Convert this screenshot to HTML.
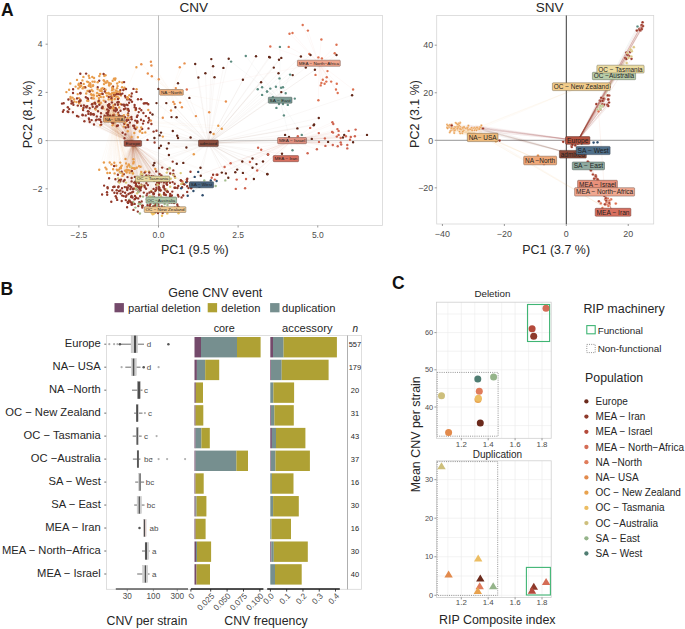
<!DOCTYPE html>
<html><head><meta charset="utf-8"><style>
html,body{margin:0;padding:0;background:#fff;}
svg{display:block;font-family:"Liberation Sans", sans-serif;}
</style></head><body>
<svg width="685" height="629" viewBox="0 0 685 629">
<defs><clipPath id="clipc"><rect x="47.6" y="15.5" width="334.8" height="210"/></clipPath><clipPath id="clips"><rect x="436.7" y="15.5" width="217" height="208.5"/></clipPath></defs>
<rect width="685" height="629" fill="#fff"/>
<text x="1" y="16" font-size="17.5" font-weight="bold" fill="#111">A</text>
<text x="0.5" y="295" font-size="17.5" font-weight="bold" fill="#111">B</text>
<text x="392" y="288.6" font-size="17.5" font-weight="bold" fill="#111">C</text>
<text x="193.8" y="11.8" font-size="13.55" text-anchor="middle" fill="#262626" >CNV</text>
<rect x="47.6" y="15.5" width="334.8" height="210.0" fill="none" stroke="#d6d6d6" stroke-width="0.8"/>
<line x1="158.50" y1="15.50" x2="158.50" y2="225.50" stroke="#a0a0a0" stroke-width="0.7" />
<line x1="47.60" y1="140.60" x2="382.40" y2="140.60" stroke="#b5b5b5" stroke-width="0.7" />
<g clip-path="url(#clipc)"><path d="M245.8 56.0L280.0 100.2M231.1 61.6L280.0 100.2M257.7 89.3L280.0 100.2M262.1 87.2L280.0 100.2M267.0 91.4L280.0 100.2M262.1 94.9L280.0 100.2M279.9 46.9L280.0 100.2M279.5 78.4L280.0 100.2M290.1 74.6L280.0 100.2M267.1 91.6L280.0 100.2M270.3 88.6L280.0 100.2M275.9 86.8L280.0 100.2M281.1 87.7L280.0 100.2M283.0 87.2L280.0 100.2M285.7 93.3L280.0 100.2M272.9 97.3L280.0 100.2M279.0 104.0L280.0 100.2M283.0 104.0L280.0 100.2M287.8 104.9L280.0 100.2M276.4 107.9L280.0 100.2M294.8 98.6L280.0 100.2M283.9 115.4L280.0 100.2M301.8 134.9L280.0 100.2M292.5 150.3L280.0 100.2" stroke="#5d8c80" stroke-width="0.25" stroke-opacity="0.170" fill="none"/>
<path d="M256.0 56.3L208.4 143.4M269.1 57.0L208.4 143.4M228.7 58.8L208.4 143.4M211.3 59.1L208.4 143.4M195.2 64.0L208.4 143.4M213.1 66.2L208.4 143.4M223.4 67.9L208.4 143.4M205.4 73.2L208.4 143.4M198.4 77.5L208.4 143.4M214.5 77.2L208.4 143.4M178.0 83.3L208.4 143.4M242.9 79.8L208.4 143.4M261.1 82.3L208.4 143.4M158.4 88.9L208.4 143.4M189.4 97.9L208.4 143.4M166.3 103.1L208.4 143.4M156.5 103.1L208.4 143.4M175.4 107.3L208.4 143.4M171.5 117.1L208.4 143.4M176.6 117.3L208.4 143.4M152.5 114.5L208.4 143.4M269.9 57.4L208.4 143.4M279.0 59.7L208.4 143.4M281.3 57.9L208.4 143.4M300.9 56.5L208.4 143.4M310.5 55.0L208.4 143.4M336.5 55.0L208.4 143.4M273.8 67.6L208.4 143.4M305.8 67.6L208.4 143.4M314.9 69.8L208.4 143.4M278.5 73.3L208.4 143.4M292.7 75.1L208.4 143.4M352.1 95.2L208.4 143.4M281.3 92.1L208.4 143.4M318.8 118.0L208.4 143.4M314.1 124.5L208.4 143.4M313.7 125.3L208.4 143.4M297.4 128.4L208.4 143.4M367.0 134.9L208.4 143.4M285.1 134.9L208.4 143.4M289.0 137.0L208.4 143.4M344.2 134.9L208.4 143.4M343.0 137.5L208.4 143.4M311.8 138.9L208.4 143.4M353.1 142.2L208.4 143.4M328.1 141.9L208.4 143.4M282.0 153.8L208.4 143.4M267.3 174.0L208.4 143.4M210.4 132.3L208.4 143.4M172.8 131.0L208.4 143.4M190.6 137.5L208.4 143.4M177.2 135.8L208.4 143.4M178.0 138.0L208.4 143.4M161.0 132.6L208.4 143.4M159.6 135.4L208.4 143.4M154.4 138.0L208.4 143.4M168.7 143.3L208.4 143.4M160.9 145.8L208.4 143.4M159.1 148.0L208.4 143.4M167.0 148.6L208.4 143.4M186.4 147.5L208.4 143.4M168.9 155.0L208.4 143.4M267.9 154.5L208.4 143.4M154.4 162.9L208.4 143.4M153.5 165.2L208.4 143.4M176.8 163.8L208.4 143.4M183.3 162.9L208.4 143.4M200.5 167.7L208.4 143.4M200.8 175.7L208.4 143.4M242.3 161.5L208.4 143.4M252.5 158.5L208.4 143.4M256.5 164.1L208.4 143.4M263.0 161.5L208.4 143.4M252.5 167.7L208.4 143.4M237.2 169.6L208.4 143.4M235.3 172.2L208.4 143.4M242.9 172.9L208.4 143.4M221.8 172.6L208.4 143.4M225.9 173.4L208.4 143.4M228.3 177.8L208.4 143.4M253.9 179.0L208.4 143.4M267.4 174.3L208.4 143.4" stroke="#7a4030" stroke-width="0.25" stroke-opacity="0.170" fill="none"/>
<path d="M184.5 63.4L171.5 92.4M179.8 67.2L171.5 92.4M158.8 79.3L171.5 92.4M175.8 88.1L171.5 92.4M225.9 101.5L171.5 92.4M173.3 101.9L171.5 92.4M174.5 104.0L171.5 92.4M180.1 102.6L171.5 92.4M181.9 107.3L171.5 92.4M171.0 110.5L171.5 92.4M141.3 64.3L171.5 92.4M147.8 73.5L171.5 92.4M162.8 117.8L171.5 92.4M195.9 116.1L171.5 92.4M209.2 112.2L171.5 92.4M150.9 61.8L171.5 92.4M151.4 65.5L171.5 92.4M151.8 76.3L171.5 92.4M150.9 120.6L171.5 92.4" stroke="#e8904e" stroke-width="0.25" stroke-opacity="0.170" fill="none"/>
<path d="M186.8 89.5L318.9 63.3M302.7 25.0L318.9 63.3M307.9 30.6L318.9 63.3M289.5 33.7L318.9 63.3M292.5 33.0L318.9 63.3M321.4 39.5L318.9 63.3M336.5 44.8L318.9 63.3M270.3 46.5L318.9 63.3M288.7 46.9L318.9 63.3M309.3 53.9L318.9 63.3M318.4 57.4L318.9 63.3M321.9 58.4L318.9 63.3M334.7 53.2L318.9 63.3M315.5 74.9L318.9 63.3M327.5 71.1L318.9 63.3M326.7 77.2L318.9 63.3M322.8 79.8L318.9 63.3M326.3 81.6L318.9 63.3M321.4 83.0L318.9 63.3M324.6 83.7L318.9 63.3M331.2 81.6L318.9 63.3M320.7 85.4L318.9 63.3M336.8 83.7L318.9 63.3M336.0 89.5L318.9 63.3M337.7 93.0L318.9 63.3M353.1 89.5L318.9 63.3M318.4 100.3L318.9 63.3" stroke="#dd7252" stroke-width="0.25" stroke-opacity="0.170" fill="none"/>
<path d="M136.4 67.3L114.0 119.2M218.3 125.8L114.0 119.2M221.8 128.8L114.0 119.2M213.6 134.0L114.0 119.2M162.8 136.6L114.0 119.2M193.8 154.2L114.0 119.2M169.8 168.2L114.0 119.2M155.3 169.0L114.0 119.2M112.0 90.2L114.0 119.2M104.2 75.7L114.0 119.2M105.6 89.7L114.0 119.2M99.3 76.1L114.0 119.2M93.8 98.4L114.0 119.2M94.6 81.7L114.0 119.2M102.8 88.2L114.0 119.2M115.6 92.8L114.0 119.2M112.7 80.8L114.0 119.2M116.0 96.6L114.0 119.2M88.3 82.1L114.0 119.2M109.5 94.2L114.0 119.2M103.5 97.0L114.0 119.2M114.0 78.8L114.0 119.2M82.6 88.4L114.0 119.2M105.5 75.2L114.0 119.2M100.2 74.0L114.0 119.2M70.6 98.7L114.0 119.2M100.8 96.9L114.0 119.2M89.3 90.6L114.0 119.2M78.7 85.1L114.0 119.2M113.4 105.4L114.0 119.2M117.6 96.6L114.0 119.2M115.0 79.7L114.0 119.2M92.6 81.6L114.0 119.2M117.6 86.1L114.0 119.2M86.2 93.5L114.0 119.2M113.5 108.8L114.0 119.2M92.8 86.1L114.0 119.2M101.7 90.9L114.0 119.2M109.5 83.3L114.0 119.2M78.9 98.1L114.0 119.2M70.3 83.5L114.0 119.2M112.1 99.5L114.0 119.2M83.4 76.9L114.0 119.2M88.3 100.8L114.0 119.2M88.8 75.8L114.0 119.2M111.1 94.3L114.0 119.2M124.4 89.0L114.0 119.2M117.2 83.5L114.0 119.2M85.6 87.4L114.0 119.2M81.1 85.8L114.0 119.2M88.8 85.9L114.0 119.2M90.7 86.9L114.0 119.2M77.7 94.1L114.0 119.2M116.8 93.2L114.0 119.2M119.4 94.1L114.0 119.2M76.5 102.1L114.0 119.2M122.3 82.5L114.0 119.2M66.4 92.1L114.0 119.2M100.4 94.3L114.0 119.2M127.8 97.7L114.0 119.2M100.5 103.3L114.0 119.2M112.9 107.9L114.0 119.2M70.5 97.0L114.0 119.2M74.4 101.6L114.0 119.2M107.2 81.1L114.0 119.2M79.3 102.4L114.0 119.2M98.9 102.4L114.0 119.2M90.6 84.9L114.0 119.2M127.9 98.6L114.0 119.2M97.1 93.0L114.0 119.2M111.9 100.0L114.0 119.2M124.5 87.8L114.0 119.2M118.7 98.3L114.0 119.2M120.5 104.0L114.0 119.2M119.2 107.4L114.0 119.2M127.3 97.3L114.0 119.2M99.1 100.1L114.0 119.2M117.1 88.3L114.0 119.2M92.3 77.0L114.0 119.2M89.4 77.9L114.0 119.2M78.3 88.4L114.0 119.2M72.5 97.6L114.0 119.2M115.4 78.4L114.0 119.2M69.1 89.8L114.0 119.2M103.0 108.3L114.0 119.2M77.0 79.9L114.0 119.2M80.3 100.4L114.0 119.2M103.7 80.2L114.0 119.2M83.7 83.9L114.0 119.2M89.7 91.4L114.0 119.2M113.4 89.4L114.0 119.2M87.2 100.8L114.0 119.2M100.7 102.8L114.0 119.2M97.7 82.2L114.0 119.2M112.7 86.8L114.0 119.2M99.8 90.4L114.0 119.2M105.9 82.7L114.0 119.2M92.5 98.3L114.0 119.2M108.5 93.0L114.0 119.2M82.4 80.4L114.0 119.2M90.1 83.3L114.0 119.2M115.9 90.5L114.0 119.2M87.5 91.0L114.0 119.2M114.8 99.0L114.0 119.2M78.9 83.6L114.0 119.2M97.6 89.1L114.0 119.2M119.9 92.4L114.0 119.2M112.1 87.7L114.0 119.2M100.5 90.7L114.0 119.2M89.6 84.7L114.0 119.2M78.6 84.6L114.0 119.2M97.0 96.0L114.0 119.2M91.9 95.2L114.0 119.2M80.0 87.0L114.0 119.2M114.0 94.3L114.0 119.2M75.6 86.6L114.0 119.2M108.4 82.6L114.0 119.2M101.5 88.8L114.0 119.2M104.0 84.1L114.0 119.2M92.7 91.1L114.0 119.2M89.0 85.4L114.0 119.2M93.4 94.7L114.0 119.2M87.1 81.6L114.0 119.2M109.4 85.2L114.0 119.2M119.4 91.8L114.0 119.2M109.0 85.3L114.0 119.2M106.9 95.8L114.0 119.2M83.5 87.3L114.0 119.2M114.3 92.6L114.0 119.2M94.1 78.0L114.0 119.2M99.0 94.1L114.0 119.2M111.0 99.0L114.0 119.2M93.1 85.3L114.0 119.2M93.8 95.6L114.0 119.2M106.0 93.0L114.0 119.2M91.1 94.2L114.0 119.2M80.0 86.6L114.0 119.2M98.9 98.1L114.0 119.2M113.8 93.1L114.0 119.2M117.4 91.4L114.0 119.2M91.6 90.0L114.0 119.2M108.6 99.4L114.0 119.2M104.5 81.5L114.0 119.2M113.5 114.9L114.0 119.2M93.9 103.2L114.0 119.2M110.5 108.0L114.0 119.2M112.0 93.2L114.0 119.2M135.4 110.1L114.0 119.2M82.9 108.7L114.0 119.2M136.6 89.3L114.0 119.2M110.9 83.8L114.0 119.2M120.9 95.4L114.0 119.2M122.1 116.9L114.0 119.2M95.7 109.6L114.0 119.2M79.2 103.4L114.0 119.2M74.0 99.3L114.0 119.2M112.8 88.7L114.0 119.2M108.3 93.2L114.0 119.2M112.7 96.6L114.0 119.2M119.4 81.9L114.0 119.2M122.1 87.2L114.0 119.2M148.3 110.0L114.0 119.2M103.8 100.6L114.0 119.2M117.8 114.5L114.0 119.2M130.0 117.6L114.0 119.2M137.3 122.8L114.0 119.2M98.2 101.7L114.0 119.2M112.5 125.3L114.0 119.2M108.9 106.3L114.0 119.2M100.3 125.2L114.0 119.2M127.0 125.0L114.0 119.2M127.6 109.9L114.0 119.2M129.4 95.2L114.0 119.2M141.2 127.5L114.0 119.2M120.4 120.1L114.0 119.2M136.9 127.5L114.0 119.2M139.8 131.5L114.0 119.2M123.9 115.3L114.0 119.2M125.4 122.6L114.0 119.2M127.8 114.6L114.0 119.2M123.8 126.6L114.0 119.2M127.4 117.9L114.0 119.2M140.1 130.6L114.0 119.2M137.9 137.3L114.0 119.2M142.3 132.9L114.0 119.2M134.3 133.0L114.0 119.2M127.8 131.3L114.0 119.2M131.6 137.0L114.0 119.2M145.3 132.4L114.0 119.2M121.0 167.0L114.0 119.2M109.7 162.5L114.0 119.2M103.9 162.5L114.0 119.2M126.7 169.6L114.0 119.2M136.8 167.7L114.0 119.2M113.1 169.2L114.0 119.2M122.4 175.9L114.0 119.2M145.5 171.8L114.0 119.2M111.5 164.4L114.0 119.2M126.1 163.4L114.0 119.2M129.8 170.4L114.0 119.2M133.2 168.1L114.0 119.2M114.3 162.8L114.0 119.2M122.6 173.6L114.0 119.2M141.3 171.9L114.0 119.2M128.0 170.4L114.0 119.2M133.0 173.5L114.0 119.2M133.4 159.3L114.0 119.2M134.5 168.9L114.0 119.2M118.9 169.6L114.0 119.2M127.2 166.7L114.0 119.2M105.4 167.6L114.0 119.2M130.1 166.8L114.0 119.2M106.5 169.3L114.0 119.2M131.9 167.9L114.0 119.2M128.7 165.2L114.0 119.2M116.8 169.6L114.0 119.2M120.1 167.9L114.0 119.2M125.5 158.9L114.0 119.2M125.1 170.8L114.0 119.2M116.2 165.8L114.0 119.2M99.2 169.8L114.0 119.2M117.5 170.4L114.0 119.2M139.0 166.2L114.0 119.2M134.8 168.3L114.0 119.2M121.8 165.6L114.0 119.2M114.6 173.4L114.0 119.2M133.7 162.0L114.0 119.2M133.3 163.4L114.0 119.2M107.4 173.0L114.0 119.2M109.9 172.9L114.0 119.2M126.2 171.5L114.0 119.2M129.6 172.8L114.0 119.2M127.8 169.9L114.0 119.2M126.7 172.5L114.0 119.2M119.7 172.1L114.0 119.2M140.6 166.7L114.0 119.2M128.8 164.4L114.0 119.2M120.8 168.3L114.0 119.2M120.2 162.6L114.0 119.2" stroke="#e89c4c" stroke-width="0.25" stroke-opacity="0.170" fill="none"/>
<path d="M332.4 122.2L292.0 140.6M333.3 124.0L292.0 140.6M310.2 127.9L292.0 140.6M337.4 129.1L292.0 140.6M338.6 130.9L292.0 140.6M355.6 129.6L292.0 140.6M348.7 130.9L292.0 140.6M318.8 133.1L292.0 140.6M332.1 131.9L292.0 140.6M333.0 132.6L292.0 140.6M297.8 136.3L292.0 140.6M336.8 136.6L292.0 140.6M338.6 134.9L292.0 140.6M340.7 138.0L292.0 140.6M345.9 136.3L292.0 140.6M350.8 137.0L292.0 140.6M354.9 136.3L292.0 140.6M324.9 138.4L292.0 140.6M350.0 139.8L292.0 140.6M319.0 141.9L292.0 140.6M340.7 142.4L292.0 140.6M341.2 144.5L292.0 140.6M332.8 145.0L292.0 140.6M337.7 146.3L292.0 140.6M325.4 145.9L292.0 140.6M347.3 145.0L292.0 140.6M347.3 148.4L292.0 140.6M316.9 149.3L292.0 140.6M307.6 153.3L292.0 140.6M268.2 154.5L292.0 140.6M258.1 147.7L292.0 140.6M261.2 149.8L292.0 140.6M230.6 163.3L292.0 140.6M224.6 167.0L292.0 140.6M249.9 162.0L292.0 140.6M257.2 170.5L292.0 140.6M236.7 179.6L292.0 140.6M246.0 179.0L292.0 140.6M235.8 188.9L292.0 140.6M245.1 188.3L292.0 140.6M211.7 177.8L292.0 140.6M214.8 179.6L292.0 140.6M216.6 174.7L292.0 140.6M182.1 181.3L292.0 140.6M186.8 179.6L292.0 140.6" stroke="#cf6450" stroke-width="0.25" stroke-opacity="0.170" fill="none"/>
<path d="M198.2 171.9L201.5 184.8M210.8 180.4L201.5 184.8M216.6 181.0L201.5 184.8M194.7 176.9L201.5 184.8M186.3 182.2L201.5 184.8M181.2 188.3L201.5 184.8M187.7 195.7L201.5 184.8M193.4 191.0L201.5 184.8M202.6 195.3L201.5 184.8M199.4 186.9L201.5 184.8" stroke="#2d4c6c" stroke-width="0.25" stroke-opacity="0.170" fill="none"/>
<path d="M213.1 174.7L132.9 143.4M217.4 174.7L132.9 143.4M187.3 178.7L132.9 143.4M191.2 188.3L132.9 143.4M102.2 108.0L132.9 143.4M145.1 103.3L132.9 143.4M107.2 109.4L132.9 143.4M77.8 105.6L132.9 143.4M118.3 119.6L132.9 143.4M124.1 82.1L132.9 143.4M120.5 110.8L132.9 143.4M63.7 103.2L132.9 143.4M101.1 122.1L132.9 143.4M108.2 112.0L132.9 143.4M106.5 113.1L132.9 143.4M102.6 93.9L132.9 143.4M137.5 115.4L132.9 143.4M89.7 91.5L132.9 143.4M130.7 100.0L132.9 143.4M138.0 99.3L132.9 143.4M148.2 122.4L132.9 143.4M143.8 103.5L132.9 143.4M67.6 111.5L132.9 143.4M131.8 93.5L132.9 143.4M148.7 117.9L132.9 143.4M133.5 88.9L132.9 143.4M111.9 102.4L132.9 143.4M78.4 116.6L132.9 143.4M72.9 112.2L132.9 143.4M71.6 101.0L132.9 143.4M80.4 93.5L132.9 143.4M149.4 120.2L132.9 143.4M80.2 99.7L132.9 143.4M138.7 112.1L132.9 143.4M80.4 92.9L132.9 143.4M131.3 96.4L132.9 143.4M69.2 109.1L132.9 143.4M83.1 110.1L132.9 143.4M94.8 102.7L132.9 143.4M148.3 104.2L132.9 143.4M113.3 123.3L132.9 143.4M143.7 120.9L132.9 143.4M128.3 127.0L132.9 143.4M141.3 110.2L132.9 143.4M82.7 115.2L132.9 143.4M84.4 121.2L132.9 143.4M115.3 94.7L132.9 143.4M77.0 116.0L132.9 143.4M111.9 122.6L132.9 143.4M116.9 94.0L132.9 143.4M77.0 98.4L132.9 143.4M113.1 86.6L132.9 143.4M94.0 124.5L132.9 143.4M150.2 112.8L132.9 143.4M123.9 109.2L132.9 143.4M62.9 111.8L132.9 143.4M104.9 116.5L132.9 143.4M67.8 107.3L132.9 143.4M128.1 125.0L132.9 143.4M128.1 115.2L132.9 143.4M133.2 125.8L132.9 143.4M93.0 114.3L132.9 143.4M143.0 123.6L132.9 143.4M99.0 119.5L132.9 143.4M139.6 108.6L132.9 143.4M117.9 99.1L132.9 143.4M114.0 110.4L132.9 143.4M68.3 112.0L132.9 143.4M151.4 124.0L132.9 143.4M127.3 99.4L132.9 143.4M127.9 109.0L132.9 143.4M101.1 121.9L132.9 143.4M63.7 110.1L132.9 143.4M104.8 91.5L132.9 143.4M124.5 104.9L132.9 143.4M116.9 126.0L132.9 143.4M88.4 113.9L132.9 143.4M143.4 113.0L132.9 143.4M101.2 124.6L132.9 143.4M90.8 113.3L132.9 143.4M79.1 101.5L132.9 143.4M134.3 125.7L132.9 143.4M141.1 99.2L132.9 143.4M114.1 95.8L132.9 143.4M73.4 104.8L132.9 143.4M137.2 122.4L132.9 143.4M125.7 127.5L132.9 143.4M102.0 93.8L132.9 143.4M80.5 100.7L132.9 143.4M117.9 104.7L132.9 143.4M89.7 122.0L132.9 143.4M125.5 108.5L132.9 143.4M89.1 119.6L132.9 143.4M136.5 91.9L132.9 143.4M118.3 102.3L132.9 143.4M118.3 112.8L132.9 143.4M134.5 127.9L132.9 143.4M123.3 90.0L132.9 143.4M104.2 88.9L132.9 143.4M62.0 103.6L132.9 143.4M126.0 89.0L132.9 143.4M85.8 97.3L132.9 143.4M124.5 106.0L132.9 143.4M116.9 117.8L132.9 143.4M96.8 119.6L132.9 143.4M145.9 116.1L132.9 143.4M72.8 102.7L132.9 143.4M117.9 125.5L132.9 143.4M95.3 108.4L132.9 143.4M141.0 119.8L132.9 143.4M146.9 103.2L132.9 143.4M120.3 90.2L132.9 143.4M126.7 120.9L132.9 143.4M119.4 115.9L132.9 143.4M109.3 116.5L132.9 143.4M95.9 120.2L132.9 143.4M129.1 102.8L132.9 143.4M81.1 105.7L132.9 143.4M110.1 115.8L132.9 143.4M125.6 97.4L132.9 143.4M96.8 116.4L132.9 143.4M108.0 114.4L132.9 143.4M128.1 113.4L132.9 143.4M134.6 107.3L132.9 143.4M89.7 108.3L132.9 143.4M94.0 114.6L132.9 143.4M115.6 108.2L132.9 143.4M128.3 109.4L132.9 143.4M95.3 103.8L132.9 143.4M128.4 119.9L132.9 143.4M88.9 118.4L132.9 143.4M136.0 108.3L132.9 143.4M111.5 98.2L132.9 143.4M109.2 107.6L132.9 143.4M113.5 92.9L132.9 143.4M100.8 116.8L132.9 143.4M110.9 107.2L132.9 143.4M118.8 94.0L132.9 143.4M109.4 104.8L132.9 143.4M135.3 120.6L132.9 143.4M92.7 106.7L132.9 143.4M83.9 105.4L132.9 143.4M126.6 119.9L132.9 143.4M105.5 101.8L132.9 143.4M87.9 111.2L132.9 143.4M88.0 99.0L132.9 143.4M118.6 102.0L132.9 143.4M98.0 111.2L132.9 143.4M82.5 114.7L132.9 143.4M83.6 107.8L132.9 143.4M91.5 98.1L132.9 143.4M108.9 105.5L132.9 143.4M99.3 104.8L132.9 143.4M108.8 97.0L132.9 143.4M88.7 111.6L132.9 143.4M115.6 108.4L132.9 143.4M128.8 111.0L132.9 143.4M129.1 99.2L132.9 143.4M121.9 117.1L132.9 143.4M132.0 101.8L132.9 143.4M90.8 114.5L132.9 143.4M127.6 105.1L132.9 143.4M125.0 95.9L132.9 143.4M101.0 113.2L132.9 143.4M118.3 120.3L132.9 143.4M107.4 115.5L132.9 143.4M107.2 113.3L132.9 143.4M110.2 108.0L132.9 143.4M111.3 96.5L132.9 143.4M87.4 98.3L132.9 143.4M104.6 115.7L132.9 143.4M96.3 106.5L132.9 143.4M107.9 105.3L132.9 143.4M119.5 118.2L132.9 143.4M87.2 106.1L132.9 143.4M121.8 104.6L132.9 143.4M131.4 116.9L132.9 143.4M119.7 118.7L132.9 143.4M115.0 104.5L132.9 143.4M113.2 107.6L132.9 143.4M136.9 116.9L132.9 143.4M122.2 116.1L132.9 143.4M126.5 104.6L132.9 143.4M131.6 119.3L132.9 143.4M119.1 115.8L132.9 143.4M123.4 104.6L132.9 143.4M120.8 94.2L132.9 143.4M97.2 106.5L132.9 143.4M115.6 111.3L132.9 143.4M117.3 102.5L132.9 143.4M116.9 109.7L132.9 143.4M109.1 104.1L132.9 143.4M119.5 115.6L132.9 143.4M114.2 114.9L132.9 143.4M91.9 104.4L132.9 143.4M99.3 95.1L132.9 143.4M91.6 120.1L132.9 143.4M110.1 107.7L132.9 143.4M136.0 109.6L132.9 143.4M113.0 115.5L132.9 143.4M85.9 106.6L132.9 143.4M86.5 107.4L132.9 143.4M113.9 93.8L132.9 143.4M134.6 105.0L132.9 143.4M108.7 110.5L132.9 143.4M98.7 100.9L132.9 143.4M116.6 109.4L132.9 143.4M93.6 114.2L132.9 143.4M85.7 115.4L132.9 143.4M100.2 119.8L132.9 143.4M122.4 93.6L132.9 143.4M137.3 121.3L132.9 143.4M102.6 106.8L132.9 143.4M108.4 121.1L132.9 143.4M103.6 73.9L132.9 143.4M73.1 89.3L132.9 143.4M97.7 87.3L132.9 143.4M68.4 99.5L132.9 143.4M99.2 80.8L132.9 143.4M84.9 87.2L132.9 143.4M80.3 73.8L132.9 143.4M108.3 106.5L132.9 143.4M92.4 104.0L132.9 143.4M79.4 101.6L132.9 143.4M101.8 108.0L132.9 143.4M71.4 103.5L132.9 143.4M73.0 93.0L132.9 143.4M80.9 83.3L132.9 143.4M86.1 73.6L132.9 143.4M153.6 131.6L132.9 143.4M154.6 142.5L132.9 143.4M125.0 117.3L132.9 143.4M156.5 130.8L132.9 143.4M148.5 128.4L132.9 143.4M124.3 123.7L132.9 143.4M129.9 122.6L132.9 143.4M119.8 120.8L132.9 143.4M147.5 139.9L132.9 143.4M125.4 134.4L132.9 143.4M124.5 138.3L132.9 143.4M142.2 128.9L132.9 143.4M122.6 132.8L132.9 143.4M135.6 129.1L132.9 143.4M118.6 181.8L132.9 143.4M137.8 211.6L132.9 143.4M167.1 182.1L132.9 143.4M134.9 176.9L132.9 143.4M187.2 186.2L132.9 143.4M171.7 202.6L132.9 143.4M131.3 187.3L132.9 143.4M131.6 204.7L132.9 143.4M149.3 172.5L132.9 143.4M137.9 180.7L132.9 143.4M156.2 171.4L132.9 143.4M130.4 189.1L132.9 143.4M151.5 176.1L132.9 143.4M166.3 181.7L132.9 143.4M168.0 200.0L132.9 143.4M115.4 179.2L132.9 143.4M127.5 202.1L132.9 143.4M138.9 187.4L132.9 143.4M180.8 180.2L132.9 143.4M128.6 185.5L132.9 143.4M121.6 171.8L132.9 143.4M153.5 206.4L132.9 143.4M190.8 183.4L132.9 143.4M163.0 211.4L132.9 143.4M121.7 201.0L132.9 143.4M162.7 213.0L132.9 143.4M181.0 180.6L132.9 143.4M159.6 174.0L132.9 143.4M140.9 187.7L132.9 143.4M107.5 187.3L132.9 143.4M131.9 192.4L132.9 143.4M127.5 177.1L132.9 143.4M138.6 191.4L132.9 143.4M117.2 199.9L132.9 143.4M123.8 174.2L132.9 143.4M133.1 189.0L132.9 143.4M115.7 196.2L132.9 143.4M165.8 194.9L132.9 143.4M137.6 186.4L132.9 143.4M107.7 188.2L132.9 143.4M107.0 192.3L132.9 143.4M155.3 191.1L132.9 143.4M131.6 181.4L132.9 143.4M104.1 185.6L132.9 143.4M183.2 195.5L132.9 143.4M125.8 200.1L132.9 143.4M118.9 191.1L132.9 143.4M158.0 213.0L132.9 143.4M135.0 195.9L132.9 143.4M159.1 197.9L132.9 143.4M139.4 188.7L132.9 143.4M127.1 207.3L132.9 143.4M182.1 187.2L132.9 143.4M114.4 192.8L132.9 143.4M130.1 186.2L132.9 143.4M119.5 180.3L132.9 143.4M163.9 180.6L132.9 143.4M102.1 194.5L132.9 143.4M137.8 180.8L132.9 143.4M146.9 199.3L132.9 143.4M151.9 198.1L132.9 143.4M153.0 207.4L132.9 143.4M190.2 185.0L132.9 143.4M133.5 209.9L132.9 143.4M130.5 202.2L132.9 143.4M165.3 200.9L132.9 143.4M116.5 198.0L132.9 143.4M146.6 195.4L132.9 143.4M135.6 182.9L132.9 143.4M170.2 194.0L132.9 143.4M123.6 181.2L132.9 143.4M131.6 178.0L132.9 143.4M148.8 175.7L132.9 143.4M111.3 201.7L132.9 143.4M112.3 190.3L132.9 143.4M172.3 191.6L132.9 143.4M125.1 192.8L132.9 143.4M174.5 187.7L132.9 143.4M167.2 181.3L132.9 143.4M167.1 184.7L132.9 143.4M132.4 204.2L132.9 143.4M178.7 207.3L132.9 143.4M153.6 188.9L132.9 143.4M166.3 198.0L132.9 143.4M177.6 206.1L132.9 143.4M113.4 187.0L132.9 143.4M162.9 180.4L132.9 143.4M155.3 212.3L132.9 143.4M164.6 188.9L132.9 143.4M159.5 187.9L132.9 143.4M128.0 202.9L132.9 143.4M132.0 171.2L132.9 143.4M151.4 191.7L132.9 143.4M136.0 183.9L132.9 143.4M174.8 207.7L132.9 143.4M127.8 187.6L132.9 143.4M158.2 204.4L132.9 143.4M191.3 187.5L132.9 143.4M165.2 194.6L132.9 143.4M174.8 176.6L132.9 143.4M117.9 174.8L132.9 143.4M187.0 181.3L132.9 143.4M146.4 175.4L132.9 143.4M131.5 170.9L132.9 143.4M153.5 176.5L132.9 143.4M158.9 182.3L132.9 143.4M122.7 191.7L132.9 143.4M135.3 181.7L132.9 143.4M183.2 183.9L132.9 143.4M109.1 178.2L132.9 143.4M146.1 188.7L132.9 143.4M175.4 187.8L132.9 143.4M107.2 194.8L132.9 143.4M161.8 198.0L132.9 143.4M142.3 207.5L132.9 143.4M168.0 177.9L132.9 143.4M134.7 203.9L132.9 143.4M130.2 193.1L132.9 143.4M150.0 206.5L132.9 143.4M174.1 203.1L132.9 143.4M138.3 206.1L132.9 143.4M177.3 204.5L132.9 143.4M188.5 188.1L132.9 143.4M166.2 181.3L132.9 143.4M154.5 180.2L132.9 143.4M137.3 186.6L132.9 143.4M161.8 206.5L132.9 143.4M135.2 198.7L132.9 143.4M134.2 182.6L132.9 143.4M184.4 184.5L132.9 143.4M118.6 186.4L132.9 143.4M163.9 182.6L132.9 143.4M164.0 192.9L132.9 143.4M159.6 181.5L132.9 143.4M119.4 180.4L132.9 143.4M136.5 189.4L132.9 143.4M140.2 186.0L132.9 143.4M149.6 205.5L132.9 143.4M134.5 199.4L132.9 143.4M142.1 205.8L132.9 143.4M127.4 188.7L132.9 143.4M161.4 181.5L132.9 143.4M131.1 197.0L132.9 143.4M178.3 186.0L132.9 143.4M124.8 187.1L132.9 143.4M156.4 187.7L132.9 143.4M157.1 182.6L132.9 143.4M155.1 203.5L132.9 143.4M171.9 195.5L132.9 143.4M147.3 193.6L132.9 143.4M160.3 190.0L132.9 143.4M158.6 189.0L132.9 143.4M138.9 183.1L132.9 143.4M154.0 193.8L132.9 143.4M148.1 177.0L132.9 143.4M155.9 189.9L132.9 143.4M153.5 194.4L132.9 143.4M163.7 185.7L132.9 143.4M140.1 202.9L132.9 143.4M146.4 183.3L132.9 143.4M170.8 196.1L132.9 143.4M167.8 191.9L132.9 143.4M172.9 198.1L132.9 143.4M129.5 201.0L132.9 143.4M143.8 192.6L132.9 143.4M172.6 182.1L132.9 143.4M131.6 196.0L132.9 143.4M117.1 193.2L132.9 143.4M167.1 191.2L132.9 143.4M128.9 200.8L132.9 143.4M171.9 199.9L132.9 143.4M150.4 204.1L132.9 143.4M167.8 180.7L132.9 143.4M137.6 179.1L132.9 143.4M114.6 186.7L132.9 143.4M172.5 201.9L132.9 143.4M120.2 181.6L132.9 143.4M139.2 202.3L132.9 143.4M155.2 204.0L132.9 143.4M126.5 195.5L132.9 143.4M173.4 198.6L132.9 143.4M125.8 196.7L132.9 143.4M142.2 176.5L132.9 143.4M135.8 185.8L132.9 143.4M156.1 184.6L132.9 143.4M154.2 197.5L132.9 143.4M124.6 180.0L132.9 143.4M160.6 190.5L132.9 143.4M121.0 179.6L132.9 143.4M177.9 194.9L132.9 143.4M137.0 182.1L132.9 143.4M181.6 197.4L132.9 143.4M163.5 187.2L132.9 143.4M133.7 188.7L132.9 143.4M122.2 195.6L132.9 143.4M141.7 201.4L132.9 143.4M140.6 190.2L132.9 143.4M147.5 205.2L132.9 143.4M136.2 197.8L132.9 143.4M128.5 194.0L132.9 143.4M131.9 203.1L132.9 143.4M132.1 202.5L132.9 143.4M159.4 190.1L132.9 143.4M177.4 188.0L132.9 143.4M164.0 194.6L132.9 143.4M143.4 178.0L132.9 143.4M141.3 184.7L132.9 143.4M142.9 205.6L132.9 143.4M132.5 197.5L132.9 143.4M159.0 183.6L132.9 143.4M140.8 180.1L132.9 143.4M174.7 183.8L132.9 143.4M141.4 186.6L132.9 143.4M169.4 202.4L132.9 143.4M153.3 192.9L132.9 143.4M118.2 187.3L132.9 143.4M138.2 198.4L132.9 143.4M158.8 186.7L132.9 143.4M144.8 187.2L132.9 143.4M144.5 185.8L132.9 143.4M159.0 194.8L132.9 143.4M170.0 196.1L132.9 143.4M116.7 190.3L132.9 143.4M140.1 196.3L132.9 143.4M126.7 187.5L132.9 143.4M122.0 188.2L132.9 143.4M163.9 178.6L132.9 143.4M123.7 196.1L132.9 143.4M155.6 199.0L132.9 143.4M129.7 201.1L132.9 143.4M163.2 200.1L132.9 143.4M120.4 190.5L132.9 143.4M113.7 186.9L132.9 143.4M149.5 192.5L132.9 143.4M133.1 191.7L132.9 143.4M120.7 193.6L132.9 143.4M147.9 185.1L132.9 143.4M166.4 183.7L132.9 143.4M141.0 177.7L132.9 143.4M127.2 190.0L132.9 143.4M114.1 166.0L132.9 143.4M190.5 171.7L132.9 143.4M154.1 180.8L132.9 143.4M170.2 173.5L132.9 143.4M155.2 205.5L132.9 143.4M144.6 172.6L132.9 143.4M163.7 187.0L132.9 143.4M173.4 174.0L132.9 143.4M173.3 170.4L132.9 143.4M178.5 196.5L132.9 143.4M161.4 175.5L132.9 143.4M172.7 161.6L132.9 143.4M162.2 167.6L132.9 143.4M159.0 206.7L132.9 143.4M167.5 169.1L132.9 143.4M170.0 182.8L132.9 143.4M153.6 177.5L132.9 143.4M165.5 190.3L132.9 143.4M187.2 191.9L132.9 143.4M167.4 191.4L132.9 143.4" stroke="#a0522d" stroke-width="0.25" stroke-opacity="0.102" fill="none"/>
<path d="M225.3 180.4L161.3 200.2M215.7 186.0L161.3 200.2M204.3 180.4L161.3 200.2M169.6 168.0L161.3 200.2M167.5 205.0L161.3 200.2M164.7 204.1L161.3 200.2M148.5 201.2L161.3 200.2M166.8 198.6L161.3 200.2M149.0 201.7L161.3 200.2M149.1 196.8L161.3 200.2M136.5 189.0L161.3 200.2M153.8 201.0L161.3 200.2M152.3 196.7L161.3 200.2M150.1 197.1L161.3 200.2M138.8 203.7L161.3 200.2M157.1 205.0L161.3 200.2M149.6 200.1L161.3 200.2M165.6 208.3L161.3 200.2M143.0 196.6L161.3 200.2M154.2 203.6L161.3 200.2M139.9 213.5L161.3 200.2M152.8 207.0L161.3 200.2M129.5 199.8L161.3 200.2M166.0 209.1L161.3 200.2M147.3 202.2L161.3 200.2M140.3 204.0L161.3 200.2M138.4 191.8L161.3 200.2M133.2 202.3L161.3 200.2M135.4 207.6L161.3 200.2M164.3 207.1L161.3 200.2M157.3 207.7L161.3 200.2M153.0 206.4L161.3 200.2" stroke="#a3bd8e" stroke-width="0.25" stroke-opacity="0.170" fill="none"/>
<path d="M180.7 173.1L152.6 178.9M154.1 180.0L152.6 178.9M182.9 182.4L152.6 178.9M143.5 185.7L152.6 178.9M175.5 198.7L152.6 178.9M166.4 189.4L152.6 178.9M126.0 182.6L152.6 178.9M160.0 194.4L152.6 178.9M118.2 178.4L152.6 178.9M120.5 172.7L152.6 178.9M138.0 181.1L152.6 178.9M160.8 195.8L152.6 178.9M181.3 184.0L152.6 178.9M150.1 196.4L152.6 178.9M142.6 174.1L152.6 178.9M166.8 172.6L152.6 178.9M140.8 178.9L152.6 178.9M148.4 176.3L152.6 178.9M145.1 179.7L152.6 178.9M119.3 182.5L152.6 178.9M153.3 177.8L152.6 178.9M130.6 166.7L152.6 178.9M141.0 174.6L152.6 178.9M148.9 171.5L152.6 178.9M167.5 181.0L152.6 178.9M140.6 185.1L152.6 178.9M140.8 174.1L152.6 178.9M157.6 184.8L152.6 178.9M137.1 181.4L152.6 178.9M151.1 190.9L152.6 178.9M132.6 173.0L152.6 178.9M170.7 178.7L152.6 178.9M175.2 177.9L152.6 178.9M135.0 188.2L152.6 178.9M173.2 175.1L152.6 178.9M137.2 193.3L152.6 178.9M170.2 186.8L152.6 178.9" stroke="#d9c778" stroke-width="0.25" stroke-opacity="0.170" fill="none"/>
<path d="M167.3 213.4L165.0 209.6M153.8 209.0L165.0 209.6M154.0 213.5L165.0 209.6M167.6 208.6L165.0 209.6M154.1 209.3L165.0 209.6M171.0 210.7L165.0 209.6M160.9 208.9L165.0 209.6M162.0 215.8L165.0 209.6M156.8 210.0L165.0 209.6M178.5 213.2L165.0 209.6M152.7 214.3L165.0 209.6M151.6 212.7L165.0 209.6" stroke="#eebe5c" stroke-width="0.25" stroke-opacity="0.170" fill="none"/>
<path d="M136.0 108.3h0M144.8 187.2h0M143.0 123.6h0M159.0 183.6h0M134.5 127.9h0" stroke="#93392a" stroke-width="2.4" stroke-linecap="round" fill="none"/>
<path d="M105.5 75.2h0" stroke="#e89c4c" stroke-width="2.4" stroke-linecap="round" fill="none"/>
<path d="M114.2 114.9h0" stroke="#93392a" stroke-width="2.4" stroke-linecap="round" fill="none"/>
<path d="M316.9 149.3h0" stroke="#cf6450" stroke-width="2.4" stroke-linecap="round" fill="none"/>
<path d="M87.9 111.2h0" stroke="#93392a" stroke-width="2.4" stroke-linecap="round" fill="none"/>
<path d="M77.0 79.9h0" stroke="#e89c4c" stroke-width="2.4" stroke-linecap="round" fill="none"/>
<path d="M111.3 201.7h0" stroke="#93392a" stroke-width="2.4" stroke-linecap="round" fill="none"/>
<path d="M167.5 181.0h0" stroke="#d9c778" stroke-width="2.4" stroke-linecap="round" fill="none"/>
<path d="M133.1 189.0h0" stroke="#93392a" stroke-width="2.4" stroke-linecap="round" fill="none"/>
<path d="M154.1 180.0h0" stroke="#d9c778" stroke-width="2.4" stroke-linecap="round" fill="none"/>
<path d="M135.2 198.7h0M178.7 207.3h0M173.4 174.0h0" stroke="#93392a" stroke-width="2.4" stroke-linecap="round" fill="none"/>
<path d="M90.1 83.3h0" stroke="#e89c4c" stroke-width="2.4" stroke-linecap="round" fill="none"/>
<path d="M123.8 174.2h0M108.9 105.5h0M73.0 93.0h0" stroke="#93392a" stroke-width="2.4" stroke-linecap="round" fill="none"/>
<path d="M210.8 180.4h0" stroke="#2d4c6c" stroke-width="2.4" stroke-linecap="round" fill="none"/>
<path d="M152.8 207.0h0" stroke="#a3bd8e" stroke-width="2.4" stroke-linecap="round" fill="none"/>
<path d="M126.1 163.4h0M137.3 122.8h0" stroke="#e89c4c" stroke-width="2.4" stroke-linecap="round" fill="none"/>
<path d="M204.3 180.4h0" stroke="#a3bd8e" stroke-width="2.4" stroke-linecap="round" fill="none"/>
<path d="M155.3 212.3h0" stroke="#93392a" stroke-width="2.4" stroke-linecap="round" fill="none"/>
<path d="M187.7 195.7h0" stroke="#2d4c6c" stroke-width="2.4" stroke-linecap="round" fill="none"/>
<path d="M160.3 190.0h0" stroke="#93392a" stroke-width="2.4" stroke-linecap="round" fill="none"/>
<path d="M258.1 147.7h0" stroke="#cf6450" stroke-width="2.4" stroke-linecap="round" fill="none"/>
<path d="M282.0 153.8h0" stroke="#622819" stroke-width="2.4" stroke-linecap="round" fill="none"/>
<path d="M101.5 88.8h0" stroke="#e89c4c" stroke-width="2.4" stroke-linecap="round" fill="none"/>
<path d="M128.1 113.4h0M187.2 191.9h0" stroke="#93392a" stroke-width="2.4" stroke-linecap="round" fill="none"/>
<path d="M116.2 165.8h0" stroke="#e89c4c" stroke-width="2.4" stroke-linecap="round" fill="none"/>
<path d="M91.6 120.1h0" stroke="#93392a" stroke-width="2.4" stroke-linecap="round" fill="none"/>
<path d="M160.9 145.8h0" stroke="#622819" stroke-width="2.4" stroke-linecap="round" fill="none"/>
<path d="M112.7 86.8h0" stroke="#e89c4c" stroke-width="2.4" stroke-linecap="round" fill="none"/>
<path d="M94.0 124.5h0M130.1 186.2h0" stroke="#93392a" stroke-width="2.4" stroke-linecap="round" fill="none"/>
<path d="M263.0 161.5h0" stroke="#622819" stroke-width="2.4" stroke-linecap="round" fill="none"/>
<path d="M186.8 179.6h0" stroke="#cf6450" stroke-width="2.4" stroke-linecap="round" fill="none"/>
<path d="M165.2 194.6h0M122.0 188.2h0" stroke="#93392a" stroke-width="2.4" stroke-linecap="round" fill="none"/>
<path d="M318.8 133.1h0" stroke="#cf6450" stroke-width="2.4" stroke-linecap="round" fill="none"/>
<path d="M135.8 185.8h0M141.0 177.7h0M128.6 185.5h0M88.9 118.4h0M167.8 180.7h0M137.6 179.1h0M173.3 170.4h0M124.3 123.7h0M142.3 207.5h0" stroke="#93392a" stroke-width="2.4" stroke-linecap="round" fill="none"/>
<path d="M178.0 138.0h0" stroke="#622819" stroke-width="2.4" stroke-linecap="round" fill="none"/>
<path d="M157.1 182.6h0M128.3 127.0h0M110.2 108.0h0M170.2 173.5h0M169.4 202.4h0M136.5 91.9h0M158.0 213.0h0" stroke="#93392a" stroke-width="2.4" stroke-linecap="round" fill="none"/>
<path d="M186.4 147.5h0M273.8 67.6h0" stroke="#622819" stroke-width="2.4" stroke-linecap="round" fill="none"/>
<path d="M138.3 206.1h0" stroke="#93392a" stroke-width="2.4" stroke-linecap="round" fill="none"/>
<path d="M225.3 180.4h0M149.0 201.7h0" stroke="#a3bd8e" stroke-width="2.4" stroke-linecap="round" fill="none"/>
<path d="M127.2 190.0h0M141.7 201.4h0" stroke="#93392a" stroke-width="2.4" stroke-linecap="round" fill="none"/>
<path d="M117.2 83.5h0" stroke="#e89c4c" stroke-width="2.4" stroke-linecap="round" fill="none"/>
<path d="M67.6 111.5h0" stroke="#93392a" stroke-width="2.4" stroke-linecap="round" fill="none"/>
<path d="M88.3 100.8h0M86.2 93.5h0" stroke="#e89c4c" stroke-width="2.4" stroke-linecap="round" fill="none"/>
<path d="M131.6 178.0h0M129.5 201.0h0" stroke="#93392a" stroke-width="2.4" stroke-linecap="round" fill="none"/>
<path d="M154.1 209.3h0" stroke="#eebe5c" stroke-width="2.4" stroke-linecap="round" fill="none"/>
<path d="M130.1 166.8h0" stroke="#e89c4c" stroke-width="2.4" stroke-linecap="round" fill="none"/>
<path d="M267.1 91.6h0" stroke="#5d8c80" stroke-width="2.4" stroke-linecap="round" fill="none"/>
<path d="M153.8 201.0h0" stroke="#a3bd8e" stroke-width="2.4" stroke-linecap="round" fill="none"/>
<path d="M135.4 110.1h0" stroke="#e89c4c" stroke-width="2.4" stroke-linecap="round" fill="none"/>
<path d="M118.3 102.3h0M182.1 187.2h0" stroke="#93392a" stroke-width="2.4" stroke-linecap="round" fill="none"/>
<path d="M262.1 94.9h0" stroke="#5d8c80" stroke-width="2.4" stroke-linecap="round" fill="none"/>
<path d="M171.7 202.6h0M143.7 120.9h0" stroke="#93392a" stroke-width="2.4" stroke-linecap="round" fill="none"/>
<path d="M336.8 83.7h0" stroke="#dd7252" stroke-width="2.4" stroke-linecap="round" fill="none"/>
<path d="M132.0 171.2h0M130.5 202.2h0" stroke="#93392a" stroke-width="2.4" stroke-linecap="round" fill="none"/>
<path d="M181.2 188.3h0" stroke="#2d4c6c" stroke-width="2.4" stroke-linecap="round" fill="none"/>
<path d="M138.9 183.1h0" stroke="#93392a" stroke-width="2.4" stroke-linecap="round" fill="none"/>
<path d="M149.1 196.8h0" stroke="#a3bd8e" stroke-width="2.4" stroke-linecap="round" fill="none"/>
<path d="M162.7 213.0h0" stroke="#93392a" stroke-width="2.4" stroke-linecap="round" fill="none"/>
<path d="M269.1 57.0h0M225.9 173.4h0" stroke="#622819" stroke-width="2.4" stroke-linecap="round" fill="none"/>
<path d="M140.1 202.9h0M124.6 180.0h0" stroke="#93392a" stroke-width="2.4" stroke-linecap="round" fill="none"/>
<path d="M292.5 150.3h0" stroke="#5d8c80" stroke-width="2.4" stroke-linecap="round" fill="none"/>
<path d="M183.3 162.9h0" stroke="#622819" stroke-width="2.4" stroke-linecap="round" fill="none"/>
<path d="M160.9 208.9h0" stroke="#eebe5c" stroke-width="2.4" stroke-linecap="round" fill="none"/>
<path d="M292.7 75.1h0" stroke="#622819" stroke-width="2.4" stroke-linecap="round" fill="none"/>
<path d="M109.0 85.3h0M107.4 173.0h0" stroke="#e89c4c" stroke-width="2.4" stroke-linecap="round" fill="none"/>
<path d="M119.8 120.8h0M71.6 101.0h0M159.6 174.0h0M93.0 114.3h0" stroke="#93392a" stroke-width="2.4" stroke-linecap="round" fill="none"/>
<path d="M167.3 213.4h0" stroke="#eebe5c" stroke-width="2.4" stroke-linecap="round" fill="none"/>
<path d="M183.2 195.5h0M174.7 183.8h0M148.3 104.2h0M136.0 109.6h0M122.7 191.7h0" stroke="#93392a" stroke-width="2.4" stroke-linecap="round" fill="none"/>
<path d="M327.5 71.1h0" stroke="#dd7252" stroke-width="2.4" stroke-linecap="round" fill="none"/>
<path d="M166.0 209.1h0" stroke="#a3bd8e" stroke-width="2.4" stroke-linecap="round" fill="none"/>
<path d="M129.6 172.8h0" stroke="#e89c4c" stroke-width="2.4" stroke-linecap="round" fill="none"/>
<path d="M141.3 64.3h0" stroke="#e8904e" stroke-width="2.4" stroke-linecap="round" fill="none"/>
<path d="M100.7 102.8h0" stroke="#e89c4c" stroke-width="2.4" stroke-linecap="round" fill="none"/>
<path d="M119.5 115.6h0" stroke="#93392a" stroke-width="2.4" stroke-linecap="round" fill="none"/>
<path d="M83.4 76.9h0M99.1 100.1h0M88.8 75.8h0" stroke="#e89c4c" stroke-width="2.4" stroke-linecap="round" fill="none"/>
<path d="M108.7 110.5h0M150.4 204.1h0" stroke="#93392a" stroke-width="2.4" stroke-linecap="round" fill="none"/>
<path d="M267.4 174.3h0" stroke="#622819" stroke-width="2.4" stroke-linecap="round" fill="none"/>
<path d="M66.4 92.1h0M85.6 87.4h0" stroke="#e89c4c" stroke-width="2.4" stroke-linecap="round" fill="none"/>
<path d="M252.5 167.7h0" stroke="#622819" stroke-width="2.4" stroke-linecap="round" fill="none"/>
<path d="M103.7 80.2h0" stroke="#e89c4c" stroke-width="2.4" stroke-linecap="round" fill="none"/>
<path d="M126.0 182.6h0" stroke="#d9c778" stroke-width="2.4" stroke-linecap="round" fill="none"/>
<path d="M171.0 210.7h0" stroke="#eebe5c" stroke-width="2.4" stroke-linecap="round" fill="none"/>
<path d="M209.2 112.2h0" stroke="#e8904e" stroke-width="2.4" stroke-linecap="round" fill="none"/>
<path d="M302.7 25.0h0" stroke="#dd7252" stroke-width="2.4" stroke-linecap="round" fill="none"/>
<path d="M125.1 170.8h0" stroke="#e89c4c" stroke-width="2.4" stroke-linecap="round" fill="none"/>
<path d="M162.2 167.6h0" stroke="#93392a" stroke-width="2.4" stroke-linecap="round" fill="none"/>
<path d="M162.0 215.8h0" stroke="#eebe5c" stroke-width="2.4" stroke-linecap="round" fill="none"/>
<path d="M347.3 148.4h0" stroke="#cf6450" stroke-width="2.4" stroke-linecap="round" fill="none"/>
<path d="M119.5 180.3h0" stroke="#93392a" stroke-width="2.4" stroke-linecap="round" fill="none"/>
<path d="M173.2 175.1h0" stroke="#d9c778" stroke-width="2.4" stroke-linecap="round" fill="none"/>
<path d="M62.0 103.6h0M115.3 94.7h0" stroke="#93392a" stroke-width="2.4" stroke-linecap="round" fill="none"/>
<path d="M186.3 182.2h0" stroke="#2d4c6c" stroke-width="2.4" stroke-linecap="round" fill="none"/>
<path d="M267.3 174.0h0" stroke="#622819" stroke-width="2.4" stroke-linecap="round" fill="none"/>
<path d="M122.2 116.1h0M167.1 182.1h0M118.3 119.6h0" stroke="#93392a" stroke-width="2.4" stroke-linecap="round" fill="none"/>
<path d="M194.7 176.9h0" stroke="#2d4c6c" stroke-width="2.4" stroke-linecap="round" fill="none"/>
<path d="M136.9 127.5h0" stroke="#e89c4c" stroke-width="2.4" stroke-linecap="round" fill="none"/>
<path d="M91.9 104.4h0" stroke="#93392a" stroke-width="2.4" stroke-linecap="round" fill="none"/>
<path d="M106.5 169.3h0M79.3 102.4h0" stroke="#e89c4c" stroke-width="2.4" stroke-linecap="round" fill="none"/>
<path d="M86.5 107.4h0M163.2 200.1h0" stroke="#93392a" stroke-width="2.4" stroke-linecap="round" fill="none"/>
<path d="M124.5 87.8h0" stroke="#e89c4c" stroke-width="2.4" stroke-linecap="round" fill="none"/>
<path d="M348.7 130.9h0" stroke="#cf6450" stroke-width="2.4" stroke-linecap="round" fill="none"/>
<path d="M63.7 110.1h0" stroke="#93392a" stroke-width="2.4" stroke-linecap="round" fill="none"/>
<path d="M156.8 210.0h0" stroke="#eebe5c" stroke-width="2.4" stroke-linecap="round" fill="none"/>
<path d="M118.2 178.4h0" stroke="#d9c778" stroke-width="2.4" stroke-linecap="round" fill="none"/>
<path d="M89.1 119.6h0M116.5 198.0h0M126.5 104.6h0M68.3 112.0h0M114.1 95.8h0" stroke="#93392a" stroke-width="2.4" stroke-linecap="round" fill="none"/>
<path d="M77.7 94.1h0" stroke="#e89c4c" stroke-width="2.4" stroke-linecap="round" fill="none"/>
<path d="M125.8 200.1h0" stroke="#93392a" stroke-width="2.4" stroke-linecap="round" fill="none"/>
<path d="M108.9 106.3h0" stroke="#e89c4c" stroke-width="2.4" stroke-linecap="round" fill="none"/>
<path d="M146.4 175.4h0" stroke="#93392a" stroke-width="2.4" stroke-linecap="round" fill="none"/>
<path d="M162.8 117.8h0" stroke="#e8904e" stroke-width="2.4" stroke-linecap="round" fill="none"/>
<path d="M107.9 105.3h0M95.3 108.4h0M71.4 103.5h0M117.2 199.9h0M128.0 202.9h0" stroke="#93392a" stroke-width="2.4" stroke-linecap="round" fill="none"/>
<path d="M336.5 55.0h0M253.9 179.0h0" stroke="#622819" stroke-width="2.4" stroke-linecap="round" fill="none"/>
<path d="M245.8 56.0h0" stroke="#5d8c80" stroke-width="2.4" stroke-linecap="round" fill="none"/>
<path d="M91.5 98.1h0M145.1 103.3h0" stroke="#93392a" stroke-width="2.4" stroke-linecap="round" fill="none"/>
<path d="M82.4 80.4h0M91.9 95.2h0" stroke="#e89c4c" stroke-width="2.4" stroke-linecap="round" fill="none"/>
<path d="M97.2 106.5h0" stroke="#93392a" stroke-width="2.4" stroke-linecap="round" fill="none"/>
<path d="M367.0 134.9h0" stroke="#622819" stroke-width="2.4" stroke-linecap="round" fill="none"/>
<path d="M134.3 125.7h0M105.5 101.8h0M88.4 113.9h0" stroke="#93392a" stroke-width="2.4" stroke-linecap="round" fill="none"/>
<path d="M93.8 95.6h0" stroke="#e89c4c" stroke-width="2.4" stroke-linecap="round" fill="none"/>
<path d="M213.1 66.2h0" stroke="#622819" stroke-width="2.4" stroke-linecap="round" fill="none"/>
<path d="M133.3 163.4h0M112.0 90.2h0" stroke="#e89c4c" stroke-width="2.4" stroke-linecap="round" fill="none"/>
<path d="M355.6 129.6h0" stroke="#cf6450" stroke-width="2.4" stroke-linecap="round" fill="none"/>
<path d="M111.9 100.0h0" stroke="#e89c4c" stroke-width="2.4" stroke-linecap="round" fill="none"/>
<path d="M200.5 167.7h0" stroke="#622819" stroke-width="2.4" stroke-linecap="round" fill="none"/>
<path d="M92.8 86.1h0" stroke="#e89c4c" stroke-width="2.4" stroke-linecap="round" fill="none"/>
<path d="M285.1 134.9h0" stroke="#622819" stroke-width="2.4" stroke-linecap="round" fill="none"/>
<path d="M136.6 89.3h0" stroke="#e89c4c" stroke-width="2.4" stroke-linecap="round" fill="none"/>
<path d="M158.6 189.0h0" stroke="#93392a" stroke-width="2.4" stroke-linecap="round" fill="none"/>
<path d="M125.5 158.9h0" stroke="#e89c4c" stroke-width="2.4" stroke-linecap="round" fill="none"/>
<path d="M131.6 204.7h0" stroke="#93392a" stroke-width="2.4" stroke-linecap="round" fill="none"/>
<path d="M336.5 44.8h0" stroke="#dd7252" stroke-width="2.4" stroke-linecap="round" fill="none"/>
<path d="M129.5 199.8h0" stroke="#a3bd8e" stroke-width="2.4" stroke-linecap="round" fill="none"/>
<path d="M106.9 95.8h0" stroke="#e89c4c" stroke-width="2.4" stroke-linecap="round" fill="none"/>
<path d="M158.8 79.3h0" stroke="#e8904e" stroke-width="2.4" stroke-linecap="round" fill="none"/>
<path d="M230.6 163.3h0" stroke="#cf6450" stroke-width="2.4" stroke-linecap="round" fill="none"/>
<path d="M164.0 194.6h0" stroke="#93392a" stroke-width="2.4" stroke-linecap="round" fill="none"/>
<path d="M127.8 131.3h0" stroke="#e89c4c" stroke-width="2.4" stroke-linecap="round" fill="none"/>
<path d="M276.4 107.9h0" stroke="#5d8c80" stroke-width="2.4" stroke-linecap="round" fill="none"/>
<path d="M195.9 116.1h0" stroke="#e8904e" stroke-width="2.4" stroke-linecap="round" fill="none"/>
<path d="M127.4 117.9h0" stroke="#e89c4c" stroke-width="2.4" stroke-linecap="round" fill="none"/>
<path d="M100.8 116.8h0" stroke="#93392a" stroke-width="2.4" stroke-linecap="round" fill="none"/>
<path d="M110.5 108.0h0" stroke="#e89c4c" stroke-width="2.4" stroke-linecap="round" fill="none"/>
<path d="M174.5 187.7h0" stroke="#93392a" stroke-width="2.4" stroke-linecap="round" fill="none"/>
<path d="M223.4 67.9h0" stroke="#622819" stroke-width="2.4" stroke-linecap="round" fill="none"/>
<path d="M245.1 188.3h0" stroke="#cf6450" stroke-width="2.4" stroke-linecap="round" fill="none"/>
<path d="M145.9 116.1h0" stroke="#93392a" stroke-width="2.4" stroke-linecap="round" fill="none"/>
<path d="M324.6 83.7h0" stroke="#dd7252" stroke-width="2.4" stroke-linecap="round" fill="none"/>
<path d="M155.2 205.5h0M164.0 192.9h0" stroke="#93392a" stroke-width="2.4" stroke-linecap="round" fill="none"/>
<path d="M228.3 177.8h0M200.8 175.7h0" stroke="#622819" stroke-width="2.4" stroke-linecap="round" fill="none"/>
<path d="M78.7 85.1h0" stroke="#e89c4c" stroke-width="2.4" stroke-linecap="round" fill="none"/>
<path d="M88.0 99.0h0M191.2 188.3h0" stroke="#93392a" stroke-width="2.4" stroke-linecap="round" fill="none"/>
<path d="M261.1 82.3h0" stroke="#622819" stroke-width="2.4" stroke-linecap="round" fill="none"/>
<path d="M111.5 164.4h0" stroke="#e89c4c" stroke-width="2.4" stroke-linecap="round" fill="none"/>
<path d="M118.3 112.8h0M115.6 111.3h0M118.2 187.3h0M108.2 112.0h0" stroke="#93392a" stroke-width="2.4" stroke-linecap="round" fill="none"/>
<path d="M98.9 98.1h0" stroke="#e89c4c" stroke-width="2.4" stroke-linecap="round" fill="none"/>
<path d="M179.8 67.2h0" stroke="#e8904e" stroke-width="2.4" stroke-linecap="round" fill="none"/>
<path d="M246.0 179.0h0" stroke="#cf6450" stroke-width="2.4" stroke-linecap="round" fill="none"/>
<path d="M127.0 125.0h0M100.5 103.3h0" stroke="#e89c4c" stroke-width="2.4" stroke-linecap="round" fill="none"/>
<path d="M187.3 178.7h0M159.0 206.7h0M146.9 199.3h0M138.7 112.1h0" stroke="#93392a" stroke-width="2.4" stroke-linecap="round" fill="none"/>
<path d="M198.2 171.9h0" stroke="#2d4c6c" stroke-width="2.4" stroke-linecap="round" fill="none"/>
<path d="M122.1 87.2h0" stroke="#e89c4c" stroke-width="2.4" stroke-linecap="round" fill="none"/>
<path d="M151.1 190.9h0" stroke="#d9c778" stroke-width="2.4" stroke-linecap="round" fill="none"/>
<path d="M336.0 89.5h0M320.7 85.4h0" stroke="#dd7252" stroke-width="2.4" stroke-linecap="round" fill="none"/>
<path d="M139.0 166.2h0" stroke="#e89c4c" stroke-width="2.4" stroke-linecap="round" fill="none"/>
<path d="M130.7 100.0h0M154.5 180.2h0" stroke="#93392a" stroke-width="2.4" stroke-linecap="round" fill="none"/>
<path d="M119.2 107.4h0M109.7 162.5h0" stroke="#e89c4c" stroke-width="2.4" stroke-linecap="round" fill="none"/>
<path d="M186.8 89.5h0" stroke="#dd7252" stroke-width="2.4" stroke-linecap="round" fill="none"/>
<path d="M136.5 189.4h0" stroke="#93392a" stroke-width="2.4" stroke-linecap="round" fill="none"/>
<path d="M281.3 57.9h0" stroke="#622819" stroke-width="2.4" stroke-linecap="round" fill="none"/>
<path d="M128.1 115.2h0M110.9 107.2h0" stroke="#93392a" stroke-width="2.4" stroke-linecap="round" fill="none"/>
<path d="M195.2 64.0h0M198.4 77.5h0" stroke="#622819" stroke-width="2.4" stroke-linecap="round" fill="none"/>
<path d="M137.5 115.4h0" stroke="#93392a" stroke-width="2.4" stroke-linecap="round" fill="none"/>
<path d="M100.5 90.7h0M93.9 103.2h0M101.7 90.9h0" stroke="#e89c4c" stroke-width="2.4" stroke-linecap="round" fill="none"/>
<path d="M96.8 119.6h0M166.4 183.7h0" stroke="#93392a" stroke-width="2.4" stroke-linecap="round" fill="none"/>
<path d="M307.6 153.3h0" stroke="#cf6450" stroke-width="2.4" stroke-linecap="round" fill="none"/>
<path d="M122.3 82.5h0" stroke="#e89c4c" stroke-width="2.4" stroke-linecap="round" fill="none"/>
<path d="M146.1 188.7h0M69.2 109.1h0" stroke="#93392a" stroke-width="2.4" stroke-linecap="round" fill="none"/>
<path d="M114.8 99.0h0" stroke="#e89c4c" stroke-width="2.4" stroke-linecap="round" fill="none"/>
<path d="M297.4 128.4h0" stroke="#622819" stroke-width="2.4" stroke-linecap="round" fill="none"/>
<path d="M120.2 181.6h0" stroke="#93392a" stroke-width="2.4" stroke-linecap="round" fill="none"/>
<path d="M108.6 99.4h0" stroke="#e89c4c" stroke-width="2.4" stroke-linecap="round" fill="none"/>
<path d="M102.6 93.9h0" stroke="#93392a" stroke-width="2.4" stroke-linecap="round" fill="none"/>
<path d="M99.8 90.4h0" stroke="#e89c4c" stroke-width="2.4" stroke-linecap="round" fill="none"/>
<path d="M149.4 120.2h0" stroke="#93392a" stroke-width="2.4" stroke-linecap="round" fill="none"/>
<path d="M289.0 137.0h0" stroke="#622819" stroke-width="2.4" stroke-linecap="round" fill="none"/>
<path d="M135.0 195.9h0M107.7 188.2h0" stroke="#93392a" stroke-width="2.4" stroke-linecap="round" fill="none"/>
<path d="M100.2 74.0h0M88.8 85.9h0M107.2 81.1h0" stroke="#e89c4c" stroke-width="2.4" stroke-linecap="round" fill="none"/>
<path d="M129.1 99.2h0M163.9 182.6h0M155.1 203.5h0" stroke="#93392a" stroke-width="2.4" stroke-linecap="round" fill="none"/>
<path d="M159.6 135.4h0M168.7 143.3h0" stroke="#622819" stroke-width="2.4" stroke-linecap="round" fill="none"/>
<path d="M95.7 109.6h0" stroke="#e89c4c" stroke-width="2.4" stroke-linecap="round" fill="none"/>
<path d="M215.7 186.0h0" stroke="#a3bd8e" stroke-width="2.4" stroke-linecap="round" fill="none"/>
<path d="M163.0 211.4h0" stroke="#93392a" stroke-width="2.4" stroke-linecap="round" fill="none"/>
<path d="M148.9 171.5h0" stroke="#d9c778" stroke-width="2.4" stroke-linecap="round" fill="none"/>
<path d="M118.6 102.0h0" stroke="#93392a" stroke-width="2.4" stroke-linecap="round" fill="none"/>
<path d="M127.8 97.7h0" stroke="#e89c4c" stroke-width="2.4" stroke-linecap="round" fill="none"/>
<path d="M119.5 118.2h0" stroke="#93392a" stroke-width="2.4" stroke-linecap="round" fill="none"/>
<path d="M318.8 118.0h0" stroke="#622819" stroke-width="2.4" stroke-linecap="round" fill="none"/>
<path d="M104.6 115.7h0M139.4 188.7h0M96.3 106.5h0" stroke="#93392a" stroke-width="2.4" stroke-linecap="round" fill="none"/>
<path d="M117.8 114.5h0" stroke="#e89c4c" stroke-width="2.4" stroke-linecap="round" fill="none"/>
<path d="M167.2 181.3h0" stroke="#93392a" stroke-width="2.4" stroke-linecap="round" fill="none"/>
<path d="M113.4 89.4h0" stroke="#e89c4c" stroke-width="2.4" stroke-linecap="round" fill="none"/>
<path d="M290.1 74.6h0" stroke="#5d8c80" stroke-width="2.4" stroke-linecap="round" fill="none"/>
<path d="M153.0 206.4h0" stroke="#a3bd8e" stroke-width="2.4" stroke-linecap="round" fill="none"/>
<path d="M86.1 73.6h0" stroke="#93392a" stroke-width="2.4" stroke-linecap="round" fill="none"/>
<path d="M193.4 191.0h0" stroke="#2d4c6c" stroke-width="2.4" stroke-linecap="round" fill="none"/>
<path d="M127.9 109.0h0" stroke="#93392a" stroke-width="2.4" stroke-linecap="round" fill="none"/>
<path d="M272.9 97.3h0" stroke="#5d8c80" stroke-width="2.4" stroke-linecap="round" fill="none"/>
<path d="M143.5 185.7h0" stroke="#d9c778" stroke-width="2.4" stroke-linecap="round" fill="none"/>
<path d="M103.0 108.3h0" stroke="#e89c4c" stroke-width="2.4" stroke-linecap="round" fill="none"/>
<path d="M151.4 124.0h0M117.9 104.7h0M102.6 106.8h0M171.9 195.5h0" stroke="#93392a" stroke-width="2.4" stroke-linecap="round" fill="none"/>
<path d="M147.3 202.2h0" stroke="#a3bd8e" stroke-width="2.4" stroke-linecap="round" fill="none"/>
<path d="M322.8 79.8h0" stroke="#dd7252" stroke-width="2.4" stroke-linecap="round" fill="none"/>
<path d="M74.4 101.6h0M141.3 171.9h0" stroke="#e89c4c" stroke-width="2.4" stroke-linecap="round" fill="none"/>
<path d="M97.7 87.3h0M81.1 105.7h0M172.6 182.1h0M161.4 181.5h0" stroke="#93392a" stroke-width="2.4" stroke-linecap="round" fill="none"/>
<path d="M216.6 181.0h0" stroke="#2d4c6c" stroke-width="2.4" stroke-linecap="round" fill="none"/>
<path d="M267.9 154.5h0" stroke="#622819" stroke-width="2.4" stroke-linecap="round" fill="none"/>
<path d="M135.3 181.7h0M141.3 110.2h0" stroke="#93392a" stroke-width="2.4" stroke-linecap="round" fill="none"/>
<path d="M108.3 93.2h0" stroke="#e89c4c" stroke-width="2.4" stroke-linecap="round" fill="none"/>
<path d="M183.2 183.9h0" stroke="#93392a" stroke-width="2.4" stroke-linecap="round" fill="none"/>
<path d="M114.0 94.3h0M82.9 108.7h0" stroke="#e89c4c" stroke-width="2.4" stroke-linecap="round" fill="none"/>
<path d="M134.7 203.9h0M168.0 200.0h0M127.8 187.6h0M178.5 196.5h0" stroke="#93392a" stroke-width="2.4" stroke-linecap="round" fill="none"/>
<path d="M332.8 145.0h0" stroke="#cf6450" stroke-width="2.4" stroke-linecap="round" fill="none"/>
<path d="M89.4 77.9h0M121.0 167.0h0M117.4 91.4h0" stroke="#e89c4c" stroke-width="2.4" stroke-linecap="round" fill="none"/>
<path d="M123.4 104.6h0M124.5 104.9h0" stroke="#93392a" stroke-width="2.4" stroke-linecap="round" fill="none"/>
<path d="M119.7 172.1h0" stroke="#e89c4c" stroke-width="2.4" stroke-linecap="round" fill="none"/>
<path d="M99.0 119.5h0" stroke="#93392a" stroke-width="2.4" stroke-linecap="round" fill="none"/>
<path d="M281.1 87.7h0" stroke="#5d8c80" stroke-width="2.4" stroke-linecap="round" fill="none"/>
<path d="M132.0 101.8h0" stroke="#93392a" stroke-width="2.4" stroke-linecap="round" fill="none"/>
<path d="M92.3 77.0h0" stroke="#e89c4c" stroke-width="2.4" stroke-linecap="round" fill="none"/>
<path d="M138.9 187.4h0" stroke="#93392a" stroke-width="2.4" stroke-linecap="round" fill="none"/>
<path d="M131.6 137.0h0M124.4 89.0h0" stroke="#e89c4c" stroke-width="2.4" stroke-linecap="round" fill="none"/>
<path d="M106.5 113.1h0" stroke="#93392a" stroke-width="2.4" stroke-linecap="round" fill="none"/>
<path d="M140.8 174.1h0" stroke="#d9c778" stroke-width="2.4" stroke-linecap="round" fill="none"/>
<path d="M117.6 86.1h0" stroke="#e89c4c" stroke-width="2.4" stroke-linecap="round" fill="none"/>
<path d="M172.8 131.0h0" stroke="#622819" stroke-width="2.4" stroke-linecap="round" fill="none"/>
<path d="M139.6 108.6h0" stroke="#93392a" stroke-width="2.4" stroke-linecap="round" fill="none"/>
<path d="M199.4 186.9h0" stroke="#2d4c6c" stroke-width="2.4" stroke-linecap="round" fill="none"/>
<path d="M175.4 187.8h0" stroke="#93392a" stroke-width="2.4" stroke-linecap="round" fill="none"/>
<path d="M127.6 109.9h0" stroke="#e89c4c" stroke-width="2.4" stroke-linecap="round" fill="none"/>
<path d="M166.8 198.6h0" stroke="#a3bd8e" stroke-width="2.4" stroke-linecap="round" fill="none"/>
<path d="M99.3 95.1h0" stroke="#93392a" stroke-width="2.4" stroke-linecap="round" fill="none"/>
<path d="M278.5 73.3h0" stroke="#622819" stroke-width="2.4" stroke-linecap="round" fill="none"/>
<path d="M160.0 194.4h0" stroke="#d9c778" stroke-width="2.4" stroke-linecap="round" fill="none"/>
<path d="M279.9 46.9h0" stroke="#5d8c80" stroke-width="2.4" stroke-linecap="round" fill="none"/>
<path d="M318.4 57.4h0" stroke="#dd7252" stroke-width="2.4" stroke-linecap="round" fill="none"/>
<path d="M115.4 179.2h0M177.6 206.1h0M158.9 182.3h0" stroke="#93392a" stroke-width="2.4" stroke-linecap="round" fill="none"/>
<path d="M275.9 86.8h0" stroke="#5d8c80" stroke-width="2.4" stroke-linecap="round" fill="none"/>
<path d="M326.7 77.2h0" stroke="#dd7252" stroke-width="2.4" stroke-linecap="round" fill="none"/>
<path d="M124.5 138.3h0M126.6 119.9h0" stroke="#93392a" stroke-width="2.4" stroke-linecap="round" fill="none"/>
<path d="M178.5 213.2h0" stroke="#eebe5c" stroke-width="2.4" stroke-linecap="round" fill="none"/>
<path d="M98.2 101.7h0M113.5 114.9h0" stroke="#e89c4c" stroke-width="2.4" stroke-linecap="round" fill="none"/>
<path d="M111.3 96.5h0M130.2 193.1h0" stroke="#93392a" stroke-width="2.4" stroke-linecap="round" fill="none"/>
<path d="M92.6 81.6h0" stroke="#e89c4c" stroke-width="2.4" stroke-linecap="round" fill="none"/>
<path d="M174.5 104.0h0" stroke="#e8904e" stroke-width="2.4" stroke-linecap="round" fill="none"/>
<path d="M224.6 167.0h0" stroke="#cf6450" stroke-width="2.4" stroke-linecap="round" fill="none"/>
<path d="M113.3 123.3h0M80.2 99.7h0M112.3 190.3h0" stroke="#93392a" stroke-width="2.4" stroke-linecap="round" fill="none"/>
<path d="M279.0 59.7h0" stroke="#622819" stroke-width="2.4" stroke-linecap="round" fill="none"/>
<path d="M155.2 204.0h0M123.9 109.2h0M127.3 99.4h0M135.6 182.9h0M123.6 181.2h0M92.4 104.0h0" stroke="#93392a" stroke-width="2.4" stroke-linecap="round" fill="none"/>
<path d="M78.6 84.6h0M134.5 168.9h0" stroke="#e89c4c" stroke-width="2.4" stroke-linecap="round" fill="none"/>
<path d="M134.6 107.3h0M115.6 108.2h0M125.6 97.4h0" stroke="#93392a" stroke-width="2.4" stroke-linecap="round" fill="none"/>
<path d="M210.4 132.3h0" stroke="#622819" stroke-width="2.4" stroke-linecap="round" fill="none"/>
<path d="M188.5 188.1h0" stroke="#93392a" stroke-width="2.4" stroke-linecap="round" fill="none"/>
<path d="M237.2 169.6h0" stroke="#622819" stroke-width="2.4" stroke-linecap="round" fill="none"/>
<path d="M156.4 187.7h0M166.3 198.0h0" stroke="#93392a" stroke-width="2.4" stroke-linecap="round" fill="none"/>
<path d="M182.9 182.4h0" stroke="#d9c778" stroke-width="2.4" stroke-linecap="round" fill="none"/>
<path d="M87.2 106.1h0" stroke="#93392a" stroke-width="2.4" stroke-linecap="round" fill="none"/>
<path d="M307.9 30.6h0" stroke="#dd7252" stroke-width="2.4" stroke-linecap="round" fill="none"/>
<path d="M114.6 173.4h0" stroke="#e89c4c" stroke-width="2.4" stroke-linecap="round" fill="none"/>
<path d="M117.9 174.8h0M102.2 108.0h0" stroke="#93392a" stroke-width="2.4" stroke-linecap="round" fill="none"/>
<path d="M269.9 57.4h0" stroke="#622819" stroke-width="2.4" stroke-linecap="round" fill="none"/>
<path d="M180.7 173.1h0" stroke="#d9c778" stroke-width="2.4" stroke-linecap="round" fill="none"/>
<path d="M118.6 186.4h0" stroke="#93392a" stroke-width="2.4" stroke-linecap="round" fill="none"/>
<path d="M118.7 98.3h0" stroke="#e89c4c" stroke-width="2.4" stroke-linecap="round" fill="none"/>
<path d="M325.4 145.9h0" stroke="#cf6450" stroke-width="2.4" stroke-linecap="round" fill="none"/>
<path d="M159.6 181.5h0" stroke="#93392a" stroke-width="2.4" stroke-linecap="round" fill="none"/>
<path d="M157.3 207.7h0" stroke="#a3bd8e" stroke-width="2.4" stroke-linecap="round" fill="none"/>
<path d="M128.1 125.0h0M170.0 196.1h0" stroke="#93392a" stroke-width="2.4" stroke-linecap="round" fill="none"/>
<path d="M235.8 188.9h0" stroke="#cf6450" stroke-width="2.4" stroke-linecap="round" fill="none"/>
<path d="M142.6 174.1h0" stroke="#d9c778" stroke-width="2.4" stroke-linecap="round" fill="none"/>
<path d="M90.8 114.5h0" stroke="#93392a" stroke-width="2.4" stroke-linecap="round" fill="none"/>
<path d="M72.5 97.6h0" stroke="#e89c4c" stroke-width="2.4" stroke-linecap="round" fill="none"/>
<path d="M172.3 191.6h0M191.3 187.5h0" stroke="#93392a" stroke-width="2.4" stroke-linecap="round" fill="none"/>
<path d="M147.8 73.5h0" stroke="#e8904e" stroke-width="2.4" stroke-linecap="round" fill="none"/>
<path d="M72.9 112.2h0M213.1 174.7h0" stroke="#93392a" stroke-width="2.4" stroke-linecap="round" fill="none"/>
<path d="M181.3 184.0h0" stroke="#d9c778" stroke-width="2.4" stroke-linecap="round" fill="none"/>
<path d="M261.2 149.8h0" stroke="#cf6450" stroke-width="2.4" stroke-linecap="round" fill="none"/>
<path d="M154.4 162.9h0" stroke="#622819" stroke-width="2.4" stroke-linecap="round" fill="none"/>
<path d="M154.0 213.5h0" stroke="#eebe5c" stroke-width="2.4" stroke-linecap="round" fill="none"/>
<path d="M159.4 190.1h0" stroke="#93392a" stroke-width="2.4" stroke-linecap="round" fill="none"/>
<path d="M153.5 165.2h0" stroke="#622819" stroke-width="2.4" stroke-linecap="round" fill="none"/>
<path d="M116.0 96.6h0M70.3 83.5h0M116.8 93.2h0" stroke="#e89c4c" stroke-width="2.4" stroke-linecap="round" fill="none"/>
<path d="M63.7 103.2h0M125.1 192.8h0M79.4 101.6h0" stroke="#93392a" stroke-width="2.4" stroke-linecap="round" fill="none"/>
<path d="M218.3 125.8h0" stroke="#e89c4c" stroke-width="2.4" stroke-linecap="round" fill="none"/>
<path d="M154.0 193.8h0" stroke="#93392a" stroke-width="2.4" stroke-linecap="round" fill="none"/>
<path d="M319.0 141.9h0" stroke="#cf6450" stroke-width="2.4" stroke-linecap="round" fill="none"/>
<path d="M103.9 162.5h0" stroke="#e89c4c" stroke-width="2.4" stroke-linecap="round" fill="none"/>
<path d="M309.3 53.9h0" stroke="#dd7252" stroke-width="2.4" stroke-linecap="round" fill="none"/>
<path d="M154.2 197.5h0" stroke="#93392a" stroke-width="2.4" stroke-linecap="round" fill="none"/>
<path d="M133.4 159.3h0" stroke="#e89c4c" stroke-width="2.4" stroke-linecap="round" fill="none"/>
<path d="M108.8 97.0h0M137.9 180.7h0M155.6 199.0h0" stroke="#93392a" stroke-width="2.4" stroke-linecap="round" fill="none"/>
<path d="M283.0 87.2h0" stroke="#5d8c80" stroke-width="2.4" stroke-linecap="round" fill="none"/>
<path d="M170.8 196.1h0" stroke="#93392a" stroke-width="2.4" stroke-linecap="round" fill="none"/>
<path d="M109.5 83.3h0" stroke="#e89c4c" stroke-width="2.4" stroke-linecap="round" fill="none"/>
<path d="M353.1 89.5h0" stroke="#dd7252" stroke-width="2.4" stroke-linecap="round" fill="none"/>
<path d="M100.8 96.9h0" stroke="#e89c4c" stroke-width="2.4" stroke-linecap="round" fill="none"/>
<path d="M132.1 202.5h0" stroke="#93392a" stroke-width="2.4" stroke-linecap="round" fill="none"/>
<path d="M94.6 81.7h0" stroke="#e89c4c" stroke-width="2.4" stroke-linecap="round" fill="none"/>
<path d="M184.4 184.5h0" stroke="#93392a" stroke-width="2.4" stroke-linecap="round" fill="none"/>
<path d="M99.2 169.8h0" stroke="#e89c4c" stroke-width="2.4" stroke-linecap="round" fill="none"/>
<path d="M104.2 88.9h0" stroke="#93392a" stroke-width="2.4" stroke-linecap="round" fill="none"/>
<path d="M281.3 92.1h0" stroke="#622819" stroke-width="2.4" stroke-linecap="round" fill="none"/>
<path d="M118.9 169.6h0" stroke="#e89c4c" stroke-width="2.4" stroke-linecap="round" fill="none"/>
<path d="M118.9 191.1h0" stroke="#93392a" stroke-width="2.4" stroke-linecap="round" fill="none"/>
<path d="M115.0 79.7h0" stroke="#e89c4c" stroke-width="2.4" stroke-linecap="round" fill="none"/>
<path d="M279.0 104.0h0" stroke="#5d8c80" stroke-width="2.4" stroke-linecap="round" fill="none"/>
<path d="M153.6 177.5h0M125.0 117.3h0M181.0 180.6h0" stroke="#93392a" stroke-width="2.4" stroke-linecap="round" fill="none"/>
<path d="M132.6 173.0h0" stroke="#d9c778" stroke-width="2.4" stroke-linecap="round" fill="none"/>
<path d="M149.3 172.5h0M94.0 114.6h0M119.7 118.7h0M98.0 111.2h0M120.3 90.2h0" stroke="#93392a" stroke-width="2.4" stroke-linecap="round" fill="none"/>
<path d="M301.8 134.9h0" stroke="#5d8c80" stroke-width="2.4" stroke-linecap="round" fill="none"/>
<path d="M117.6 96.6h0M106.0 93.0h0M119.4 94.1h0" stroke="#e89c4c" stroke-width="2.4" stroke-linecap="round" fill="none"/>
<path d="M262.1 87.2h0" stroke="#5d8c80" stroke-width="2.4" stroke-linecap="round" fill="none"/>
<path d="M70.6 98.7h0" stroke="#e89c4c" stroke-width="2.4" stroke-linecap="round" fill="none"/>
<path d="M115.6 108.4h0M136.9 116.9h0M131.9 192.4h0M153.3 192.9h0" stroke="#93392a" stroke-width="2.4" stroke-linecap="round" fill="none"/>
<path d="M94.1 78.0h0M123.8 126.6h0" stroke="#e89c4c" stroke-width="2.4" stroke-linecap="round" fill="none"/>
<path d="M111.9 102.4h0" stroke="#93392a" stroke-width="2.4" stroke-linecap="round" fill="none"/>
<path d="M178.0 83.3h0" stroke="#622819" stroke-width="2.4" stroke-linecap="round" fill="none"/>
<path d="M114.4 192.8h0M147.9 185.1h0M141.4 186.6h0M165.5 190.3h0M93.6 114.2h0" stroke="#93392a" stroke-width="2.4" stroke-linecap="round" fill="none"/>
<path d="M150.1 197.1h0" stroke="#a3bd8e" stroke-width="2.4" stroke-linecap="round" fill="none"/>
<path d="M161.4 175.5h0" stroke="#93392a" stroke-width="2.4" stroke-linecap="round" fill="none"/>
<path d="M110.9 83.8h0M111.0 99.0h0M114.3 162.8h0M127.2 166.7h0" stroke="#e89c4c" stroke-width="2.4" stroke-linecap="round" fill="none"/>
<path d="M118.8 94.0h0" stroke="#93392a" stroke-width="2.4" stroke-linecap="round" fill="none"/>
<path d="M202.6 195.3h0" stroke="#2d4c6c" stroke-width="2.4" stroke-linecap="round" fill="none"/>
<path d="M100.3 125.2h0M112.7 80.8h0" stroke="#e89c4c" stroke-width="2.4" stroke-linecap="round" fill="none"/>
<path d="M135.4 207.6h0" stroke="#a3bd8e" stroke-width="2.4" stroke-linecap="round" fill="none"/>
<path d="M92.7 91.1h0" stroke="#e89c4c" stroke-width="2.4" stroke-linecap="round" fill="none"/>
<path d="M148.1 177.0h0" stroke="#93392a" stroke-width="2.4" stroke-linecap="round" fill="none"/>
<path d="M116.8 169.6h0M122.1 116.9h0M93.1 85.3h0" stroke="#e89c4c" stroke-width="2.4" stroke-linecap="round" fill="none"/>
<path d="M142.2 128.9h0" stroke="#93392a" stroke-width="2.4" stroke-linecap="round" fill="none"/>
<path d="M119.4 91.8h0" stroke="#e89c4c" stroke-width="2.4" stroke-linecap="round" fill="none"/>
<path d="M126.5 195.5h0M109.1 104.1h0" stroke="#93392a" stroke-width="2.4" stroke-linecap="round" fill="none"/>
<path d="M131.9 167.9h0" stroke="#e89c4c" stroke-width="2.4" stroke-linecap="round" fill="none"/>
<path d="M170.2 186.8h0" stroke="#d9c778" stroke-width="2.4" stroke-linecap="round" fill="none"/>
<path d="M124.8 187.1h0" stroke="#93392a" stroke-width="2.4" stroke-linecap="round" fill="none"/>
<path d="M161.0 132.6h0" stroke="#622819" stroke-width="2.4" stroke-linecap="round" fill="none"/>
<path d="M120.4 120.1h0" stroke="#e89c4c" stroke-width="2.4" stroke-linecap="round" fill="none"/>
<path d="M164.7 204.1h0" stroke="#a3bd8e" stroke-width="2.4" stroke-linecap="round" fill="none"/>
<path d="M119.4 180.4h0" stroke="#93392a" stroke-width="2.4" stroke-linecap="round" fill="none"/>
<path d="M117.1 88.3h0" stroke="#e89c4c" stroke-width="2.4" stroke-linecap="round" fill="none"/>
<path d="M133.2 202.3h0" stroke="#a3bd8e" stroke-width="2.4" stroke-linecap="round" fill="none"/>
<path d="M90.8 113.3h0M132.5 197.5h0M73.4 104.8h0" stroke="#93392a" stroke-width="2.4" stroke-linecap="round" fill="none"/>
<path d="M126.2 171.5h0" stroke="#e89c4c" stroke-width="2.4" stroke-linecap="round" fill="none"/>
<path d="M141.1 99.2h0" stroke="#93392a" stroke-width="2.4" stroke-linecap="round" fill="none"/>
<path d="M160.8 195.8h0" stroke="#d9c778" stroke-width="2.4" stroke-linecap="round" fill="none"/>
<path d="M84.9 87.2h0" stroke="#93392a" stroke-width="2.4" stroke-linecap="round" fill="none"/>
<path d="M221.8 128.8h0" stroke="#e89c4c" stroke-width="2.4" stroke-linecap="round" fill="none"/>
<path d="M142.9 205.6h0M126.7 187.5h0" stroke="#93392a" stroke-width="2.4" stroke-linecap="round" fill="none"/>
<path d="M170.7 178.7h0" stroke="#d9c778" stroke-width="2.4" stroke-linecap="round" fill="none"/>
<path d="M242.9 172.9h0" stroke="#622819" stroke-width="2.4" stroke-linecap="round" fill="none"/>
<path d="M89.3 90.6h0M87.5 91.0h0M69.1 89.8h0" stroke="#e89c4c" stroke-width="2.4" stroke-linecap="round" fill="none"/>
<path d="M283.0 104.0h0" stroke="#5d8c80" stroke-width="2.4" stroke-linecap="round" fill="none"/>
<path d="M168.9 155.0h0" stroke="#622819" stroke-width="2.4" stroke-linecap="round" fill="none"/>
<path d="M213.6 134.0h0" stroke="#e89c4c" stroke-width="2.4" stroke-linecap="round" fill="none"/>
<path d="M116.9 109.7h0M127.5 177.1h0M158.8 186.7h0M131.1 197.0h0" stroke="#93392a" stroke-width="2.4" stroke-linecap="round" fill="none"/>
<path d="M167.0 148.6h0" stroke="#622819" stroke-width="2.4" stroke-linecap="round" fill="none"/>
<path d="M113.9 93.8h0M148.2 122.4h0M159.5 187.9h0" stroke="#93392a" stroke-width="2.4" stroke-linecap="round" fill="none"/>
<path d="M91.6 90.0h0" stroke="#e89c4c" stroke-width="2.4" stroke-linecap="round" fill="none"/>
<path d="M337.7 93.0h0" stroke="#dd7252" stroke-width="2.4" stroke-linecap="round" fill="none"/>
<path d="M166.3 181.7h0M109.4 104.8h0M154.1 180.8h0M128.8 111.0h0" stroke="#93392a" stroke-width="2.4" stroke-linecap="round" fill="none"/>
<path d="M121.8 165.6h0" stroke="#e89c4c" stroke-width="2.4" stroke-linecap="round" fill="none"/>
<path d="M131.6 119.3h0" stroke="#93392a" stroke-width="2.4" stroke-linecap="round" fill="none"/>
<path d="M78.9 98.1h0" stroke="#e89c4c" stroke-width="2.4" stroke-linecap="round" fill="none"/>
<path d="M131.3 96.4h0M129.7 201.1h0M78.4 116.6h0" stroke="#93392a" stroke-width="2.4" stroke-linecap="round" fill="none"/>
<path d="M321.4 83.0h0" stroke="#dd7252" stroke-width="2.4" stroke-linecap="round" fill="none"/>
<path d="M256.5 164.1h0" stroke="#622819" stroke-width="2.4" stroke-linecap="round" fill="none"/>
<path d="M126.7 120.9h0" stroke="#93392a" stroke-width="2.4" stroke-linecap="round" fill="none"/>
<path d="M117.5 170.4h0" stroke="#e89c4c" stroke-width="2.4" stroke-linecap="round" fill="none"/>
<path d="M283.9 115.4h0" stroke="#5d8c80" stroke-width="2.4" stroke-linecap="round" fill="none"/>
<path d="M310.2 127.9h0" stroke="#cf6450" stroke-width="2.4" stroke-linecap="round" fill="none"/>
<path d="M140.6 166.7h0M75.6 86.6h0M92.5 98.3h0M136.4 67.3h0" stroke="#e89c4c" stroke-width="2.4" stroke-linecap="round" fill="none"/>
<path d="M138.2 198.4h0M125.7 127.5h0M140.1 196.3h0M159.0 194.8h0" stroke="#93392a" stroke-width="2.4" stroke-linecap="round" fill="none"/>
<path d="M333.0 132.6h0" stroke="#cf6450" stroke-width="2.4" stroke-linecap="round" fill="none"/>
<path d="M167.5 169.1h0M149.5 192.5h0" stroke="#93392a" stroke-width="2.4" stroke-linecap="round" fill="none"/>
<path d="M133.7 162.0h0" stroke="#e89c4c" stroke-width="2.4" stroke-linecap="round" fill="none"/>
<path d="M267.0 91.4h0" stroke="#5d8c80" stroke-width="2.4" stroke-linecap="round" fill="none"/>
<path d="M252.5 158.5h0" stroke="#622819" stroke-width="2.4" stroke-linecap="round" fill="none"/>
<path d="M118.3 120.3h0" stroke="#93392a" stroke-width="2.4" stroke-linecap="round" fill="none"/>
<path d="M294.8 98.6h0M285.7 93.3h0" stroke="#5d8c80" stroke-width="2.4" stroke-linecap="round" fill="none"/>
<path d="M133.2 168.1h0" stroke="#e89c4c" stroke-width="2.4" stroke-linecap="round" fill="none"/>
<path d="M177.4 188.0h0M149.6 205.5h0M181.6 197.4h0" stroke="#93392a" stroke-width="2.4" stroke-linecap="round" fill="none"/>
<path d="M268.2 154.5h0" stroke="#cf6450" stroke-width="2.4" stroke-linecap="round" fill="none"/>
<path d="M145.5 171.8h0" stroke="#e89c4c" stroke-width="2.4" stroke-linecap="round" fill="none"/>
<path d="M211.3 59.1h0" stroke="#622819" stroke-width="2.4" stroke-linecap="round" fill="none"/>
<path d="M167.8 191.9h0" stroke="#93392a" stroke-width="2.4" stroke-linecap="round" fill="none"/>
<path d="M104.0 84.1h0M120.9 95.4h0" stroke="#e89c4c" stroke-width="2.4" stroke-linecap="round" fill="none"/>
<path d="M72.8 102.7h0" stroke="#93392a" stroke-width="2.4" stroke-linecap="round" fill="none"/>
<path d="M338.6 130.9h0" stroke="#cf6450" stroke-width="2.4" stroke-linecap="round" fill="none"/>
<path d="M134.5 199.4h0M151.4 191.7h0M156.5 130.8h0M147.5 205.2h0" stroke="#93392a" stroke-width="2.4" stroke-linecap="round" fill="none"/>
<path d="M336.8 136.6h0" stroke="#cf6450" stroke-width="2.4" stroke-linecap="round" fill="none"/>
<path d="M111.9 122.6h0M121.7 201.0h0M101.0 113.2h0M119.4 115.9h0" stroke="#93392a" stroke-width="2.4" stroke-linecap="round" fill="none"/>
<path d="M156.5 103.1h0M353.1 142.2h0" stroke="#622819" stroke-width="2.4" stroke-linecap="round" fill="none"/>
<path d="M105.6 89.7h0" stroke="#e89c4c" stroke-width="2.4" stroke-linecap="round" fill="none"/>
<path d="M148.8 175.7h0" stroke="#93392a" stroke-width="2.4" stroke-linecap="round" fill="none"/>
<path d="M104.2 75.7h0" stroke="#e89c4c" stroke-width="2.4" stroke-linecap="round" fill="none"/>
<path d="M147.5 139.9h0M104.9 116.5h0M156.1 184.6h0M146.6 195.4h0M156.2 171.4h0" stroke="#93392a" stroke-width="2.4" stroke-linecap="round" fill="none"/>
<path d="M158.4 88.9h0" stroke="#622819" stroke-width="2.4" stroke-linecap="round" fill="none"/>
<path d="M80.9 83.3h0M85.7 115.4h0M122.4 93.6h0M159.1 197.9h0" stroke="#93392a" stroke-width="2.4" stroke-linecap="round" fill="none"/>
<path d="M115.4 78.4h0" stroke="#e89c4c" stroke-width="2.4" stroke-linecap="round" fill="none"/>
<path d="M127.6 105.1h0" stroke="#93392a" stroke-width="2.4" stroke-linecap="round" fill="none"/>
<path d="M109.9 172.9h0" stroke="#e89c4c" stroke-width="2.4" stroke-linecap="round" fill="none"/>
<path d="M153.5 194.4h0" stroke="#93392a" stroke-width="2.4" stroke-linecap="round" fill="none"/>
<path d="M151.4 65.5h0" stroke="#e8904e" stroke-width="2.4" stroke-linecap="round" fill="none"/>
<path d="M154.6 142.5h0M120.7 193.6h0M167.1 191.2h0M125.0 95.9h0M172.5 201.9h0" stroke="#93392a" stroke-width="2.4" stroke-linecap="round" fill="none"/>
<path d="M249.9 162.0h0" stroke="#cf6450" stroke-width="2.4" stroke-linecap="round" fill="none"/>
<path d="M79.2 103.4h0" stroke="#e89c4c" stroke-width="2.4" stroke-linecap="round" fill="none"/>
<path d="M170.2 194.0h0M87.4 98.3h0" stroke="#93392a" stroke-width="2.4" stroke-linecap="round" fill="none"/>
<path d="M231.1 61.6h0" stroke="#5d8c80" stroke-width="2.4" stroke-linecap="round" fill="none"/>
<path d="M104.5 81.5h0" stroke="#e89c4c" stroke-width="2.4" stroke-linecap="round" fill="none"/>
<path d="M311.8 138.9h0" stroke="#622819" stroke-width="2.4" stroke-linecap="round" fill="none"/>
<path d="M340.7 138.0h0" stroke="#cf6450" stroke-width="2.4" stroke-linecap="round" fill="none"/>
<path d="M93.8 98.4h0" stroke="#e89c4c" stroke-width="2.4" stroke-linecap="round" fill="none"/>
<path d="M129.1 102.8h0M102.1 194.5h0M113.1 86.6h0M83.6 107.8h0M125.5 108.5h0M140.6 190.2h0M115.0 104.5h0M131.6 196.0h0" stroke="#93392a" stroke-width="2.4" stroke-linecap="round" fill="none"/>
<path d="M140.8 178.9h0" stroke="#d9c778" stroke-width="2.4" stroke-linecap="round" fill="none"/>
<path d="M279.5 78.4h0" stroke="#5d8c80" stroke-width="2.4" stroke-linecap="round" fill="none"/>
<path d="M163.9 180.6h0" stroke="#93392a" stroke-width="2.4" stroke-linecap="round" fill="none"/>
<path d="M154.4 138.0h0" stroke="#622819" stroke-width="2.4" stroke-linecap="round" fill="none"/>
<path d="M116.9 117.8h0M177.3 204.5h0" stroke="#93392a" stroke-width="2.4" stroke-linecap="round" fill="none"/>
<path d="M83.7 83.9h0M115.9 90.5h0" stroke="#e89c4c" stroke-width="2.4" stroke-linecap="round" fill="none"/>
<path d="M318.4 100.3h0" stroke="#dd7252" stroke-width="2.4" stroke-linecap="round" fill="none"/>
<path d="M190.8 183.4h0" stroke="#93392a" stroke-width="2.4" stroke-linecap="round" fill="none"/>
<path d="M127.9 98.6h0" stroke="#e89c4c" stroke-width="2.4" stroke-linecap="round" fill="none"/>
<path d="M315.5 74.9h0" stroke="#dd7252" stroke-width="2.4" stroke-linecap="round" fill="none"/>
<path d="M133.0 173.5h0" stroke="#e89c4c" stroke-width="2.4" stroke-linecap="round" fill="none"/>
<path d="M116.7 190.3h0" stroke="#93392a" stroke-width="2.4" stroke-linecap="round" fill="none"/>
<path d="M150.9 120.6h0" stroke="#e8904e" stroke-width="2.4" stroke-linecap="round" fill="none"/>
<path d="M354.9 136.3h0" stroke="#cf6450" stroke-width="2.4" stroke-linecap="round" fill="none"/>
<path d="M288.7 46.9h0" stroke="#dd7252" stroke-width="2.4" stroke-linecap="round" fill="none"/>
<path d="M256.0 56.3h0" stroke="#622819" stroke-width="2.4" stroke-linecap="round" fill="none"/>
<path d="M146.9 103.2h0" stroke="#93392a" stroke-width="2.4" stroke-linecap="round" fill="none"/>
<path d="M154.2 203.6h0" stroke="#a3bd8e" stroke-width="2.4" stroke-linecap="round" fill="none"/>
<path d="M321.4 39.5h0" stroke="#dd7252" stroke-width="2.4" stroke-linecap="round" fill="none"/>
<path d="M108.4 121.1h0M117.1 193.2h0" stroke="#93392a" stroke-width="2.4" stroke-linecap="round" fill="none"/>
<path d="M80.0 87.0h0M137.9 137.3h0" stroke="#e89c4c" stroke-width="2.4" stroke-linecap="round" fill="none"/>
<path d="M162.9 180.4h0M80.4 92.9h0" stroke="#93392a" stroke-width="2.4" stroke-linecap="round" fill="none"/>
<path d="M165.6 208.3h0" stroke="#a3bd8e" stroke-width="2.4" stroke-linecap="round" fill="none"/>
<path d="M292.5 33.0h0" stroke="#dd7252" stroke-width="2.4" stroke-linecap="round" fill="none"/>
<path d="M117.3 102.5h0" stroke="#93392a" stroke-width="2.4" stroke-linecap="round" fill="none"/>
<path d="M112.7 96.6h0" stroke="#e89c4c" stroke-width="2.4" stroke-linecap="round" fill="none"/>
<path d="M178.3 186.0h0" stroke="#93392a" stroke-width="2.4" stroke-linecap="round" fill="none"/>
<path d="M120.5 104.0h0" stroke="#e89c4c" stroke-width="2.4" stroke-linecap="round" fill="none"/>
<path d="M121.0 179.6h0" stroke="#93392a" stroke-width="2.4" stroke-linecap="round" fill="none"/>
<path d="M324.9 138.4h0" stroke="#cf6450" stroke-width="2.4" stroke-linecap="round" fill="none"/>
<path d="M133.2 125.8h0M133.5 88.9h0" stroke="#93392a" stroke-width="2.4" stroke-linecap="round" fill="none"/>
<path d="M120.2 162.6h0" stroke="#e89c4c" stroke-width="2.4" stroke-linecap="round" fill="none"/>
<path d="M130.4 189.1h0" stroke="#93392a" stroke-width="2.4" stroke-linecap="round" fill="none"/>
<path d="M93.4 94.7h0" stroke="#e89c4c" stroke-width="2.4" stroke-linecap="round" fill="none"/>
<path d="M338.6 134.9h0" stroke="#cf6450" stroke-width="2.4" stroke-linecap="round" fill="none"/>
<path d="M166.4 189.4h0" stroke="#d9c778" stroke-width="2.4" stroke-linecap="round" fill="none"/>
<path d="M107.2 109.4h0M92.7 106.7h0M150.0 206.5h0M140.9 187.7h0M163.7 187.0h0M94.8 102.7h0" stroke="#93392a" stroke-width="2.4" stroke-linecap="round" fill="none"/>
<path d="M350.8 137.0h0" stroke="#cf6450" stroke-width="2.4" stroke-linecap="round" fill="none"/>
<path d="M127.5 202.1h0" stroke="#93392a" stroke-width="2.4" stroke-linecap="round" fill="none"/>
<path d="M332.1 131.9h0" stroke="#cf6450" stroke-width="2.4" stroke-linecap="round" fill="none"/>
<path d="M127.8 114.6h0" stroke="#e89c4c" stroke-width="2.4" stroke-linecap="round" fill="none"/>
<path d="M270.3 46.5h0" stroke="#dd7252" stroke-width="2.4" stroke-linecap="round" fill="none"/>
<path d="M138.6 191.4h0" stroke="#93392a" stroke-width="2.4" stroke-linecap="round" fill="none"/>
<path d="M109.4 85.2h0M97.0 96.0h0" stroke="#e89c4c" stroke-width="2.4" stroke-linecap="round" fill="none"/>
<path d="M142.1 205.8h0M167.1 184.7h0M131.9 203.1h0M174.8 176.6h0" stroke="#93392a" stroke-width="2.4" stroke-linecap="round" fill="none"/>
<path d="M89.7 91.4h0M169.8 168.2h0" stroke="#e89c4c" stroke-width="2.4" stroke-linecap="round" fill="none"/>
<path d="M151.9 198.1h0" stroke="#93392a" stroke-width="2.4" stroke-linecap="round" fill="none"/>
<path d="M98.9 102.4h0" stroke="#e89c4c" stroke-width="2.4" stroke-linecap="round" fill="none"/>
<path d="M214.5 77.2h0" stroke="#622819" stroke-width="2.4" stroke-linecap="round" fill="none"/>
<path d="M289.5 33.7h0" stroke="#dd7252" stroke-width="2.4" stroke-linecap="round" fill="none"/>
<path d="M148.5 201.2h0" stroke="#a3bd8e" stroke-width="2.4" stroke-linecap="round" fill="none"/>
<path d="M102.8 88.2h0" stroke="#e89c4c" stroke-width="2.4" stroke-linecap="round" fill="none"/>
<path d="M214.8 179.6h0" stroke="#cf6450" stroke-width="2.4" stroke-linecap="round" fill="none"/>
<path d="M108.5 93.0h0" stroke="#e89c4c" stroke-width="2.4" stroke-linecap="round" fill="none"/>
<path d="M171.5 117.1h0" stroke="#622819" stroke-width="2.4" stroke-linecap="round" fill="none"/>
<path d="M137.2 193.3h0" stroke="#d9c778" stroke-width="2.4" stroke-linecap="round" fill="none"/>
<path d="M80.4 93.5h0" stroke="#93392a" stroke-width="2.4" stroke-linecap="round" fill="none"/>
<path d="M344.2 134.9h0" stroke="#622819" stroke-width="2.4" stroke-linecap="round" fill="none"/>
<path d="M104.8 91.5h0M68.4 99.5h0" stroke="#93392a" stroke-width="2.4" stroke-linecap="round" fill="none"/>
<path d="M314.9 69.8h0" stroke="#622819" stroke-width="2.4" stroke-linecap="round" fill="none"/>
<path d="M101.1 122.1h0M128.4 119.9h0" stroke="#93392a" stroke-width="2.4" stroke-linecap="round" fill="none"/>
<path d="M99.0 94.1h0" stroke="#e89c4c" stroke-width="2.4" stroke-linecap="round" fill="none"/>
<path d="M116.9 126.0h0" stroke="#93392a" stroke-width="2.4" stroke-linecap="round" fill="none"/>
<path d="M97.6 89.1h0M134.8 168.3h0" stroke="#e89c4c" stroke-width="2.4" stroke-linecap="round" fill="none"/>
<path d="M107.2 194.8h0" stroke="#93392a" stroke-width="2.4" stroke-linecap="round" fill="none"/>
<path d="M171.0 110.5h0" stroke="#e8904e" stroke-width="2.4" stroke-linecap="round" fill="none"/>
<path d="M164.6 188.9h0M144.6 172.6h0" stroke="#93392a" stroke-width="2.4" stroke-linecap="round" fill="none"/>
<path d="M88.3 82.1h0M105.9 82.7h0M134.3 133.0h0M70.5 97.0h0" stroke="#e89c4c" stroke-width="2.4" stroke-linecap="round" fill="none"/>
<path d="M228.7 58.8h0" stroke="#622819" stroke-width="2.4" stroke-linecap="round" fill="none"/>
<path d="M216.6 174.7h0" stroke="#cf6450" stroke-width="2.4" stroke-linecap="round" fill="none"/>
<path d="M139.2 202.3h0M134.6 105.0h0M137.0 182.1h0M113.0 115.5h0" stroke="#93392a" stroke-width="2.4" stroke-linecap="round" fill="none"/>
<path d="M74.0 99.3h0" stroke="#e89c4c" stroke-width="2.4" stroke-linecap="round" fill="none"/>
<path d="M100.2 119.8h0M143.4 113.0h0M116.6 109.4h0M155.9 189.9h0M113.5 92.9h0" stroke="#93392a" stroke-width="2.4" stroke-linecap="round" fill="none"/>
<path d="M81.1 85.8h0" stroke="#e89c4c" stroke-width="2.4" stroke-linecap="round" fill="none"/>
<path d="M190.2 185.0h0" stroke="#93392a" stroke-width="2.4" stroke-linecap="round" fill="none"/>
<path d="M78.9 83.6h0" stroke="#e89c4c" stroke-width="2.4" stroke-linecap="round" fill="none"/>
<path d="M144.5 185.8h0" stroke="#93392a" stroke-width="2.4" stroke-linecap="round" fill="none"/>
<path d="M130.6 166.7h0" stroke="#d9c778" stroke-width="2.4" stroke-linecap="round" fill="none"/>
<path d="M350.0 139.8h0" stroke="#cf6450" stroke-width="2.4" stroke-linecap="round" fill="none"/>
<path d="M174.1 203.1h0M109.2 107.6h0" stroke="#93392a" stroke-width="2.4" stroke-linecap="round" fill="none"/>
<path d="M142.3 132.9h0" stroke="#e89c4c" stroke-width="2.4" stroke-linecap="round" fill="none"/>
<path d="M352.1 95.2h0" stroke="#622819" stroke-width="2.4" stroke-linecap="round" fill="none"/>
<path d="M122.6 173.6h0" stroke="#e89c4c" stroke-width="2.4" stroke-linecap="round" fill="none"/>
<path d="M95.3 103.8h0M166.2 181.3h0" stroke="#93392a" stroke-width="2.4" stroke-linecap="round" fill="none"/>
<path d="M257.2 170.5h0" stroke="#cf6450" stroke-width="2.4" stroke-linecap="round" fill="none"/>
<path d="M103.8 100.6h0" stroke="#e89c4c" stroke-width="2.4" stroke-linecap="round" fill="none"/>
<path d="M127.4 188.7h0M217.4 174.7h0" stroke="#93392a" stroke-width="2.4" stroke-linecap="round" fill="none"/>
<path d="M108.4 82.6h0" stroke="#e89c4c" stroke-width="2.4" stroke-linecap="round" fill="none"/>
<path d="M175.4 107.3h0M343.0 137.5h0" stroke="#622819" stroke-width="2.4" stroke-linecap="round" fill="none"/>
<path d="M120.5 110.8h0M163.9 178.6h0" stroke="#93392a" stroke-width="2.4" stroke-linecap="round" fill="none"/>
<path d="M113.5 108.8h0" stroke="#e89c4c" stroke-width="2.4" stroke-linecap="round" fill="none"/>
<path d="M174.8 207.7h0" stroke="#93392a" stroke-width="2.4" stroke-linecap="round" fill="none"/>
<path d="M155.3 169.0h0" stroke="#e89c4c" stroke-width="2.4" stroke-linecap="round" fill="none"/>
<path d="M132.4 204.2h0" stroke="#93392a" stroke-width="2.4" stroke-linecap="round" fill="none"/>
<path d="M167.6 208.6h0" stroke="#eebe5c" stroke-width="2.4" stroke-linecap="round" fill="none"/>
<path d="M149.6 200.1h0" stroke="#a3bd8e" stroke-width="2.4" stroke-linecap="round" fill="none"/>
<path d="M331.2 81.6h0" stroke="#dd7252" stroke-width="2.4" stroke-linecap="round" fill="none"/>
<path d="M176.8 163.8h0" stroke="#622819" stroke-width="2.4" stroke-linecap="round" fill="none"/>
<path d="M82.6 88.4h0" stroke="#e89c4c" stroke-width="2.4" stroke-linecap="round" fill="none"/>
<path d="M124.1 82.1h0" stroke="#93392a" stroke-width="2.4" stroke-linecap="round" fill="none"/>
<path d="M128.8 164.4h0" stroke="#e89c4c" stroke-width="2.4" stroke-linecap="round" fill="none"/>
<path d="M108.0 114.4h0M141.0 119.8h0M109.1 178.2h0" stroke="#93392a" stroke-width="2.4" stroke-linecap="round" fill="none"/>
<path d="M332.4 122.2h0" stroke="#cf6450" stroke-width="2.4" stroke-linecap="round" fill="none"/>
<path d="M135.0 188.2h0" stroke="#d9c778" stroke-width="2.4" stroke-linecap="round" fill="none"/>
<path d="M121.6 171.8h0" stroke="#93392a" stroke-width="2.4" stroke-linecap="round" fill="none"/>
<path d="M105.4 167.6h0M109.5 94.2h0" stroke="#e89c4c" stroke-width="2.4" stroke-linecap="round" fill="none"/>
<path d="M118.6 181.8h0" stroke="#93392a" stroke-width="2.4" stroke-linecap="round" fill="none"/>
<path d="M221.8 172.6h0" stroke="#622819" stroke-width="2.4" stroke-linecap="round" fill="none"/>
<path d="M95.9 120.2h0M148.7 117.9h0" stroke="#93392a" stroke-width="2.4" stroke-linecap="round" fill="none"/>
<path d="M139.9 213.5h0" stroke="#a3bd8e" stroke-width="2.4" stroke-linecap="round" fill="none"/>
<path d="M128.7 165.2h0" stroke="#e89c4c" stroke-width="2.4" stroke-linecap="round" fill="none"/>
<path d="M77.8 105.6h0" stroke="#93392a" stroke-width="2.4" stroke-linecap="round" fill="none"/>
<path d="M80.3 100.4h0" stroke="#e89c4c" stroke-width="2.4" stroke-linecap="round" fill="none"/>
<path d="M177.9 194.9h0M170.0 182.8h0M137.8 180.8h0M131.3 187.3h0M133.1 191.7h0" stroke="#93392a" stroke-width="2.4" stroke-linecap="round" fill="none"/>
<path d="M166.3 103.1h0" stroke="#622819" stroke-width="2.4" stroke-linecap="round" fill="none"/>
<path d="M158.2 204.4h0" stroke="#93392a" stroke-width="2.4" stroke-linecap="round" fill="none"/>
<path d="M313.7 125.3h0" stroke="#622819" stroke-width="2.4" stroke-linecap="round" fill="none"/>
<path d="M171.9 199.9h0M102.0 93.8h0M77.0 98.4h0M143.8 192.6h0M168.0 177.9h0" stroke="#93392a" stroke-width="2.4" stroke-linecap="round" fill="none"/>
<path d="M164.3 207.1h0" stroke="#a3bd8e" stroke-width="2.4" stroke-linecap="round" fill="none"/>
<path d="M126.0 89.0h0" stroke="#93392a" stroke-width="2.4" stroke-linecap="round" fill="none"/>
<path d="M235.3 172.2h0" stroke="#622819" stroke-width="2.4" stroke-linecap="round" fill="none"/>
<path d="M99.3 104.8h0" stroke="#93392a" stroke-width="2.4" stroke-linecap="round" fill="none"/>
<path d="M242.3 161.5h0" stroke="#622819" stroke-width="2.4" stroke-linecap="round" fill="none"/>
<path d="M117.9 125.5h0" stroke="#93392a" stroke-width="2.4" stroke-linecap="round" fill="none"/>
<path d="M141.2 127.5h0" stroke="#e89c4c" stroke-width="2.4" stroke-linecap="round" fill="none"/>
<path d="M108.3 106.5h0M137.2 122.4h0" stroke="#93392a" stroke-width="2.4" stroke-linecap="round" fill="none"/>
<path d="M112.1 99.5h0M145.3 132.4h0" stroke="#e89c4c" stroke-width="2.4" stroke-linecap="round" fill="none"/>
<path d="M83.1 110.1h0M121.9 117.1h0" stroke="#93392a" stroke-width="2.4" stroke-linecap="round" fill="none"/>
<path d="M189.4 97.9h0" stroke="#622819" stroke-width="2.4" stroke-linecap="round" fill="none"/>
<path d="M120.8 168.3h0" stroke="#e89c4c" stroke-width="2.4" stroke-linecap="round" fill="none"/>
<path d="M310.5 55.0h0" stroke="#622819" stroke-width="2.4" stroke-linecap="round" fill="none"/>
<path d="M119.3 182.5h0" stroke="#d9c778" stroke-width="2.4" stroke-linecap="round" fill="none"/>
<path d="M257.7 89.3h0" stroke="#5d8c80" stroke-width="2.4" stroke-linecap="round" fill="none"/>
<path d="M127.3 97.3h0" stroke="#e89c4c" stroke-width="2.4" stroke-linecap="round" fill="none"/>
<path d="M153.0 207.4h0M133.7 188.7h0M107.5 187.3h0M148.5 128.4h0M134.2 182.6h0M137.8 211.6h0M83.9 105.4h0" stroke="#93392a" stroke-width="2.4" stroke-linecap="round" fill="none"/>
<path d="M90.7 86.9h0" stroke="#e89c4c" stroke-width="2.4" stroke-linecap="round" fill="none"/>
<path d="M96.8 116.4h0M135.6 129.1h0M123.7 196.1h0" stroke="#93392a" stroke-width="2.4" stroke-linecap="round" fill="none"/>
<path d="M300.9 56.5h0" stroke="#622819" stroke-width="2.4" stroke-linecap="round" fill="none"/>
<path d="M340.7 142.4h0" stroke="#cf6450" stroke-width="2.4" stroke-linecap="round" fill="none"/>
<path d="M126.7 169.6h0" stroke="#e89c4c" stroke-width="2.4" stroke-linecap="round" fill="none"/>
<path d="M99.2 80.8h0" stroke="#93392a" stroke-width="2.4" stroke-linecap="round" fill="none"/>
<path d="M140.1 130.6h0" stroke="#e89c4c" stroke-width="2.4" stroke-linecap="round" fill="none"/>
<path d="M128.9 200.8h0M140.8 180.1h0M124.5 106.0h0" stroke="#93392a" stroke-width="2.4" stroke-linecap="round" fill="none"/>
<path d="M112.5 125.3h0" stroke="#e89c4c" stroke-width="2.4" stroke-linecap="round" fill="none"/>
<path d="M141.3 184.7h0" stroke="#93392a" stroke-width="2.4" stroke-linecap="round" fill="none"/>
<path d="M152.3 196.7h0" stroke="#a3bd8e" stroke-width="2.4" stroke-linecap="round" fill="none"/>
<path d="M205.4 73.2h0" stroke="#622819" stroke-width="2.4" stroke-linecap="round" fill="none"/>
<path d="M114.6 186.7h0" stroke="#93392a" stroke-width="2.4" stroke-linecap="round" fill="none"/>
<path d="M91.1 94.2h0" stroke="#e89c4c" stroke-width="2.4" stroke-linecap="round" fill="none"/>
<path d="M89.7 122.0h0" stroke="#93392a" stroke-width="2.4" stroke-linecap="round" fill="none"/>
<path d="M112.1 87.7h0" stroke="#e89c4c" stroke-width="2.4" stroke-linecap="round" fill="none"/>
<path d="M137.1 181.4h0" stroke="#d9c778" stroke-width="2.4" stroke-linecap="round" fill="none"/>
<path d="M114.0 78.8h0" stroke="#e89c4c" stroke-width="2.4" stroke-linecap="round" fill="none"/>
<path d="M141.0 174.6h0" stroke="#d9c778" stroke-width="2.4" stroke-linecap="round" fill="none"/>
<path d="M131.8 93.5h0M137.6 186.4h0M104.1 185.6h0" stroke="#93392a" stroke-width="2.4" stroke-linecap="round" fill="none"/>
<path d="M113.1 169.2h0M115.6 92.8h0" stroke="#e89c4c" stroke-width="2.4" stroke-linecap="round" fill="none"/>
<path d="M67.8 107.3h0" stroke="#93392a" stroke-width="2.4" stroke-linecap="round" fill="none"/>
<path d="M153.3 177.8h0" stroke="#d9c778" stroke-width="2.4" stroke-linecap="round" fill="none"/>
<path d="M140.2 186.0h0M125.4 134.4h0" stroke="#93392a" stroke-width="2.4" stroke-linecap="round" fill="none"/>
<path d="M333.3 124.0h0" stroke="#cf6450" stroke-width="2.4" stroke-linecap="round" fill="none"/>
<path d="M112.0 93.2h0" stroke="#e89c4c" stroke-width="2.4" stroke-linecap="round" fill="none"/>
<path d="M134.9 176.9h0" stroke="#93392a" stroke-width="2.4" stroke-linecap="round" fill="none"/>
<path d="M143.0 196.6h0" stroke="#a3bd8e" stroke-width="2.4" stroke-linecap="round" fill="none"/>
<path d="M128.0 170.4h0" stroke="#e89c4c" stroke-width="2.4" stroke-linecap="round" fill="none"/>
<path d="M145.1 179.7h0" stroke="#d9c778" stroke-width="2.4" stroke-linecap="round" fill="none"/>
<path d="M119.9 92.4h0M111.1 94.3h0" stroke="#e89c4c" stroke-width="2.4" stroke-linecap="round" fill="none"/>
<path d="M107.4 115.5h0M136.2 197.8h0" stroke="#93392a" stroke-width="2.4" stroke-linecap="round" fill="none"/>
<path d="M347.3 145.0h0" stroke="#cf6450" stroke-width="2.4" stroke-linecap="round" fill="none"/>
<path d="M82.5 114.7h0M85.8 97.3h0M128.3 109.4h0" stroke="#93392a" stroke-width="2.4" stroke-linecap="round" fill="none"/>
<path d="M138.4 191.8h0" stroke="#a3bd8e" stroke-width="2.4" stroke-linecap="round" fill="none"/>
<path d="M151.5 176.1h0" stroke="#93392a" stroke-width="2.4" stroke-linecap="round" fill="none"/>
<path d="M162.8 136.6h0" stroke="#e89c4c" stroke-width="2.4" stroke-linecap="round" fill="none"/>
<path d="M116.9 94.0h0" stroke="#93392a" stroke-width="2.4" stroke-linecap="round" fill="none"/>
<path d="M125.4 122.6h0" stroke="#e89c4c" stroke-width="2.4" stroke-linecap="round" fill="none"/>
<path d="M101.2 124.6h0" stroke="#93392a" stroke-width="2.4" stroke-linecap="round" fill="none"/>
<path d="M150.1 196.4h0" stroke="#d9c778" stroke-width="2.4" stroke-linecap="round" fill="none"/>
<path d="M211.7 177.8h0" stroke="#cf6450" stroke-width="2.4" stroke-linecap="round" fill="none"/>
<path d="M181.9 107.3h0" stroke="#e8904e" stroke-width="2.4" stroke-linecap="round" fill="none"/>
<path d="M87.1 81.6h0" stroke="#e89c4c" stroke-width="2.4" stroke-linecap="round" fill="none"/>
<path d="M153.6 131.6h0" stroke="#93392a" stroke-width="2.4" stroke-linecap="round" fill="none"/>
<path d="M337.4 129.1h0" stroke="#cf6450" stroke-width="2.4" stroke-linecap="round" fill="none"/>
<path d="M326.3 81.6h0" stroke="#dd7252" stroke-width="2.4" stroke-linecap="round" fill="none"/>
<path d="M184.5 63.4h0" stroke="#e8904e" stroke-width="2.4" stroke-linecap="round" fill="none"/>
<path d="M123.3 90.0h0" stroke="#93392a" stroke-width="2.4" stroke-linecap="round" fill="none"/>
<path d="M175.2 177.9h0" stroke="#d9c778" stroke-width="2.4" stroke-linecap="round" fill="none"/>
<path d="M143.8 103.5h0" stroke="#93392a" stroke-width="2.4" stroke-linecap="round" fill="none"/>
<path d="M87.2 100.8h0" stroke="#e89c4c" stroke-width="2.4" stroke-linecap="round" fill="none"/>
<path d="M117.9 99.1h0M172.7 161.6h0M110.1 115.8h0M73.1 89.3h0M155.3 191.1h0M107.2 113.3h0" stroke="#93392a" stroke-width="2.4" stroke-linecap="round" fill="none"/>
<path d="M152.5 114.5h0" stroke="#622819" stroke-width="2.4" stroke-linecap="round" fill="none"/>
<path d="M113.4 187.0h0M129.9 122.6h0" stroke="#93392a" stroke-width="2.4" stroke-linecap="round" fill="none"/>
<path d="M139.8 131.5h0" stroke="#e89c4c" stroke-width="2.4" stroke-linecap="round" fill="none"/>
<path d="M151.8 76.3h0" stroke="#e8904e" stroke-width="2.4" stroke-linecap="round" fill="none"/>
<path d="M297.8 136.3h0" stroke="#cf6450" stroke-width="2.4" stroke-linecap="round" fill="none"/>
<path d="M128.5 194.0h0M98.7 100.9h0M136.0 183.9h0" stroke="#93392a" stroke-width="2.4" stroke-linecap="round" fill="none"/>
<path d="M136.5 189.0h0" stroke="#a3bd8e" stroke-width="2.4" stroke-linecap="round" fill="none"/>
<path d="M79.1 101.5h0" stroke="#93392a" stroke-width="2.4" stroke-linecap="round" fill="none"/>
<path d="M175.8 88.1h0" stroke="#e8904e" stroke-width="2.4" stroke-linecap="round" fill="none"/>
<path d="M151.6 212.7h0" stroke="#eebe5c" stroke-width="2.4" stroke-linecap="round" fill="none"/>
<path d="M85.9 106.6h0" stroke="#93392a" stroke-width="2.4" stroke-linecap="round" fill="none"/>
<path d="M305.8 67.6h0" stroke="#622819" stroke-width="2.4" stroke-linecap="round" fill="none"/>
<path d="M137.3 186.6h0M111.5 98.2h0" stroke="#93392a" stroke-width="2.4" stroke-linecap="round" fill="none"/>
<path d="M270.3 88.6h0" stroke="#5d8c80" stroke-width="2.4" stroke-linecap="round" fill="none"/>
<path d="M97.1 93.0h0" stroke="#e89c4c" stroke-width="2.4" stroke-linecap="round" fill="none"/>
<path d="M190.5 171.7h0M173.4 198.6h0" stroke="#93392a" stroke-width="2.4" stroke-linecap="round" fill="none"/>
<path d="M90.6 84.9h0" stroke="#e89c4c" stroke-width="2.4" stroke-linecap="round" fill="none"/>
<path d="M321.9 58.4h0" stroke="#dd7252" stroke-width="2.4" stroke-linecap="round" fill="none"/>
<path d="M345.9 136.3h0" stroke="#cf6450" stroke-width="2.4" stroke-linecap="round" fill="none"/>
<path d="M101.1 121.9h0M150.2 112.8h0" stroke="#93392a" stroke-width="2.4" stroke-linecap="round" fill="none"/>
<path d="M148.4 176.3h0" stroke="#d9c778" stroke-width="2.4" stroke-linecap="round" fill="none"/>
<path d="M163.7 185.7h0" stroke="#93392a" stroke-width="2.4" stroke-linecap="round" fill="none"/>
<path d="M136.8 167.7h0" stroke="#e89c4c" stroke-width="2.4" stroke-linecap="round" fill="none"/>
<path d="M182.1 181.3h0" stroke="#cf6450" stroke-width="2.4" stroke-linecap="round" fill="none"/>
<path d="M120.1 167.9h0" stroke="#e89c4c" stroke-width="2.4" stroke-linecap="round" fill="none"/>
<path d="M115.7 196.2h0" stroke="#93392a" stroke-width="2.4" stroke-linecap="round" fill="none"/>
<path d="M314.1 124.5h0" stroke="#622819" stroke-width="2.4" stroke-linecap="round" fill="none"/>
<path d="M112.8 88.7h0M119.4 81.9h0" stroke="#e89c4c" stroke-width="2.4" stroke-linecap="round" fill="none"/>
<path d="M113.7 186.9h0" stroke="#93392a" stroke-width="2.4" stroke-linecap="round" fill="none"/>
<path d="M114.3 92.6h0" stroke="#e89c4c" stroke-width="2.4" stroke-linecap="round" fill="none"/>
<path d="M109.3 116.5h0M114.1 166.0h0M153.5 206.4h0" stroke="#93392a" stroke-width="2.4" stroke-linecap="round" fill="none"/>
<path d="M193.8 154.2h0" stroke="#e89c4c" stroke-width="2.4" stroke-linecap="round" fill="none"/>
<path d="M180.8 180.2h0" stroke="#93392a" stroke-width="2.4" stroke-linecap="round" fill="none"/>
<path d="M153.8 209.0h0" stroke="#eebe5c" stroke-width="2.4" stroke-linecap="round" fill="none"/>
<path d="M123.9 115.3h0" stroke="#e89c4c" stroke-width="2.4" stroke-linecap="round" fill="none"/>
<path d="M114.0 110.4h0M142.2 176.5h0" stroke="#93392a" stroke-width="2.4" stroke-linecap="round" fill="none"/>
<path d="M173.3 101.9h0" stroke="#e8904e" stroke-width="2.4" stroke-linecap="round" fill="none"/>
<path d="M175.5 198.7h0" stroke="#d9c778" stroke-width="2.4" stroke-linecap="round" fill="none"/>
<path d="M187.2 186.2h0M89.7 108.3h0M120.4 190.5h0" stroke="#93392a" stroke-width="2.4" stroke-linecap="round" fill="none"/>
<path d="M152.7 214.3h0" stroke="#eebe5c" stroke-width="2.4" stroke-linecap="round" fill="none"/>
<path d="M129.4 95.2h0" stroke="#e89c4c" stroke-width="2.4" stroke-linecap="round" fill="none"/>
<path d="M110.1 107.7h0M103.6 73.9h0" stroke="#93392a" stroke-width="2.4" stroke-linecap="round" fill="none"/>
<path d="M89.0 85.4h0" stroke="#e89c4c" stroke-width="2.4" stroke-linecap="round" fill="none"/>
<path d="M135.3 120.6h0" stroke="#93392a" stroke-width="2.4" stroke-linecap="round" fill="none"/>
<path d="M148.3 110.0h0" stroke="#e89c4c" stroke-width="2.4" stroke-linecap="round" fill="none"/>
<path d="M121.8 104.6h0M146.4 183.3h0" stroke="#93392a" stroke-width="2.4" stroke-linecap="round" fill="none"/>
<path d="M97.7 82.2h0" stroke="#e89c4c" stroke-width="2.4" stroke-linecap="round" fill="none"/>
<path d="M137.3 121.3h0" stroke="#93392a" stroke-width="2.4" stroke-linecap="round" fill="none"/>
<path d="M140.3 204.0h0" stroke="#a3bd8e" stroke-width="2.4" stroke-linecap="round" fill="none"/>
<path d="M125.8 196.7h0M122.6 132.8h0M131.5 170.9h0" stroke="#93392a" stroke-width="2.4" stroke-linecap="round" fill="none"/>
<path d="M103.5 97.0h0M126.7 172.5h0" stroke="#e89c4c" stroke-width="2.4" stroke-linecap="round" fill="none"/>
<path d="M82.7 115.2h0" stroke="#93392a" stroke-width="2.4" stroke-linecap="round" fill="none"/>
<path d="M169.6 168.0h0" stroke="#a3bd8e" stroke-width="2.4" stroke-linecap="round" fill="none"/>
<path d="M78.3 88.4h0" stroke="#e89c4c" stroke-width="2.4" stroke-linecap="round" fill="none"/>
<path d="M337.7 146.3h0" stroke="#cf6450" stroke-width="2.4" stroke-linecap="round" fill="none"/>
<path d="M176.6 117.3h0" stroke="#622819" stroke-width="2.4" stroke-linecap="round" fill="none"/>
<path d="M287.8 104.9h0" stroke="#5d8c80" stroke-width="2.4" stroke-linecap="round" fill="none"/>
<path d="M88.7 111.6h0" stroke="#93392a" stroke-width="2.4" stroke-linecap="round" fill="none"/>
<path d="M157.1 205.0h0" stroke="#a3bd8e" stroke-width="2.4" stroke-linecap="round" fill="none"/>
<path d="M341.2 144.5h0" stroke="#cf6450" stroke-width="2.4" stroke-linecap="round" fill="none"/>
<path d="M140.6 185.1h0" stroke="#d9c778" stroke-width="2.4" stroke-linecap="round" fill="none"/>
<path d="M113.4 105.4h0M130.0 117.6h0" stroke="#e89c4c" stroke-width="2.4" stroke-linecap="round" fill="none"/>
<path d="M161.8 206.5h0M127.1 207.3h0M119.1 115.8h0" stroke="#93392a" stroke-width="2.4" stroke-linecap="round" fill="none"/>
<path d="M99.3 76.1h0" stroke="#e89c4c" stroke-width="2.4" stroke-linecap="round" fill="none"/>
<path d="M138.0 181.1h0" stroke="#d9c778" stroke-width="2.4" stroke-linecap="round" fill="none"/>
<path d="M161.8 198.0h0M165.8 194.9h0M131.4 116.9h0M143.4 178.0h0" stroke="#93392a" stroke-width="2.4" stroke-linecap="round" fill="none"/>
<path d="M120.5 172.7h0" stroke="#d9c778" stroke-width="2.4" stroke-linecap="round" fill="none"/>
<path d="M131.6 181.4h0M101.8 108.0h0" stroke="#93392a" stroke-width="2.4" stroke-linecap="round" fill="none"/>
<path d="M100.4 94.3h0" stroke="#e89c4c" stroke-width="2.4" stroke-linecap="round" fill="none"/>
<path d="M62.9 111.8h0M163.5 187.2h0M147.3 193.6h0" stroke="#93392a" stroke-width="2.4" stroke-linecap="round" fill="none"/>
<path d="M180.1 102.6h0" stroke="#e8904e" stroke-width="2.4" stroke-linecap="round" fill="none"/>
<path d="M153.5 176.5h0M80.5 100.7h0" stroke="#93392a" stroke-width="2.4" stroke-linecap="round" fill="none"/>
<path d="M150.9 61.8h0" stroke="#e8904e" stroke-width="2.4" stroke-linecap="round" fill="none"/>
<path d="M80.3 73.8h0" stroke="#93392a" stroke-width="2.4" stroke-linecap="round" fill="none"/>
<path d="M138.8 203.7h0" stroke="#a3bd8e" stroke-width="2.4" stroke-linecap="round" fill="none"/>
<path d="M153.6 188.9h0" stroke="#93392a" stroke-width="2.4" stroke-linecap="round" fill="none"/>
<path d="M159.1 148.0h0" stroke="#622819" stroke-width="2.4" stroke-linecap="round" fill="none"/>
<path d="M334.7 53.2h0" stroke="#dd7252" stroke-width="2.4" stroke-linecap="round" fill="none"/>
<path d="M187.0 181.3h0" stroke="#93392a" stroke-width="2.4" stroke-linecap="round" fill="none"/>
<path d="M127.8 169.9h0" stroke="#e89c4c" stroke-width="2.4" stroke-linecap="round" fill="none"/>
<path d="M242.9 79.8h0" stroke="#622819" stroke-width="2.4" stroke-linecap="round" fill="none"/>
<path d="M165.3 200.9h0M113.2 107.6h0" stroke="#93392a" stroke-width="2.4" stroke-linecap="round" fill="none"/>
<path d="M89.6 84.7h0" stroke="#e89c4c" stroke-width="2.4" stroke-linecap="round" fill="none"/>
<path d="M166.8 172.6h0" stroke="#d9c778" stroke-width="2.4" stroke-linecap="round" fill="none"/>
<path d="M122.2 195.6h0" stroke="#93392a" stroke-width="2.4" stroke-linecap="round" fill="none"/>
<path d="M177.2 135.8h0" stroke="#622819" stroke-width="2.4" stroke-linecap="round" fill="none"/>
<path d="M122.4 175.9h0" stroke="#e89c4c" stroke-width="2.4" stroke-linecap="round" fill="none"/>
<path d="M89.7 91.5h0" stroke="#93392a" stroke-width="2.4" stroke-linecap="round" fill="none"/>
<path d="M190.6 137.5h0" stroke="#622819" stroke-width="2.4" stroke-linecap="round" fill="none"/>
<path d="M160.6 190.5h0" stroke="#93392a" stroke-width="2.4" stroke-linecap="round" fill="none"/>
<path d="M129.8 170.4h0" stroke="#e89c4c" stroke-width="2.4" stroke-linecap="round" fill="none"/>
<path d="M120.8 94.2h0M167.4 191.4h0" stroke="#93392a" stroke-width="2.4" stroke-linecap="round" fill="none"/>
<path d="M80.0 86.6h0" stroke="#e89c4c" stroke-width="2.4" stroke-linecap="round" fill="none"/>
<path d="M172.9 198.1h0" stroke="#93392a" stroke-width="2.4" stroke-linecap="round" fill="none"/>
<path d="M83.5 87.3h0M76.5 102.1h0" stroke="#e89c4c" stroke-width="2.4" stroke-linecap="round" fill="none"/>
<path d="M107.0 192.3h0" stroke="#93392a" stroke-width="2.4" stroke-linecap="round" fill="none"/>
<path d="M236.7 179.6h0" stroke="#cf6450" stroke-width="2.4" stroke-linecap="round" fill="none"/>
<path d="M138.0 99.3h0" stroke="#93392a" stroke-width="2.4" stroke-linecap="round" fill="none"/>
<path d="M113.8 93.1h0" stroke="#e89c4c" stroke-width="2.4" stroke-linecap="round" fill="none"/>
<path d="M84.4 121.2h0" stroke="#93392a" stroke-width="2.4" stroke-linecap="round" fill="none"/>
<path d="M157.6 184.8h0" stroke="#d9c778" stroke-width="2.4" stroke-linecap="round" fill="none"/>
<path d="M225.9 101.5h0" stroke="#e8904e" stroke-width="2.4" stroke-linecap="round" fill="none"/>
<path d="M328.1 141.9h0" stroke="#622819" stroke-width="2.4" stroke-linecap="round" fill="none"/>
<path d="M167.5 205.0h0" stroke="#a3bd8e" stroke-width="2.4" stroke-linecap="round" fill="none"/>
<path d="M133.5 209.9h0M77.0 116.0h0" stroke="#93392a" stroke-width="2.4" stroke-linecap="round" fill="none"/>
<path d="M112.9 107.9h0" stroke="#e89c4c" stroke-width="2.4" stroke-linecap="round" fill="none"/></g><rect x="297.4" y="60.2" width="42.9" height="6.1" rx="0.8" fill="#f0a58c" stroke="#6c4a3f" stroke-width="0.45"/>
<text x="298.7" y="64.8" font-size="4.3" textLength="40.3" lengthAdjust="spacingAndGlyphs" fill="#1e1e1e">MEA − North−Africa</text>
<rect x="268.3" y="97.2" width="23.7" height="6.0" rx="0.8" fill="#7f9d95" stroke="#394643" stroke-width="0.45"/>
<text x="269.6" y="101.7" font-size="4.3" textLength="21.1" lengthAdjust="spacingAndGlyphs" fill="#1e1e1e">SA − East</text>
<rect x="159.6" y="89.5" width="23.7" height="5.7" rx="0.8" fill="#f0b07a" stroke="#6c4f36" stroke-width="0.45"/>
<text x="160.9" y="93.9" font-size="4.3" textLength="21.1" lengthAdjust="spacingAndGlyphs" fill="#1e1e1e">NA −North</text>
<rect x="103.4" y="116.3" width="21.2" height="5.9" rx="0.8" fill="#e8a86e" stroke="#684b31" stroke-width="0.45"/>
<text x="104.7" y="120.8" font-size="4.3" textLength="18.6" lengthAdjust="spacingAndGlyphs" fill="#1e1e1e">NA− USA</text>
<rect x="124.1" y="140.5" width="17.5" height="5.8" rx="0.8" fill="#a65646" stroke="#4a261f" stroke-width="0.45"/>
<text x="125.4" y="144.9" font-size="4.3" textLength="14.9" lengthAdjust="spacingAndGlyphs" fill="#1e1e1e">Europe</text>
<rect x="198.5" y="140.1" width="19.8" height="6.5" rx="0.8" fill="#8f5040" stroke="#40241c" stroke-width="0.45"/>
<text x="199.8" y="144.9" font-size="4.3" textLength="17.2" lengthAdjust="spacingAndGlyphs" fill="#1e1e1e">admixed</text>
<rect x="277.6" y="137.5" width="28.9" height="6.2" rx="0.8" fill="#e09080" stroke="#644039" stroke-width="0.45"/>
<text x="278.9" y="142.1" font-size="4.3" textLength="26.3" lengthAdjust="spacingAndGlyphs" fill="#1e1e1e">MEA − Israel</text>
<rect x="273.2" y="155.6" width="25.4" height="6.1" rx="0.8" fill="#d87060" stroke="#61322b" stroke-width="0.45"/>
<text x="274.5" y="160.2" font-size="4.3" textLength="22.8" lengthAdjust="spacingAndGlyphs" fill="#1e1e1e">MEA − Iran</text>
<rect x="189.4" y="181.7" width="24.2" height="6.1" rx="0.8" fill="#4a6580" stroke="#212d39" stroke-width="0.45"/>
<text x="190.7" y="186.3" font-size="4.3" textLength="21.6" lengthAdjust="spacingAndGlyphs" fill="#1e1e1e">SA − West</text>
<rect x="135.5" y="176.1" width="34.1" height="5.6" rx="0.8" fill="#e6d9a0" stroke="#676148" stroke-width="0.45"/>
<text x="136.8" y="180.4" font-size="4.3" textLength="31.5" lengthAdjust="spacingAndGlyphs" fill="#1e1e1e">OC − Tasmania</text>
<rect x="146.0" y="197.1" width="30.6" height="6.1" rx="0.8" fill="#b0c8a8" stroke="#4f5a4b" stroke-width="0.45"/>
<text x="147.3" y="201.7" font-size="4.3" textLength="28.0" lengthAdjust="spacingAndGlyphs" fill="#1e1e1e">OC −Australia</text>
<rect x="144.2" y="206.7" width="41.7" height="5.8" rx="0.8" fill="#f0c890" stroke="#6c5a40" stroke-width="0.45"/>
<text x="145.5" y="211.1" font-size="4.3" textLength="39.1" lengthAdjust="spacingAndGlyphs" fill="#1e1e1e">OC − New Zealand</text>
<text x="194.8" y="253.8" font-size="12.45" text-anchor="middle" fill="#262626" >PC1 (9.5 %)</text>
<text transform="translate(31.7,114.3) rotate(-90)" font-size="12.45" text-anchor="middle" fill="#262626">PC2 (8.1 %)</text>
<line x1="78.88" y1="225.50" x2="78.88" y2="227.50" stroke="#555" stroke-width="0.6" />
<text x="78.9" y="237.8" font-size="8.5" text-anchor="middle" fill="#4d4d4d" >−2.5</text>
<line x1="158.50" y1="225.50" x2="158.50" y2="227.50" stroke="#555" stroke-width="0.6" />
<text x="158.5" y="237.8" font-size="8.5" text-anchor="middle" fill="#4d4d4d" >0.0</text>
<line x1="238.12" y1="225.50" x2="238.12" y2="227.50" stroke="#555" stroke-width="0.6" />
<text x="238.1" y="237.8" font-size="8.5" text-anchor="middle" fill="#4d4d4d" >2.5</text>
<line x1="317.75" y1="225.50" x2="317.75" y2="227.50" stroke="#555" stroke-width="0.6" />
<text x="317.8" y="237.8" font-size="8.5" text-anchor="middle" fill="#4d4d4d" >5.0</text>
<line x1="45.60" y1="44.20" x2="47.60" y2="44.20" stroke="#555" stroke-width="0.6" />
<text x="42.5" y="47.3" font-size="8.5" text-anchor="end" fill="#4d4d4d" >4</text>
<line x1="45.60" y1="92.40" x2="47.60" y2="92.40" stroke="#555" stroke-width="0.6" />
<text x="42.5" y="95.5" font-size="8.5" text-anchor="end" fill="#4d4d4d" >2</text>
<line x1="45.60" y1="140.60" x2="47.60" y2="140.60" stroke="#555" stroke-width="0.6" />
<text x="42.5" y="143.7" font-size="8.5" text-anchor="end" fill="#4d4d4d" >0</text>
<line x1="45.60" y1="188.80" x2="47.60" y2="188.80" stroke="#555" stroke-width="0.6" />
<text x="42.5" y="191.9" font-size="8.5" text-anchor="end" fill="#4d4d4d" >−2</text>
<text x="549.6" y="11.8" font-size="13.5" text-anchor="middle" fill="#262626" >SNV</text>
<rect x="436.7" y="15.5" width="217.0" height="208.5" fill="none" stroke="#d6d6d6" stroke-width="0.8"/>
<line x1="436.70" y1="140.30" x2="653.70" y2="140.30" stroke="#8a8a8a" stroke-width="0.9" />
<line x1="566.30" y1="15.50" x2="566.30" y2="224.00" stroke="#222" stroke-width="0.9" />
<g clip-path="url(#clips)"><path d="M450.0 125.4L482.7 137.5M460.2 122.7L482.7 137.5M455.7 122.8L482.7 137.5M462.6 128.5L482.7 137.5M464.0 126.8L482.7 137.5M458.7 127.3L482.7 137.5M452.4 128.3L482.7 137.5M449.6 127.2L482.7 137.5M460.3 128.1L482.7 137.5M454.2 133.0L482.7 137.5M456.8 126.7L482.7 137.5M457.4 126.8L482.7 137.5M454.4 127.2L482.7 137.5M467.6 128.1L482.7 137.5M457.5 129.6L482.7 137.5M467.6 127.5L482.7 137.5M448.5 127.2L482.7 137.5M460.2 133.3L482.7 137.5M460.1 126.8L482.7 137.5M454.4 129.1L482.7 137.5M457.7 128.7L482.7 137.5M454.1 131.0L482.7 137.5M464.8 128.1L482.7 137.5M454.0 129.7L482.7 137.5M459.1 125.6L482.7 137.5M454.0 130.4L482.7 137.5M456.0 127.2L482.7 137.5M457.7 127.9L482.7 137.5M456.5 123.6L482.7 137.5M466.1 128.5L482.7 137.5M451.7 130.3L482.7 137.5M458.2 128.0L482.7 137.5M462.3 133.2L482.7 137.5M459.5 131.6L482.7 137.5M468.4 125.7L482.7 137.5M453.6 129.8L482.7 137.5M447.1 127.4L482.7 137.5M463.6 130.4L482.7 137.5M459.7 123.6L482.7 137.5M469.4 129.3L482.7 137.5M460.7 129.1L482.7 137.5M447.1 124.7L482.7 137.5M449.8 132.4L482.7 137.5M451.9 127.4L482.7 137.5M455.1 129.3L482.7 137.5M459.3 128.6L482.7 137.5M457.4 128.6L482.7 137.5M463.3 127.8L482.7 137.5M453.1 128.9L482.7 137.5M448.0 125.6L482.7 137.5M451.0 128.7L482.7 137.5M468.0 129.8L482.7 137.5M462.8 128.5L482.7 137.5M458.0 127.0L482.7 137.5M449.9 125.0L482.7 137.5M461.1 129.5L482.7 137.5M462.8 131.6L482.7 137.5M454.8 130.4L482.7 137.5M467.3 128.0L482.7 137.5M462.5 127.6L482.7 137.5M447.6 128.3L482.7 137.5M452.0 128.3L482.7 137.5M454.0 128.7L482.7 137.5M464.0 127.2L482.7 137.5M451.5 128.0L482.7 137.5M460.2 129.0L482.7 137.5M458.7 123.5L482.7 137.5M450.3 131.1L482.7 137.5M457.8 124.5L482.7 137.5M451.7 124.7L482.7 137.5M473.1 128.2L482.7 137.5M474.8 127.6L482.7 137.5M478.8 128.1L482.7 137.5M481.2 127.6L482.7 137.5M477.1 128.3L482.7 137.5M475.7 128.4L482.7 137.5M471.5 127.9L482.7 137.5M479.4 127.3L482.7 137.5M477.1 128.8L482.7 137.5M477.0 127.4L482.7 137.5M478.3 129.0L482.7 137.5M479.8 127.5L482.7 137.5M480.2 127.3L482.7 137.5M481.4 125.5L482.7 137.5" stroke="#e9a055" stroke-width="0.3" stroke-opacity="0.170" fill="none"/>
<path d="M475.2 129.1L581.3 86.7M471.7 129.7L581.3 86.7M479.4 129.0L581.3 86.7" stroke="#e9a055" stroke-width="0.3" stroke-opacity="0.170" fill="none"/>
<path d="M496.1 141.4L540.2 160.5M496.4 140.3L540.2 160.5M496.7 141.2L540.2 160.5M496.0 140.8L540.2 160.5M495.7 141.5L540.2 160.5" stroke="#e9a055" stroke-width="0.3" stroke-opacity="0.170" fill="none"/>
<path d="M476.4 130.4L613.0 212.3M470.3 129.3L613.0 212.3M474.4 130.3L613.0 212.3M472.2 130.4L613.0 212.3" stroke="#e9a055" stroke-width="0.3" stroke-opacity="0.170" fill="none"/>
<path d="M475.1 125.2L577.8 140.5M471.3 126.1L577.8 140.5M461.3 125.7L577.8 140.5M467.6 125.9L577.8 140.5M464.6 125.2L577.8 140.5M471.2 126.9L577.8 140.5M474.7 128.0L577.8 140.5M465.7 129.5L577.8 140.5M460.0 127.0L577.8 140.5M466.7 127.1L577.8 140.5M462.8 129.2L577.8 140.5M469.0 125.2L577.8 140.5" stroke="#9a3324" stroke-width="0.3" stroke-opacity="0.170" fill="none"/>
<path d="M478.6 127.4L572.9 154.3M477.6 128.4L572.9 154.3M478.1 130.8L572.9 154.3M481.5 128.7L572.9 154.3M481.4 129.6L572.9 154.3M475.2 127.6L572.9 154.3M478.3 129.3L572.9 154.3M483.4 130.9L572.9 154.3M478.5 128.4L572.9 154.3M482.5 127.0L572.9 154.3" stroke="#622819" stroke-width="0.3" stroke-opacity="0.170" fill="none"/>
<path d="M451.7 125.5L577.8 140.5M483.0 128.5L577.8 140.5M499.6 140.6L577.8 140.5M568.3 140.0L577.8 140.5M575.6 140.9L577.8 140.5M577.8 143.6L577.8 140.5M575.3 145.4L577.8 140.5M563.2 141.8L577.8 140.5M566.8 140.6L577.8 140.5M571.6 145.8L577.8 140.5M571.8 147.0L577.8 140.5M569.9 141.8L577.8 140.5M572.4 144.9L577.8 140.5M544.0 164.0L577.8 140.5" stroke="#9a3324" stroke-width="0.3" stroke-opacity="0.170" fill="none"/>
<path d="M642.8 26.0L577.8 140.5M639.5 28.8L577.8 140.5M636.8 30.6L577.8 140.5M640.5 30.4L577.8 140.5M641.7 28.2L577.8 140.5M641.5 25.5L577.8 140.5M642.6 22.3L577.8 140.5M639.1 29.3L577.8 140.5M641.8 25.0L577.8 140.5M640.1 30.2L577.8 140.5M641.8 25.0L577.8 140.5M641.6 29.3L577.8 140.5M643.0 26.1L577.8 140.5M639.9 30.1L577.8 140.5M626.3 52.5L577.8 140.5M631.2 50.7L577.8 140.5M631.5 58.8L577.8 140.5M627.6 54.3L577.8 140.5M629.3 56.2L577.8 140.5M630.1 52.1L577.8 140.5M625.6 58.5L577.8 140.5M625.1 58.0L577.8 140.5M627.7 55.2L577.8 140.5M627.3 54.6L577.8 140.5M626.4 58.9L577.8 140.5M603.2 106.1L577.8 140.5M599.9 100.6L577.8 140.5M600.5 109.5L577.8 140.5M604.2 104.6L577.8 140.5M603.4 98.8L577.8 140.5M607.5 105.3L577.8 140.5M609.2 95.5L577.8 140.5M600.8 101.1L577.8 140.5M607.5 104.6L577.8 140.5M604.2 98.9L577.8 140.5M602.0 105.9L577.8 140.5M602.3 104.4L577.8 140.5M608.2 99.6L577.8 140.5M603.4 100.0L577.8 140.5M609.0 102.5L577.8 140.5M601.2 97.8L577.8 140.5M607.7 95.4L577.8 140.5M609.6 87.1L577.8 140.5M603.1 101.0L577.8 140.5M603.3 98.8L577.8 140.5M596.3 104.1L577.8 140.5M602.5 100.8L577.8 140.5M608.3 106.0L577.8 140.5M608.3 99.4L577.8 140.5" stroke="#9a3324" stroke-width="0.3" stroke-opacity="0.272" fill="none"/>
<path d="M637.5 26.5L577.8 140.5" stroke="#5d8c80" stroke-width="0.3" stroke-opacity="0.272" fill="none"/>
<path d="M631.4 56.5L620.5 69.1M628.5 57.9L620.5 69.1M627.5 53.0L620.5 69.1M631.8 51.2L620.5 69.1M626.7 63.1L620.5 69.1M630.5 49.4L620.5 69.1M633.8 47.2L620.5 69.1" stroke="#dcc680" stroke-width="0.3" stroke-opacity="0.272" fill="none"/>
<path d="M600.5 108.4L614.0 76.0M599.9 107.3L614.0 76.0M602.5 105.9L614.0 76.0M601.1 106.4L614.0 76.0M597.5 109.6L614.0 76.0M600.3 105.8L614.0 76.0M600.2 109.1L614.0 76.0" stroke="#b9c98f" stroke-width="0.3" stroke-opacity="0.272" fill="none"/>
<path d="M598.5 111.5L604.6 191.9" stroke="#dd7252" stroke-width="0.3" stroke-opacity="0.272" fill="none"/>
<path d="M593.6 142.6L593.2 150.5M597.5 142.3L593.2 150.5" stroke="#2d4c6c" stroke-width="0.3" stroke-opacity="0.170" fill="none"/>
<path d="M596.1 177.9L613.0 212.3M595.7 175.3L613.0 212.3M587.4 163.1L613.0 212.3M589.3 164.3L613.0 212.3M589.6 166.8L613.0 212.3M595.8 176.2L613.0 212.3M598.0 180.2L613.0 212.3M588.4 162.3L613.0 212.3M597.6 179.3L613.0 212.3M590.1 168.9L613.0 212.3M592.9 174.5L613.0 212.3M587.8 161.5L613.0 212.3M594.1 178.7L613.0 212.3M590.9 170.5L613.0 212.3M604.3 195.8L613.0 212.3M598.9 201.3L613.0 212.3M609.3 203.0L613.0 212.3M604.9 204.3L613.0 212.3M605.8 198.2L613.0 212.3M606.2 200.6L613.0 212.3" stroke="#a8402e" stroke-width="0.3" stroke-opacity="0.170" fill="none"/>
<path d="M607.8 198.5L604.6 191.9M608.7 202.5L604.6 191.9M608.3 202.9L604.6 191.9M611.1 199.4L604.6 191.9M608.0 201.9L604.6 191.9M600.8 203.4L604.6 191.9M605.3 199.5L604.6 191.9M606.4 202.3L604.6 191.9M609.2 203.7L604.6 191.9M605.6 204.4L604.6 191.9M609.5 200.6L604.6 191.9M607.9 204.8L604.6 191.9M609.5 204.4L604.6 191.9M608.4 206.0L604.6 191.9M615.8 203.6L604.6 191.9M602.4 208.1L604.6 191.9" stroke="#dd7252" stroke-width="0.3" stroke-opacity="0.170" fill="none"/>
<path d="M538.0 155.5L540.2 160.5" stroke="#e8904e" stroke-width="0.3" stroke-opacity="0.170" fill="none"/>
<circle cx="450.0" cy="125.4" r="1.15" fill="#e9a055" stroke="#fff" stroke-opacity="0.7" stroke-width="0.35"/>
<circle cx="460.2" cy="122.7" r="1.15" fill="#e9a055" stroke="#fff" stroke-opacity="0.7" stroke-width="0.35"/>
<circle cx="455.7" cy="122.8" r="1.15" fill="#e9a055" stroke="#fff" stroke-opacity="0.7" stroke-width="0.35"/>
<circle cx="462.6" cy="128.5" r="1.15" fill="#e9a055" stroke="#fff" stroke-opacity="0.7" stroke-width="0.35"/>
<circle cx="464.0" cy="126.8" r="1.15" fill="#e9a055" stroke="#fff" stroke-opacity="0.7" stroke-width="0.35"/>
<circle cx="458.7" cy="127.3" r="1.15" fill="#e9a055" stroke="#fff" stroke-opacity="0.7" stroke-width="0.35"/>
<circle cx="452.4" cy="128.3" r="1.15" fill="#e9a055" stroke="#fff" stroke-opacity="0.7" stroke-width="0.35"/>
<circle cx="449.6" cy="127.2" r="1.15" fill="#e9a055" stroke="#fff" stroke-opacity="0.7" stroke-width="0.35"/>
<circle cx="460.3" cy="128.1" r="1.15" fill="#e9a055" stroke="#fff" stroke-opacity="0.7" stroke-width="0.35"/>
<circle cx="454.2" cy="133.0" r="1.15" fill="#e9a055" stroke="#fff" stroke-opacity="0.7" stroke-width="0.35"/>
<circle cx="456.8" cy="126.7" r="1.15" fill="#e9a055" stroke="#fff" stroke-opacity="0.7" stroke-width="0.35"/>
<circle cx="457.4" cy="126.8" r="1.15" fill="#e9a055" stroke="#fff" stroke-opacity="0.7" stroke-width="0.35"/>
<circle cx="454.4" cy="127.2" r="1.15" fill="#e9a055" stroke="#fff" stroke-opacity="0.7" stroke-width="0.35"/>
<circle cx="467.6" cy="128.1" r="1.15" fill="#e9a055" stroke="#fff" stroke-opacity="0.7" stroke-width="0.35"/>
<circle cx="457.5" cy="129.6" r="1.15" fill="#e9a055" stroke="#fff" stroke-opacity="0.7" stroke-width="0.35"/>
<circle cx="467.6" cy="127.5" r="1.15" fill="#e9a055" stroke="#fff" stroke-opacity="0.7" stroke-width="0.35"/>
<circle cx="448.5" cy="127.2" r="1.15" fill="#e9a055" stroke="#fff" stroke-opacity="0.7" stroke-width="0.35"/>
<circle cx="460.2" cy="133.3" r="1.15" fill="#e9a055" stroke="#fff" stroke-opacity="0.7" stroke-width="0.35"/>
<circle cx="460.1" cy="126.8" r="1.15" fill="#e9a055" stroke="#fff" stroke-opacity="0.7" stroke-width="0.35"/>
<circle cx="454.4" cy="129.1" r="1.15" fill="#e9a055" stroke="#fff" stroke-opacity="0.7" stroke-width="0.35"/>
<circle cx="457.7" cy="128.7" r="1.15" fill="#e9a055" stroke="#fff" stroke-opacity="0.7" stroke-width="0.35"/>
<circle cx="454.1" cy="131.0" r="1.15" fill="#e9a055" stroke="#fff" stroke-opacity="0.7" stroke-width="0.35"/>
<circle cx="464.8" cy="128.1" r="1.15" fill="#e9a055" stroke="#fff" stroke-opacity="0.7" stroke-width="0.35"/>
<circle cx="454.0" cy="129.7" r="1.15" fill="#e9a055" stroke="#fff" stroke-opacity="0.7" stroke-width="0.35"/>
<circle cx="459.1" cy="125.6" r="1.15" fill="#e9a055" stroke="#fff" stroke-opacity="0.7" stroke-width="0.35"/>
<circle cx="454.0" cy="130.4" r="1.15" fill="#e9a055" stroke="#fff" stroke-opacity="0.7" stroke-width="0.35"/>
<circle cx="456.0" cy="127.2" r="1.15" fill="#e9a055" stroke="#fff" stroke-opacity="0.7" stroke-width="0.35"/>
<circle cx="457.7" cy="127.9" r="1.15" fill="#e9a055" stroke="#fff" stroke-opacity="0.7" stroke-width="0.35"/>
<circle cx="456.5" cy="123.6" r="1.15" fill="#e9a055" stroke="#fff" stroke-opacity="0.7" stroke-width="0.35"/>
<circle cx="466.1" cy="128.5" r="1.15" fill="#e9a055" stroke="#fff" stroke-opacity="0.7" stroke-width="0.35"/>
<circle cx="451.7" cy="130.3" r="1.15" fill="#e9a055" stroke="#fff" stroke-opacity="0.7" stroke-width="0.35"/>
<circle cx="458.2" cy="128.0" r="1.15" fill="#e9a055" stroke="#fff" stroke-opacity="0.7" stroke-width="0.35"/>
<circle cx="462.3" cy="133.2" r="1.15" fill="#e9a055" stroke="#fff" stroke-opacity="0.7" stroke-width="0.35"/>
<circle cx="459.5" cy="131.6" r="1.15" fill="#e9a055" stroke="#fff" stroke-opacity="0.7" stroke-width="0.35"/>
<circle cx="468.4" cy="125.7" r="1.15" fill="#e9a055" stroke="#fff" stroke-opacity="0.7" stroke-width="0.35"/>
<circle cx="453.6" cy="129.8" r="1.15" fill="#e9a055" stroke="#fff" stroke-opacity="0.7" stroke-width="0.35"/>
<circle cx="447.1" cy="127.4" r="1.15" fill="#e9a055" stroke="#fff" stroke-opacity="0.7" stroke-width="0.35"/>
<circle cx="463.6" cy="130.4" r="1.15" fill="#e9a055" stroke="#fff" stroke-opacity="0.7" stroke-width="0.35"/>
<circle cx="459.7" cy="123.6" r="1.15" fill="#e9a055" stroke="#fff" stroke-opacity="0.7" stroke-width="0.35"/>
<circle cx="469.4" cy="129.3" r="1.15" fill="#e9a055" stroke="#fff" stroke-opacity="0.7" stroke-width="0.35"/>
<circle cx="460.7" cy="129.1" r="1.15" fill="#e9a055" stroke="#fff" stroke-opacity="0.7" stroke-width="0.35"/>
<circle cx="447.1" cy="124.7" r="1.15" fill="#e9a055" stroke="#fff" stroke-opacity="0.7" stroke-width="0.35"/>
<circle cx="449.8" cy="132.4" r="1.15" fill="#e9a055" stroke="#fff" stroke-opacity="0.7" stroke-width="0.35"/>
<circle cx="451.9" cy="127.4" r="1.15" fill="#e9a055" stroke="#fff" stroke-opacity="0.7" stroke-width="0.35"/>
<circle cx="455.1" cy="129.3" r="1.15" fill="#e9a055" stroke="#fff" stroke-opacity="0.7" stroke-width="0.35"/>
<circle cx="459.3" cy="128.6" r="1.15" fill="#e9a055" stroke="#fff" stroke-opacity="0.7" stroke-width="0.35"/>
<circle cx="457.4" cy="128.6" r="1.15" fill="#e9a055" stroke="#fff" stroke-opacity="0.7" stroke-width="0.35"/>
<circle cx="463.3" cy="127.8" r="1.15" fill="#e9a055" stroke="#fff" stroke-opacity="0.7" stroke-width="0.35"/>
<circle cx="453.1" cy="128.9" r="1.15" fill="#e9a055" stroke="#fff" stroke-opacity="0.7" stroke-width="0.35"/>
<circle cx="448.0" cy="125.6" r="1.15" fill="#e9a055" stroke="#fff" stroke-opacity="0.7" stroke-width="0.35"/>
<circle cx="451.0" cy="128.7" r="1.15" fill="#e9a055" stroke="#fff" stroke-opacity="0.7" stroke-width="0.35"/>
<circle cx="468.0" cy="129.8" r="1.15" fill="#e9a055" stroke="#fff" stroke-opacity="0.7" stroke-width="0.35"/>
<circle cx="462.8" cy="128.5" r="1.15" fill="#e9a055" stroke="#fff" stroke-opacity="0.7" stroke-width="0.35"/>
<circle cx="458.0" cy="127.0" r="1.15" fill="#e9a055" stroke="#fff" stroke-opacity="0.7" stroke-width="0.35"/>
<circle cx="449.9" cy="125.0" r="1.15" fill="#e9a055" stroke="#fff" stroke-opacity="0.7" stroke-width="0.35"/>
<circle cx="461.1" cy="129.5" r="1.15" fill="#e9a055" stroke="#fff" stroke-opacity="0.7" stroke-width="0.35"/>
<circle cx="462.8" cy="131.6" r="1.15" fill="#e9a055" stroke="#fff" stroke-opacity="0.7" stroke-width="0.35"/>
<circle cx="454.8" cy="130.4" r="1.15" fill="#e9a055" stroke="#fff" stroke-opacity="0.7" stroke-width="0.35"/>
<circle cx="467.3" cy="128.0" r="1.15" fill="#e9a055" stroke="#fff" stroke-opacity="0.7" stroke-width="0.35"/>
<circle cx="462.5" cy="127.6" r="1.15" fill="#e9a055" stroke="#fff" stroke-opacity="0.7" stroke-width="0.35"/>
<circle cx="447.6" cy="128.3" r="1.15" fill="#e9a055" stroke="#fff" stroke-opacity="0.7" stroke-width="0.35"/>
<circle cx="452.0" cy="128.3" r="1.15" fill="#e9a055" stroke="#fff" stroke-opacity="0.7" stroke-width="0.35"/>
<circle cx="454.0" cy="128.7" r="1.15" fill="#e9a055" stroke="#fff" stroke-opacity="0.7" stroke-width="0.35"/>
<circle cx="464.0" cy="127.2" r="1.15" fill="#e9a055" stroke="#fff" stroke-opacity="0.7" stroke-width="0.35"/>
<circle cx="451.5" cy="128.0" r="1.15" fill="#e9a055" stroke="#fff" stroke-opacity="0.7" stroke-width="0.35"/>
<circle cx="460.2" cy="129.0" r="1.15" fill="#e9a055" stroke="#fff" stroke-opacity="0.7" stroke-width="0.35"/>
<circle cx="458.7" cy="123.5" r="1.15" fill="#e9a055" stroke="#fff" stroke-opacity="0.7" stroke-width="0.35"/>
<circle cx="450.3" cy="131.1" r="1.15" fill="#e9a055" stroke="#fff" stroke-opacity="0.7" stroke-width="0.35"/>
<circle cx="457.8" cy="124.5" r="1.15" fill="#e9a055" stroke="#fff" stroke-opacity="0.7" stroke-width="0.35"/>
<circle cx="451.7" cy="124.7" r="1.15" fill="#e9a055" stroke="#fff" stroke-opacity="0.7" stroke-width="0.35"/>
<circle cx="473.1" cy="128.2" r="1.15" fill="#e9a055" stroke="#fff" stroke-opacity="0.7" stroke-width="0.35"/>
<circle cx="474.8" cy="127.6" r="1.15" fill="#e9a055" stroke="#fff" stroke-opacity="0.7" stroke-width="0.35"/>
<circle cx="478.8" cy="128.1" r="1.15" fill="#e9a055" stroke="#fff" stroke-opacity="0.7" stroke-width="0.35"/>
<circle cx="481.2" cy="127.6" r="1.15" fill="#e9a055" stroke="#fff" stroke-opacity="0.7" stroke-width="0.35"/>
<circle cx="477.1" cy="128.3" r="1.15" fill="#e9a055" stroke="#fff" stroke-opacity="0.7" stroke-width="0.35"/>
<circle cx="475.7" cy="128.4" r="1.15" fill="#e9a055" stroke="#fff" stroke-opacity="0.7" stroke-width="0.35"/>
<circle cx="471.5" cy="127.9" r="1.15" fill="#e9a055" stroke="#fff" stroke-opacity="0.7" stroke-width="0.35"/>
<circle cx="479.4" cy="127.3" r="1.15" fill="#e9a055" stroke="#fff" stroke-opacity="0.7" stroke-width="0.35"/>
<circle cx="477.1" cy="128.8" r="1.15" fill="#e9a055" stroke="#fff" stroke-opacity="0.7" stroke-width="0.35"/>
<circle cx="477.0" cy="127.4" r="1.15" fill="#e9a055" stroke="#fff" stroke-opacity="0.7" stroke-width="0.35"/>
<circle cx="478.3" cy="129.0" r="1.15" fill="#e9a055" stroke="#fff" stroke-opacity="0.7" stroke-width="0.35"/>
<circle cx="479.8" cy="127.5" r="1.15" fill="#e9a055" stroke="#fff" stroke-opacity="0.7" stroke-width="0.35"/>
<circle cx="480.2" cy="127.3" r="1.15" fill="#e9a055" stroke="#fff" stroke-opacity="0.7" stroke-width="0.35"/>
<circle cx="481.4" cy="125.5" r="1.15" fill="#e9a055" stroke="#fff" stroke-opacity="0.7" stroke-width="0.35"/>
<circle cx="475.2" cy="129.1" r="1.15" fill="#e9a055" stroke="#fff" stroke-opacity="0.7" stroke-width="0.35"/>
<circle cx="471.7" cy="129.7" r="1.15" fill="#e9a055" stroke="#fff" stroke-opacity="0.7" stroke-width="0.35"/>
<circle cx="479.4" cy="129.0" r="1.15" fill="#e9a055" stroke="#fff" stroke-opacity="0.7" stroke-width="0.35"/>
<circle cx="496.1" cy="141.4" r="1.15" fill="#e9a055" stroke="#fff" stroke-opacity="0.7" stroke-width="0.35"/>
<circle cx="496.4" cy="140.3" r="1.15" fill="#e9a055" stroke="#fff" stroke-opacity="0.7" stroke-width="0.35"/>
<circle cx="496.7" cy="141.2" r="1.15" fill="#e9a055" stroke="#fff" stroke-opacity="0.7" stroke-width="0.35"/>
<circle cx="496.0" cy="140.8" r="1.15" fill="#e9a055" stroke="#fff" stroke-opacity="0.7" stroke-width="0.35"/>
<circle cx="495.7" cy="141.5" r="1.15" fill="#e9a055" stroke="#fff" stroke-opacity="0.7" stroke-width="0.35"/>
<circle cx="476.4" cy="130.4" r="1.15" fill="#e9a055" stroke="#fff" stroke-opacity="0.7" stroke-width="0.35"/>
<circle cx="470.3" cy="129.3" r="1.15" fill="#e9a055" stroke="#fff" stroke-opacity="0.7" stroke-width="0.35"/>
<circle cx="474.4" cy="130.3" r="1.15" fill="#e9a055" stroke="#fff" stroke-opacity="0.7" stroke-width="0.35"/>
<circle cx="472.2" cy="130.4" r="1.15" fill="#e9a055" stroke="#fff" stroke-opacity="0.7" stroke-width="0.35"/>
<circle cx="451.7" cy="125.5" r="1.35" fill="#9a3324" stroke="#fff" stroke-opacity="0.7" stroke-width="0.35"/>
<circle cx="483.0" cy="128.5" r="1.35" fill="#9a3324" stroke="#fff" stroke-opacity="0.7" stroke-width="0.35"/>
<circle cx="499.6" cy="140.6" r="1.35" fill="#9a3324" stroke="#fff" stroke-opacity="0.7" stroke-width="0.35"/>
<circle cx="642.8" cy="26.0" r="1.35" fill="#9a3324" stroke="#fff" stroke-opacity="0.7" stroke-width="0.35"/>
<circle cx="639.5" cy="28.8" r="1.35" fill="#9a3324" stroke="#fff" stroke-opacity="0.7" stroke-width="0.35"/>
<circle cx="636.8" cy="30.6" r="1.35" fill="#9a3324" stroke="#fff" stroke-opacity="0.7" stroke-width="0.35"/>
<circle cx="640.5" cy="30.4" r="1.35" fill="#9a3324" stroke="#fff" stroke-opacity="0.7" stroke-width="0.35"/>
<circle cx="641.7" cy="28.2" r="1.35" fill="#9a3324" stroke="#fff" stroke-opacity="0.7" stroke-width="0.35"/>
<circle cx="641.5" cy="25.5" r="1.35" fill="#9a3324" stroke="#fff" stroke-opacity="0.7" stroke-width="0.35"/>
<circle cx="642.6" cy="22.3" r="1.35" fill="#9a3324" stroke="#fff" stroke-opacity="0.7" stroke-width="0.35"/>
<circle cx="639.1" cy="29.3" r="1.35" fill="#9a3324" stroke="#fff" stroke-opacity="0.7" stroke-width="0.35"/>
<circle cx="641.8" cy="25.0" r="1.35" fill="#9a3324" stroke="#fff" stroke-opacity="0.7" stroke-width="0.35"/>
<circle cx="640.1" cy="30.2" r="1.35" fill="#9a3324" stroke="#fff" stroke-opacity="0.7" stroke-width="0.35"/>
<circle cx="641.8" cy="25.0" r="1.35" fill="#9a3324" stroke="#fff" stroke-opacity="0.7" stroke-width="0.35"/>
<circle cx="641.6" cy="29.3" r="1.35" fill="#9a3324" stroke="#fff" stroke-opacity="0.7" stroke-width="0.35"/>
<circle cx="643.0" cy="26.1" r="1.35" fill="#9a3324" stroke="#fff" stroke-opacity="0.7" stroke-width="0.35"/>
<circle cx="639.9" cy="30.1" r="1.35" fill="#9a3324" stroke="#fff" stroke-opacity="0.7" stroke-width="0.35"/>
<circle cx="626.3" cy="52.5" r="1.35" fill="#9a3324" stroke="#fff" stroke-opacity="0.7" stroke-width="0.35"/>
<circle cx="631.2" cy="50.7" r="1.35" fill="#9a3324" stroke="#fff" stroke-opacity="0.7" stroke-width="0.35"/>
<circle cx="631.5" cy="58.8" r="1.35" fill="#9a3324" stroke="#fff" stroke-opacity="0.7" stroke-width="0.35"/>
<circle cx="627.6" cy="54.3" r="1.35" fill="#9a3324" stroke="#fff" stroke-opacity="0.7" stroke-width="0.35"/>
<circle cx="629.3" cy="56.2" r="1.35" fill="#9a3324" stroke="#fff" stroke-opacity="0.7" stroke-width="0.35"/>
<circle cx="630.1" cy="52.1" r="1.35" fill="#9a3324" stroke="#fff" stroke-opacity="0.7" stroke-width="0.35"/>
<circle cx="625.6" cy="58.5" r="1.35" fill="#9a3324" stroke="#fff" stroke-opacity="0.7" stroke-width="0.35"/>
<circle cx="625.1" cy="58.0" r="1.35" fill="#9a3324" stroke="#fff" stroke-opacity="0.7" stroke-width="0.35"/>
<circle cx="627.7" cy="55.2" r="1.35" fill="#9a3324" stroke="#fff" stroke-opacity="0.7" stroke-width="0.35"/>
<circle cx="627.3" cy="54.6" r="1.35" fill="#9a3324" stroke="#fff" stroke-opacity="0.7" stroke-width="0.35"/>
<circle cx="626.4" cy="58.9" r="1.35" fill="#9a3324" stroke="#fff" stroke-opacity="0.7" stroke-width="0.35"/>
<circle cx="603.2" cy="106.1" r="1.35" fill="#9a3324" stroke="#fff" stroke-opacity="0.7" stroke-width="0.35"/>
<circle cx="599.9" cy="100.6" r="1.35" fill="#9a3324" stroke="#fff" stroke-opacity="0.7" stroke-width="0.35"/>
<circle cx="600.5" cy="109.5" r="1.35" fill="#9a3324" stroke="#fff" stroke-opacity="0.7" stroke-width="0.35"/>
<circle cx="604.2" cy="104.6" r="1.35" fill="#9a3324" stroke="#fff" stroke-opacity="0.7" stroke-width="0.35"/>
<circle cx="603.4" cy="98.8" r="1.35" fill="#9a3324" stroke="#fff" stroke-opacity="0.7" stroke-width="0.35"/>
<circle cx="607.5" cy="105.3" r="1.35" fill="#9a3324" stroke="#fff" stroke-opacity="0.7" stroke-width="0.35"/>
<circle cx="609.2" cy="95.5" r="1.35" fill="#9a3324" stroke="#fff" stroke-opacity="0.7" stroke-width="0.35"/>
<circle cx="600.8" cy="101.1" r="1.35" fill="#9a3324" stroke="#fff" stroke-opacity="0.7" stroke-width="0.35"/>
<circle cx="607.5" cy="104.6" r="1.35" fill="#9a3324" stroke="#fff" stroke-opacity="0.7" stroke-width="0.35"/>
<circle cx="604.2" cy="98.9" r="1.35" fill="#9a3324" stroke="#fff" stroke-opacity="0.7" stroke-width="0.35"/>
<circle cx="602.0" cy="105.9" r="1.35" fill="#9a3324" stroke="#fff" stroke-opacity="0.7" stroke-width="0.35"/>
<circle cx="602.3" cy="104.4" r="1.35" fill="#9a3324" stroke="#fff" stroke-opacity="0.7" stroke-width="0.35"/>
<circle cx="608.2" cy="99.6" r="1.35" fill="#9a3324" stroke="#fff" stroke-opacity="0.7" stroke-width="0.35"/>
<circle cx="603.4" cy="100.0" r="1.35" fill="#9a3324" stroke="#fff" stroke-opacity="0.7" stroke-width="0.35"/>
<circle cx="609.0" cy="102.5" r="1.35" fill="#9a3324" stroke="#fff" stroke-opacity="0.7" stroke-width="0.35"/>
<circle cx="601.2" cy="97.8" r="1.35" fill="#9a3324" stroke="#fff" stroke-opacity="0.7" stroke-width="0.35"/>
<circle cx="607.7" cy="95.4" r="1.35" fill="#9a3324" stroke="#fff" stroke-opacity="0.7" stroke-width="0.35"/>
<circle cx="609.6" cy="87.1" r="1.35" fill="#9a3324" stroke="#fff" stroke-opacity="0.7" stroke-width="0.35"/>
<circle cx="603.1" cy="101.0" r="1.35" fill="#9a3324" stroke="#fff" stroke-opacity="0.7" stroke-width="0.35"/>
<circle cx="603.3" cy="98.8" r="1.35" fill="#9a3324" stroke="#fff" stroke-opacity="0.7" stroke-width="0.35"/>
<circle cx="596.3" cy="104.1" r="1.35" fill="#9a3324" stroke="#fff" stroke-opacity="0.7" stroke-width="0.35"/>
<circle cx="602.5" cy="100.8" r="1.35" fill="#9a3324" stroke="#fff" stroke-opacity="0.7" stroke-width="0.35"/>
<circle cx="608.3" cy="106.0" r="1.35" fill="#9a3324" stroke="#fff" stroke-opacity="0.7" stroke-width="0.35"/>
<circle cx="608.3" cy="99.4" r="1.35" fill="#9a3324" stroke="#fff" stroke-opacity="0.7" stroke-width="0.35"/>
<circle cx="568.3" cy="140.0" r="1.35" fill="#9a3324" stroke="#fff" stroke-opacity="0.7" stroke-width="0.35"/>
<circle cx="575.6" cy="140.9" r="1.35" fill="#9a3324" stroke="#fff" stroke-opacity="0.7" stroke-width="0.35"/>
<circle cx="577.8" cy="143.6" r="1.35" fill="#9a3324" stroke="#fff" stroke-opacity="0.7" stroke-width="0.35"/>
<circle cx="575.3" cy="145.4" r="1.35" fill="#9a3324" stroke="#fff" stroke-opacity="0.7" stroke-width="0.35"/>
<circle cx="563.2" cy="141.8" r="1.35" fill="#9a3324" stroke="#fff" stroke-opacity="0.7" stroke-width="0.35"/>
<circle cx="566.8" cy="140.6" r="1.35" fill="#9a3324" stroke="#fff" stroke-opacity="0.7" stroke-width="0.35"/>
<circle cx="571.6" cy="145.8" r="1.35" fill="#9a3324" stroke="#fff" stroke-opacity="0.7" stroke-width="0.35"/>
<circle cx="571.8" cy="147.0" r="1.35" fill="#9a3324" stroke="#fff" stroke-opacity="0.7" stroke-width="0.35"/>
<circle cx="569.9" cy="141.8" r="1.35" fill="#9a3324" stroke="#fff" stroke-opacity="0.7" stroke-width="0.35"/>
<circle cx="572.4" cy="144.9" r="1.35" fill="#9a3324" stroke="#fff" stroke-opacity="0.7" stroke-width="0.35"/>
<circle cx="544.0" cy="164.0" r="1.35" fill="#9a3324" stroke="#fff" stroke-opacity="0.7" stroke-width="0.35"/>
<circle cx="637.5" cy="26.5" r="1.35" fill="#5d8c80" stroke="#fff" stroke-opacity="0.7" stroke-width="0.35"/>
<circle cx="631.4" cy="56.5" r="1.35" fill="#dcc680" stroke="#fff" stroke-opacity="0.7" stroke-width="0.35"/>
<circle cx="628.5" cy="57.9" r="1.35" fill="#dcc680" stroke="#fff" stroke-opacity="0.7" stroke-width="0.35"/>
<circle cx="627.5" cy="53.0" r="1.35" fill="#dcc680" stroke="#fff" stroke-opacity="0.7" stroke-width="0.35"/>
<circle cx="631.8" cy="51.2" r="1.35" fill="#dcc680" stroke="#fff" stroke-opacity="0.7" stroke-width="0.35"/>
<circle cx="626.7" cy="63.1" r="1.35" fill="#dcc680" stroke="#fff" stroke-opacity="0.7" stroke-width="0.35"/>
<circle cx="630.5" cy="49.4" r="1.35" fill="#dcc680" stroke="#fff" stroke-opacity="0.7" stroke-width="0.35"/>
<circle cx="633.8" cy="47.2" r="1.35" fill="#dcc680" stroke="#fff" stroke-opacity="0.7" stroke-width="0.35"/>
<circle cx="600.5" cy="108.4" r="1.35" fill="#b9c98f" stroke="#fff" stroke-opacity="0.7" stroke-width="0.35"/>
<circle cx="599.9" cy="107.3" r="1.35" fill="#b9c98f" stroke="#fff" stroke-opacity="0.7" stroke-width="0.35"/>
<circle cx="602.5" cy="105.9" r="1.35" fill="#b9c98f" stroke="#fff" stroke-opacity="0.7" stroke-width="0.35"/>
<circle cx="601.1" cy="106.4" r="1.35" fill="#b9c98f" stroke="#fff" stroke-opacity="0.7" stroke-width="0.35"/>
<circle cx="597.5" cy="109.6" r="1.35" fill="#b9c98f" stroke="#fff" stroke-opacity="0.7" stroke-width="0.35"/>
<circle cx="600.3" cy="105.8" r="1.35" fill="#b9c98f" stroke="#fff" stroke-opacity="0.7" stroke-width="0.35"/>
<circle cx="600.2" cy="109.1" r="1.35" fill="#b9c98f" stroke="#fff" stroke-opacity="0.7" stroke-width="0.35"/>
<circle cx="598.5" cy="111.5" r="1.35" fill="#dd7252" stroke="#fff" stroke-opacity="0.7" stroke-width="0.35"/>
<circle cx="607.8" cy="198.5" r="1.35" fill="#dd7252" stroke="#fff" stroke-opacity="0.7" stroke-width="0.35"/>
<circle cx="608.7" cy="202.5" r="1.35" fill="#dd7252" stroke="#fff" stroke-opacity="0.7" stroke-width="0.35"/>
<circle cx="608.3" cy="202.9" r="1.35" fill="#dd7252" stroke="#fff" stroke-opacity="0.7" stroke-width="0.35"/>
<circle cx="611.1" cy="199.4" r="1.35" fill="#dd7252" stroke="#fff" stroke-opacity="0.7" stroke-width="0.35"/>
<circle cx="608.0" cy="201.9" r="1.35" fill="#dd7252" stroke="#fff" stroke-opacity="0.7" stroke-width="0.35"/>
<circle cx="600.8" cy="203.4" r="1.35" fill="#dd7252" stroke="#fff" stroke-opacity="0.7" stroke-width="0.35"/>
<circle cx="605.3" cy="199.5" r="1.35" fill="#dd7252" stroke="#fff" stroke-opacity="0.7" stroke-width="0.35"/>
<circle cx="606.4" cy="202.3" r="1.35" fill="#dd7252" stroke="#fff" stroke-opacity="0.7" stroke-width="0.35"/>
<circle cx="609.2" cy="203.7" r="1.35" fill="#dd7252" stroke="#fff" stroke-opacity="0.7" stroke-width="0.35"/>
<circle cx="605.6" cy="204.4" r="1.35" fill="#dd7252" stroke="#fff" stroke-opacity="0.7" stroke-width="0.35"/>
<circle cx="609.5" cy="200.6" r="1.35" fill="#dd7252" stroke="#fff" stroke-opacity="0.7" stroke-width="0.35"/>
<circle cx="607.9" cy="204.8" r="1.35" fill="#dd7252" stroke="#fff" stroke-opacity="0.7" stroke-width="0.35"/>
<circle cx="609.5" cy="204.4" r="1.35" fill="#dd7252" stroke="#fff" stroke-opacity="0.7" stroke-width="0.35"/>
<circle cx="608.4" cy="206.0" r="1.35" fill="#dd7252" stroke="#fff" stroke-opacity="0.7" stroke-width="0.35"/>
<circle cx="615.8" cy="203.6" r="1.35" fill="#dd7252" stroke="#fff" stroke-opacity="0.7" stroke-width="0.35"/>
<circle cx="602.4" cy="208.1" r="1.35" fill="#dd7252" stroke="#fff" stroke-opacity="0.7" stroke-width="0.35"/>
<circle cx="593.6" cy="142.6" r="1.35" fill="#2d4c6c" stroke="#fff" stroke-opacity="0.7" stroke-width="0.35"/>
<circle cx="597.5" cy="142.3" r="1.35" fill="#2d4c6c" stroke="#fff" stroke-opacity="0.7" stroke-width="0.35"/>
<circle cx="596.1" cy="177.9" r="1.35" fill="#a8402e" stroke="#fff" stroke-opacity="0.7" stroke-width="0.35"/>
<circle cx="595.7" cy="175.3" r="1.35" fill="#a8402e" stroke="#fff" stroke-opacity="0.7" stroke-width="0.35"/>
<circle cx="587.4" cy="163.1" r="1.35" fill="#a8402e" stroke="#fff" stroke-opacity="0.7" stroke-width="0.35"/>
<circle cx="589.3" cy="164.3" r="1.35" fill="#a8402e" stroke="#fff" stroke-opacity="0.7" stroke-width="0.35"/>
<circle cx="589.6" cy="166.8" r="1.35" fill="#a8402e" stroke="#fff" stroke-opacity="0.7" stroke-width="0.35"/>
<circle cx="595.8" cy="176.2" r="1.35" fill="#a8402e" stroke="#fff" stroke-opacity="0.7" stroke-width="0.35"/>
<circle cx="598.0" cy="180.2" r="1.35" fill="#a8402e" stroke="#fff" stroke-opacity="0.7" stroke-width="0.35"/>
<circle cx="588.4" cy="162.3" r="1.35" fill="#a8402e" stroke="#fff" stroke-opacity="0.7" stroke-width="0.35"/>
<circle cx="597.6" cy="179.3" r="1.35" fill="#a8402e" stroke="#fff" stroke-opacity="0.7" stroke-width="0.35"/>
<circle cx="590.1" cy="168.9" r="1.35" fill="#a8402e" stroke="#fff" stroke-opacity="0.7" stroke-width="0.35"/>
<circle cx="592.9" cy="174.5" r="1.35" fill="#a8402e" stroke="#fff" stroke-opacity="0.7" stroke-width="0.35"/>
<circle cx="587.8" cy="161.5" r="1.35" fill="#a8402e" stroke="#fff" stroke-opacity="0.7" stroke-width="0.35"/>
<circle cx="594.1" cy="178.7" r="1.35" fill="#a8402e" stroke="#fff" stroke-opacity="0.7" stroke-width="0.35"/>
<circle cx="590.9" cy="170.5" r="1.35" fill="#a8402e" stroke="#fff" stroke-opacity="0.7" stroke-width="0.35"/>
<circle cx="604.3" cy="195.8" r="1.35" fill="#a8402e" stroke="#fff" stroke-opacity="0.7" stroke-width="0.35"/>
<circle cx="598.9" cy="201.3" r="1.35" fill="#a8402e" stroke="#fff" stroke-opacity="0.7" stroke-width="0.35"/>
<circle cx="609.3" cy="203.0" r="1.35" fill="#a8402e" stroke="#fff" stroke-opacity="0.7" stroke-width="0.35"/>
<circle cx="604.9" cy="204.3" r="1.35" fill="#a8402e" stroke="#fff" stroke-opacity="0.7" stroke-width="0.35"/>
<circle cx="605.8" cy="198.2" r="1.35" fill="#a8402e" stroke="#fff" stroke-opacity="0.7" stroke-width="0.35"/>
<circle cx="606.2" cy="200.6" r="1.35" fill="#a8402e" stroke="#fff" stroke-opacity="0.7" stroke-width="0.35"/>
<circle cx="538.0" cy="155.5" r="1.35" fill="#e8904e" stroke="#fff" stroke-opacity="0.7" stroke-width="0.35"/></g><rect x="592.4" y="72.3" width="43.2" height="7.4" rx="0.8" fill="#b8cca8" stroke="#525b4b" stroke-width="0.45"/>
<text x="593.8" y="78.4" font-size="6.6" textLength="40.4" lengthAdjust="spacingAndGlyphs" fill="#1e1e1e">OC −Australia</text>
<rect x="596.9" y="65.2" width="47.2" height="7.8" rx="0.8" fill="#ecdca0" stroke="#6a6348" stroke-width="0.45"/>
<text x="598.3" y="71.5" font-size="6.6" textLength="44.4" lengthAdjust="spacingAndGlyphs" fill="#1e1e1e">OC − Tasmania</text>
<rect x="552.4" y="82.8" width="57.8" height="7.8" rx="0.8" fill="#f2cc8a" stroke="#6c5b3e" stroke-width="0.45"/>
<text x="553.8" y="89.1" font-size="6.6" textLength="55.0" lengthAdjust="spacingAndGlyphs" fill="#1e1e1e">OC − New Zealand</text>
<rect x="467.3" y="133.3" width="30.7" height="8.3" rx="0.8" fill="#edb97a" stroke="#6a5336" stroke-width="0.45"/>
<text x="468.7" y="139.8" font-size="6.6" textLength="27.9" lengthAdjust="spacingAndGlyphs" fill="#1e1e1e">NA− USA</text>
<rect x="565.6" y="136.6" width="24.3" height="7.7" rx="0.8" fill="#b5523f" stroke="#51241c" stroke-width="0.45"/>
<text x="567.0" y="142.8" font-size="6.6" textLength="21.5" lengthAdjust="spacingAndGlyphs" fill="#1e1e1e">Europe</text>
<rect x="559.4" y="150.4" width="26.9" height="7.7" rx="0.8" fill="#8b4a3a" stroke="#3e211a" stroke-width="0.45"/>
<text x="560.8" y="156.6" font-size="6.6" textLength="24.1" lengthAdjust="spacingAndGlyphs" fill="#1e1e1e">admixed</text>
<rect x="576.2" y="146.4" width="33.9" height="8.2" rx="0.8" fill="#4f6f8a" stroke="#23313e" stroke-width="0.45"/>
<text x="577.6" y="152.9" font-size="6.6" textLength="31.1" lengthAdjust="spacingAndGlyphs" fill="#1e1e1e">SA − West</text>
<rect x="523.7" y="156.2" width="32.9" height="8.6" rx="0.8" fill="#f0a878" stroke="#6c4b36" stroke-width="0.45"/>
<text x="525.1" y="162.9" font-size="6.6" textLength="30.1" lengthAdjust="spacingAndGlyphs" fill="#1e1e1e">NA −North</text>
<rect x="572.3" y="162.0" width="32.2" height="7.8" rx="0.8" fill="#8faaa0" stroke="#404c48" stroke-width="0.45"/>
<text x="573.7" y="168.3" font-size="6.6" textLength="29.4" lengthAdjust="spacingAndGlyphs" fill="#1e1e1e">SA − East</text>
<rect x="577.6" y="180.3" width="39.8" height="8.1" rx="0.8" fill="#e8907a" stroke="#684036" stroke-width="0.45"/>
<text x="579.0" y="186.7" font-size="6.6" textLength="37.0" lengthAdjust="spacingAndGlyphs" fill="#1e1e1e">MEA − Israel</text>
<rect x="574.6" y="187.7" width="60.0" height="8.4" rx="0.8" fill="#f0a890" stroke="#6c4b40" stroke-width="0.45"/>
<text x="576.0" y="194.3" font-size="6.6" textLength="57.2" lengthAdjust="spacingAndGlyphs" fill="#1e1e1e">MEA − North−Africa</text>
<rect x="595.2" y="208.3" width="35.7" height="7.9" rx="0.8" fill="#d87060" stroke="#61322b" stroke-width="0.45"/>
<text x="596.6" y="214.6" font-size="6.6" textLength="32.9" lengthAdjust="spacingAndGlyphs" fill="#1e1e1e">MEA − Iran</text>
<text x="556.2" y="253.7" font-size="12.45" text-anchor="middle" fill="#262626" >PC1 (3.7 %)</text>
<text transform="translate(418.5,114) rotate(-90)" font-size="12.45" text-anchor="middle" fill="#262626">PC2 (3.1 %)</text>
<line x1="442.42" y1="224.00" x2="442.42" y2="226.00" stroke="#555" stroke-width="0.6" />
<text x="442.4" y="237.3" font-size="8.9" text-anchor="middle" fill="#4d4d4d" >−40</text>
<line x1="504.36" y1="224.00" x2="504.36" y2="226.00" stroke="#555" stroke-width="0.6" />
<text x="504.4" y="237.3" font-size="8.9" text-anchor="middle" fill="#4d4d4d" >−20</text>
<line x1="566.30" y1="224.00" x2="566.30" y2="226.00" stroke="#555" stroke-width="0.6" />
<text x="566.3" y="237.3" font-size="8.9" text-anchor="middle" fill="#4d4d4d" >0</text>
<line x1="628.24" y1="224.00" x2="628.24" y2="226.00" stroke="#555" stroke-width="0.6" />
<text x="628.2" y="237.3" font-size="8.9" text-anchor="middle" fill="#4d4d4d" >20</text>
<line x1="434.70" y1="45.20" x2="436.70" y2="45.20" stroke="#555" stroke-width="0.6" />
<text x="433.2" y="48.4" font-size="8.9" text-anchor="end" fill="#4d4d4d" >40</text>
<line x1="434.70" y1="92.75" x2="436.70" y2="92.75" stroke="#555" stroke-width="0.6" />
<text x="433.2" y="96.0" font-size="8.9" text-anchor="end" fill="#4d4d4d" >20</text>
<line x1="434.70" y1="140.30" x2="436.70" y2="140.30" stroke="#555" stroke-width="0.6" />
<text x="433.2" y="143.5" font-size="8.9" text-anchor="end" fill="#4d4d4d" >0</text>
<line x1="434.70" y1="187.85" x2="436.70" y2="187.85" stroke="#555" stroke-width="0.6" />
<text x="433.2" y="191.1" font-size="8.9" text-anchor="end" fill="#4d4d4d" >−20</text>
<text x="215.3" y="297.4" font-size="12.45" text-anchor="middle" fill="#262626" >Gene CNV event</text>
<rect x="114.50" y="303.10" width="9.40" height="9.20" fill="#744a6b" />
<text x="128.0" y="311.7" font-size="11.2" text-anchor="start" fill="#262626" >partial deletion</text>
<rect x="207.70" y="303.10" width="9.40" height="9.20" fill="#afa134" />
<text x="221.3" y="311.7" font-size="11.2" text-anchor="start" fill="#262626" >deletion</text>
<rect x="270.10" y="303.10" width="9.40" height="9.20" fill="#768f8f" />
<text x="282.0" y="311.7" font-size="11.2" text-anchor="start" fill="#262626" >duplication</text>
<text x="224.2" y="332.4" font-size="10.85" text-anchor="middle" fill="#262626" >core</text>
<text x="307.3" y="332.4" font-size="11.2" text-anchor="middle" fill="#262626" >accessory</text>
<text x="355.2" y="332.0" font-size="10" text-anchor="middle" fill="#262626" font-style="italic">n</text>
<rect x="106.5" y="335.5" width="254.9" height="253.8" fill="none" stroke="#d6d6d6" stroke-width="0.8"/>
<line x1="347.50" y1="335.50" x2="347.50" y2="589.30" stroke="#9a9a9a" stroke-width="0.8" />
<text x="100.8" y="347.4" font-size="11.2" text-anchor="end" fill="#262626" >Europe</text>
<line x1="104.30" y1="344.20" x2="106.20" y2="344.20" stroke="#444" stroke-width="0.8" />
<text x="354.9" y="346.9" font-size="7.5" text-anchor="middle" fill="#262626" >557</text>
<text x="100.8" y="370.4" font-size="11.2" text-anchor="end" fill="#262626" >NA− USA</text>
<line x1="104.30" y1="367.18" x2="106.20" y2="367.18" stroke="#444" stroke-width="0.8" />
<text x="354.9" y="369.9" font-size="7.5" text-anchor="middle" fill="#262626" >179</text>
<text x="100.8" y="393.4" font-size="11.2" text-anchor="end" fill="#262626" >NA −North</text>
<line x1="104.30" y1="390.16" x2="106.20" y2="390.16" stroke="#444" stroke-width="0.8" />
<text x="354.9" y="392.9" font-size="7.5" text-anchor="middle" fill="#262626" >20</text>
<text x="100.8" y="416.3" font-size="11.2" text-anchor="end" fill="#262626" >OC − New Zealand</text>
<line x1="104.30" y1="413.14" x2="106.20" y2="413.14" stroke="#444" stroke-width="0.8" />
<text x="354.9" y="415.8" font-size="7.5" text-anchor="middle" fill="#262626" >31</text>
<text x="100.8" y="439.3" font-size="11.2" text-anchor="end" fill="#262626" >OC − Tasmania</text>
<line x1="104.30" y1="436.12" x2="106.20" y2="436.12" stroke="#444" stroke-width="0.8" />
<text x="354.9" y="438.8" font-size="7.5" text-anchor="middle" fill="#262626" >43</text>
<text x="100.8" y="462.3" font-size="11.2" text-anchor="end" fill="#262626" >OC −Australia</text>
<line x1="104.30" y1="459.10" x2="106.20" y2="459.10" stroke="#444" stroke-width="0.8" />
<text x="354.9" y="461.8" font-size="7.5" text-anchor="middle" fill="#262626" >37</text>
<text x="100.8" y="485.3" font-size="11.2" text-anchor="end" fill="#262626" >SA − West</text>
<line x1="104.30" y1="482.08" x2="106.20" y2="482.08" stroke="#444" stroke-width="0.8" />
<text x="354.9" y="484.8" font-size="7.5" text-anchor="middle" fill="#262626" >16</text>
<text x="100.8" y="508.3" font-size="11.2" text-anchor="end" fill="#262626" >SA − East</text>
<line x1="104.30" y1="505.06" x2="106.20" y2="505.06" stroke="#444" stroke-width="0.8" />
<text x="354.9" y="507.8" font-size="7.5" text-anchor="middle" fill="#262626" >30</text>
<text x="100.8" y="531.2" font-size="11.2" text-anchor="end" fill="#262626" >MEA − Iran</text>
<line x1="104.30" y1="528.04" x2="106.20" y2="528.04" stroke="#444" stroke-width="0.8" />
<text x="354.9" y="530.7" font-size="7.5" text-anchor="middle" fill="#262626" >16</text>
<text x="100.8" y="554.2" font-size="11.2" text-anchor="end" fill="#262626" >MEA − North−Africa</text>
<line x1="104.30" y1="551.02" x2="106.20" y2="551.02" stroke="#444" stroke-width="0.8" />
<text x="354.9" y="553.7" font-size="7.5" text-anchor="middle" fill="#262626" >30</text>
<text x="100.8" y="577.2" font-size="11.2" text-anchor="end" fill="#262626" >MEA − Israel</text>
<line x1="104.30" y1="574.00" x2="106.20" y2="574.00" stroke="#444" stroke-width="0.8" />
<text x="354.9" y="576.7" font-size="7.5" text-anchor="middle" fill="#262626" >40</text>
<line x1="119.90" y1="344.20" x2="131.10" y2="344.20" stroke="#5a5a5a" stroke-width="0.9" />
<line x1="137.70" y1="344.20" x2="144.00" y2="344.20" stroke="#5a5a5a" stroke-width="0.9" />
<rect x="131.10" y="335.60" width="6.60" height="17.20" fill="#cfcfcf" stroke="#c0c0c0" stroke-width="0.4"/>
<rect x="134.00" y="335.60" width="2.10" height="17.20" fill="#4d4d4d" />
<circle cx="109.3" cy="344.2" r="1.1" fill="#b0b0b0"/>
<circle cx="114.1" cy="344.2" r="1.1" fill="#b0b0b0"/>
<circle cx="117.5" cy="344.2" r="1.1" fill="#b0b0b0"/>
<circle cx="119.9" cy="344.2" r="1.25" fill="#555"/>
<circle cx="168.4" cy="344.2" r="1.25" fill="#555"/>
<text x="146.8" y="347.1" font-size="8.0" text-anchor="start" fill="#4d4d4d" >d</text>
<line x1="125.30" y1="367.18" x2="131.40" y2="367.18" stroke="#5a5a5a" stroke-width="0.9" />
<line x1="136.30" y1="367.18" x2="140.50" y2="367.18" stroke="#5a5a5a" stroke-width="0.9" />
<rect x="131.40" y="358.58" width="4.90" height="17.20" fill="#cfcfcf" stroke="#c0c0c0" stroke-width="0.4"/>
<rect x="132.80" y="358.58" width="1.50" height="17.20" fill="#4d4d4d" />
<circle cx="121.6" cy="367.2" r="1.1" fill="#b0b0b0"/>
<circle cx="143.7" cy="367.2" r="1.25" fill="#555"/>
<circle cx="158.6" cy="367.2" r="1.1" fill="#b0b0b0"/>
<text x="146.8" y="370.1" font-size="8.0" text-anchor="start" fill="#4d4d4d" >d</text>
<line x1="132.00" y1="390.16" x2="137.60" y2="390.16" stroke="#5a5a5a" stroke-width="0.9" />
<line x1="140.20" y1="390.16" x2="142.50" y2="390.16" stroke="#5a5a5a" stroke-width="0.9" />
<rect x="137.60" y="381.56" width="2.60" height="17.20" fill="#cfcfcf" stroke="#c0c0c0" stroke-width="0.4"/>
<rect x="137.60" y="381.56" width="2.60" height="17.20" fill="#4d4d4d" />
<text x="144.0" y="393.1" font-size="8.0" text-anchor="start" fill="#4d4d4d" >c</text>
<line x1="134.10" y1="413.14" x2="136.20" y2="413.14" stroke="#5a5a5a" stroke-width="0.9" />
<line x1="138.60" y1="413.14" x2="142.50" y2="413.14" stroke="#5a5a5a" stroke-width="0.9" />
<rect x="136.20" y="404.54" width="2.40" height="17.20" fill="#cfcfcf" stroke="#c0c0c0" stroke-width="0.4"/>
<rect x="136.20" y="404.54" width="1.80" height="17.20" fill="#4d4d4d" />
<circle cx="144.9" cy="413.1" r="1.1" fill="#b0b0b0"/>
<text x="148.1" y="416.0" font-size="8.0" text-anchor="start" fill="#4d4d4d" >c</text>
<line x1="132.70" y1="436.12" x2="136.20" y2="436.12" stroke="#5a5a5a" stroke-width="0.9" />
<line x1="138.80" y1="436.12" x2="141.70" y2="436.12" stroke="#5a5a5a" stroke-width="0.9" />
<rect x="136.20" y="427.52" width="2.60" height="17.20" fill="#cfcfcf" stroke="#c0c0c0" stroke-width="0.4"/>
<rect x="136.60" y="427.52" width="1.30" height="17.20" fill="#4d4d4d" />
<circle cx="156.6" cy="436.1" r="1.1" fill="#b0b0b0"/>
<text x="144.1" y="439.0" font-size="8.0" text-anchor="start" fill="#4d4d4d" >c</text>
<line x1="132.90" y1="459.10" x2="137.10" y2="459.10" stroke="#5a5a5a" stroke-width="0.9" />
<line x1="138.80" y1="459.10" x2="140.40" y2="459.10" stroke="#5a5a5a" stroke-width="0.9" />
<rect x="137.10" y="450.50" width="1.70" height="17.20" fill="#cfcfcf" stroke="#c0c0c0" stroke-width="0.4"/>
<rect x="137.10" y="450.50" width="1.70" height="17.20" fill="#4d4d4d" />
<circle cx="151.6" cy="459.1" r="1.1" fill="#b0b0b0"/>
<circle cx="158.6" cy="459.1" r="1.1" fill="#b0b0b0"/>
<circle cx="167.1" cy="459.1" r="1.1" fill="#b0b0b0"/>
<circle cx="185.1" cy="459.1" r="1.1" fill="#b0b0b0"/>
<text x="144.1" y="462.0" font-size="8.0" text-anchor="start" fill="#4d4d4d" >bc</text>
<line x1="135.20" y1="482.08" x2="138.60" y2="482.08" stroke="#5a5a5a" stroke-width="0.9" />
<line x1="140.80" y1="482.08" x2="144.10" y2="482.08" stroke="#5a5a5a" stroke-width="0.9" />
<rect x="138.60" y="473.48" width="2.20" height="17.20" fill="#cfcfcf" stroke="#c0c0c0" stroke-width="0.4"/>
<rect x="139.50" y="473.48" width="1.10" height="17.20" fill="#4d4d4d" />
<text x="145.7" y="485.0" font-size="8.0" text-anchor="start" fill="#4d4d4d" >bc</text>
<line x1="134.20" y1="505.06" x2="137.10" y2="505.06" stroke="#5a5a5a" stroke-width="0.9" />
<line x1="141.50" y1="505.06" x2="144.50" y2="505.06" stroke="#5a5a5a" stroke-width="0.9" />
<rect x="137.10" y="496.46" width="4.40" height="17.20" fill="#cfcfcf" stroke="#c0c0c0" stroke-width="0.4"/>
<rect x="138.70" y="496.46" width="1.20" height="17.20" fill="#4d4d4d" />
<text x="146.7" y="508.0" font-size="8.0" text-anchor="start" fill="#4d4d4d" >bc</text>
<line x1="143.40" y1="528.04" x2="143.40" y2="528.04" stroke="#5a5a5a" stroke-width="0.9" />
<line x1="146.10" y1="528.04" x2="146.10" y2="528.04" stroke="#5a5a5a" stroke-width="0.9" />
<rect x="143.40" y="519.44" width="2.70" height="17.20" fill="#e3cfcc" stroke="#c0c0c0" stroke-width="0.4"/>
<rect x="143.90" y="519.44" width="1.10" height="17.20" fill="#4d4d4d" />
<circle cx="139.5" cy="528.0" r="1.25" fill="#555"/>
<text x="149.6" y="530.9" font-size="8.0" text-anchor="start" fill="#4d4d4d" >ab</text>
<line x1="142.00" y1="551.02" x2="145.10" y2="551.02" stroke="#5a5a5a" stroke-width="0.9" />
<line x1="148.60" y1="551.02" x2="149.60" y2="551.02" stroke="#5a5a5a" stroke-width="0.9" />
<rect x="145.10" y="542.42" width="3.50" height="17.20" fill="#cfcfcf" stroke="#c0c0c0" stroke-width="0.4"/>
<rect x="145.10" y="542.42" width="1.90" height="17.20" fill="#4d4d4d" />
<text x="152.0" y="553.9" font-size="8.0" text-anchor="start" fill="#4d4d4d" >a</text>
<line x1="137.20" y1="574.00" x2="142.60" y2="574.00" stroke="#5a5a5a" stroke-width="0.9" />
<line x1="147.70" y1="574.00" x2="149.60" y2="574.00" stroke="#5a5a5a" stroke-width="0.9" />
<rect x="142.60" y="565.40" width="5.10" height="17.20" fill="#cfcfcf" stroke="#c0c0c0" stroke-width="0.4"/>
<rect x="144.80" y="565.40" width="1.20" height="17.20" fill="#4d4d4d" />
<text x="152.0" y="576.9" font-size="8.0" text-anchor="start" fill="#4d4d4d" >a</text>
<line x1="115.80" y1="589.00" x2="188.00" y2="589.00" stroke="#5a5a5a" stroke-width="1.4" />
<line x1="127.26" y1="589.00" x2="127.26" y2="591.30" stroke="#555" stroke-width="0.6" />
<text x="127.3" y="599.2" font-size="8.2" text-anchor="middle" fill="#4d4d4d" >30</text>
<line x1="153.40" y1="589.00" x2="153.40" y2="591.30" stroke="#555" stroke-width="0.6" />
<text x="153.4" y="599.2" font-size="8.2" text-anchor="middle" fill="#4d4d4d" >100</text>
<line x1="177.26" y1="589.00" x2="177.26" y2="591.30" stroke="#555" stroke-width="0.6" />
<text x="177.3" y="599.2" font-size="8.2" text-anchor="middle" fill="#4d4d4d" >300</text>
<text x="146.9" y="624.5" font-size="12.3" text-anchor="middle" fill="#262626" >CNV per strain</text>
<rect x="194.50" y="337.00" width="6.50" height="20.40" fill="#744a6b" />
<rect x="201.00" y="337.00" width="36.00" height="20.40" fill="#768f8f" />
<rect x="237.00" y="337.00" width="23.60" height="20.40" fill="#afa134" />
<rect x="270.30" y="337.00" width="2.70" height="20.40" fill="#744a6b" />
<rect x="273.00" y="337.00" width="10.60" height="20.40" fill="#768f8f" />
<rect x="283.60" y="337.00" width="53.30" height="20.40" fill="#afa134" />
<rect x="194.50" y="359.72" width="2.40" height="20.40" fill="#744a6b" />
<rect x="196.90" y="359.72" width="8.30" height="20.40" fill="#768f8f" />
<rect x="205.20" y="359.72" width="14.00" height="20.40" fill="#afa134" />
<rect x="270.30" y="359.72" width="0.70" height="20.40" fill="#744a6b" />
<rect x="271.00" y="359.72" width="10.70" height="20.40" fill="#768f8f" />
<rect x="281.70" y="359.72" width="46.90" height="20.40" fill="#afa134" />
<rect x="194.50" y="382.44" width="1.30" height="20.40" fill="#744a6b" />
<rect x="195.80" y="382.44" width="7.20" height="20.40" fill="#afa134" />
<rect x="270.30" y="382.44" width="3.10" height="20.40" fill="#768f8f" />
<rect x="273.40" y="382.44" width="20.70" height="20.40" fill="#afa134" />
<rect x="194.50" y="405.16" width="1.10" height="20.40" fill="#744a6b" />
<rect x="195.60" y="405.16" width="7.70" height="20.40" fill="#afa134" />
<rect x="270.30" y="405.16" width="0.70" height="20.40" fill="#744a6b" />
<rect x="271.00" y="405.16" width="3.40" height="20.40" fill="#768f8f" />
<rect x="274.40" y="405.16" width="19.40" height="20.40" fill="#afa134" />
<rect x="194.50" y="427.88" width="1.10" height="20.40" fill="#744a6b" />
<rect x="195.60" y="427.88" width="5.80" height="20.40" fill="#768f8f" />
<rect x="201.40" y="427.88" width="8.40" height="20.40" fill="#afa134" />
<rect x="270.30" y="427.88" width="1.60" height="20.40" fill="#744a6b" />
<rect x="271.90" y="427.88" width="4.10" height="20.40" fill="#768f8f" />
<rect x="276.00" y="427.88" width="29.40" height="20.40" fill="#afa134" />
<rect x="194.50" y="450.60" width="1.10" height="20.40" fill="#744a6b" />
<rect x="195.60" y="450.60" width="40.80" height="20.40" fill="#768f8f" />
<rect x="236.40" y="450.60" width="11.60" height="20.40" fill="#afa134" />
<rect x="270.30" y="450.60" width="0.60" height="20.40" fill="#744a6b" />
<rect x="270.90" y="450.60" width="4.60" height="20.40" fill="#768f8f" />
<rect x="275.50" y="450.60" width="34.40" height="20.40" fill="#afa134" />
<rect x="194.50" y="473.32" width="1.00" height="20.40" fill="#744a6b" />
<rect x="195.50" y="473.32" width="8.20" height="20.40" fill="#afa134" />
<rect x="270.30" y="473.32" width="1.60" height="20.40" fill="#768f8f" />
<rect x="271.90" y="473.32" width="21.60" height="20.40" fill="#afa134" />
<rect x="194.50" y="496.04" width="1.10" height="20.40" fill="#744a6b" />
<rect x="195.60" y="496.04" width="1.00" height="20.40" fill="#768f8f" />
<rect x="196.60" y="496.04" width="9.80" height="20.40" fill="#afa134" />
<rect x="270.30" y="496.04" width="2.80" height="20.40" fill="#768f8f" />
<rect x="273.10" y="496.04" width="25.70" height="20.40" fill="#afa134" />
<rect x="194.50" y="518.76" width="1.10" height="20.40" fill="#744a6b" />
<rect x="195.60" y="518.76" width="10.00" height="20.40" fill="#afa134" />
<rect x="270.30" y="518.76" width="1.20" height="20.40" fill="#768f8f" />
<rect x="271.50" y="518.76" width="19.50" height="20.40" fill="#afa134" />
<rect x="194.50" y="541.48" width="1.50" height="20.40" fill="#744a6b" />
<rect x="196.00" y="541.48" width="1.00" height="20.40" fill="#768f8f" />
<rect x="197.00" y="541.48" width="14.10" height="20.40" fill="#afa134" />
<rect x="270.30" y="541.48" width="1.00" height="20.40" fill="#744a6b" />
<rect x="271.30" y="541.48" width="2.50" height="20.40" fill="#768f8f" />
<rect x="273.80" y="541.48" width="34.00" height="20.40" fill="#afa134" />
<rect x="194.50" y="564.20" width="2.00" height="20.40" fill="#744a6b" />
<rect x="196.50" y="564.20" width="13.50" height="20.40" fill="#afa134" />
<rect x="270.30" y="564.20" width="4.70" height="20.40" fill="#768f8f" />
<rect x="275.00" y="564.20" width="26.70" height="20.40" fill="#afa134" />
<line x1="190.90" y1="589.00" x2="263.40" y2="589.00" stroke="#1a1a1a" stroke-width="1.3" />
<line x1="190.90" y1="589.00" x2="190.90" y2="591.60" stroke="#1a1a1a" stroke-width="0.8" />
<text transform="translate(195.1,596.6) rotate(-45)" font-size="8.2" text-anchor="end" fill="#4d4d4d">0</text>
<line x1="210.70" y1="589.00" x2="210.70" y2="591.60" stroke="#1a1a1a" stroke-width="0.8" />
<text transform="translate(214.9,596.6) rotate(-45)" font-size="8.2" text-anchor="end" fill="#4d4d4d">0.025</text>
<line x1="227.10" y1="589.00" x2="227.10" y2="591.60" stroke="#1a1a1a" stroke-width="0.8" />
<text transform="translate(231.3,596.6) rotate(-45)" font-size="8.2" text-anchor="end" fill="#4d4d4d">0.050</text>
<line x1="243.50" y1="589.00" x2="243.50" y2="591.60" stroke="#1a1a1a" stroke-width="0.8" />
<text transform="translate(247.7,596.6) rotate(-45)" font-size="8.2" text-anchor="end" fill="#4d4d4d">0.075</text>
<line x1="259.90" y1="589.00" x2="259.90" y2="591.60" stroke="#1a1a1a" stroke-width="0.8" />
<text transform="translate(264.1,596.6) rotate(-45)" font-size="8.2" text-anchor="end" fill="#4d4d4d">0.100</text>
<line x1="267.20" y1="589.00" x2="339.80" y2="589.00" stroke="#1a1a1a" stroke-width="1.3" />
<line x1="270.40" y1="589.00" x2="270.40" y2="591.60" stroke="#1a1a1a" stroke-width="0.8" />
<text transform="translate(274.6,596.6) rotate(-45)" font-size="8.2" text-anchor="end" fill="#4d4d4d">0.0</text>
<line x1="286.68" y1="589.00" x2="286.68" y2="591.60" stroke="#1a1a1a" stroke-width="0.8" />
<text transform="translate(290.9,596.6) rotate(-45)" font-size="8.2" text-anchor="end" fill="#4d4d4d">0.1</text>
<line x1="302.96" y1="589.00" x2="302.96" y2="591.60" stroke="#1a1a1a" stroke-width="0.8" />
<text transform="translate(307.2,596.6) rotate(-45)" font-size="8.2" text-anchor="end" fill="#4d4d4d">0.2</text>
<line x1="319.24" y1="589.00" x2="319.24" y2="591.60" stroke="#1a1a1a" stroke-width="0.8" />
<text transform="translate(323.4,596.6) rotate(-45)" font-size="8.2" text-anchor="end" fill="#4d4d4d">0.3</text>
<line x1="335.52" y1="589.00" x2="335.52" y2="591.60" stroke="#1a1a1a" stroke-width="0.8" />
<text transform="translate(339.7,596.6) rotate(-45)" font-size="8.2" text-anchor="end" fill="#4d4d4d">0.4</text>
<text x="266.0" y="624.5" font-size="12.3" text-anchor="middle" fill="#262626" >CNV frequency</text>
<line x1="447.85" y1="302.20" x2="447.85" y2="438.30" stroke="#ebebeb" stroke-width="0.5" />
<line x1="461.30" y1="302.20" x2="461.30" y2="438.30" stroke="#ebebeb" stroke-width="0.7" />
<line x1="474.75" y1="302.20" x2="474.75" y2="438.30" stroke="#ebebeb" stroke-width="0.5" />
<line x1="488.20" y1="302.20" x2="488.20" y2="438.30" stroke="#ebebeb" stroke-width="0.7" />
<line x1="501.65" y1="302.20" x2="501.65" y2="438.30" stroke="#ebebeb" stroke-width="0.5" />
<line x1="515.10" y1="302.20" x2="515.10" y2="438.30" stroke="#ebebeb" stroke-width="0.7" />
<line x1="528.55" y1="302.20" x2="528.55" y2="438.30" stroke="#ebebeb" stroke-width="0.5" />
<line x1="542.00" y1="302.20" x2="542.00" y2="438.30" stroke="#ebebeb" stroke-width="0.7" />
<line x1="436.40" y1="425.60" x2="551.20" y2="425.60" stroke="#ebebeb" stroke-width="0.6" />
<line x1="436.40" y1="407.00" x2="551.20" y2="407.00" stroke="#ebebeb" stroke-width="0.6" />
<line x1="436.40" y1="388.40" x2="551.20" y2="388.40" stroke="#ebebeb" stroke-width="0.6" />
<line x1="436.40" y1="369.80" x2="551.20" y2="369.80" stroke="#ebebeb" stroke-width="0.6" />
<line x1="436.40" y1="351.20" x2="551.20" y2="351.20" stroke="#ebebeb" stroke-width="0.6" />
<line x1="436.40" y1="332.60" x2="551.20" y2="332.60" stroke="#ebebeb" stroke-width="0.6" />
<line x1="436.40" y1="314.00" x2="551.20" y2="314.00" stroke="#ebebeb" stroke-width="0.6" />
<rect x="436.4" y="302.2" width="114.8" height="136.1" fill="none" stroke="#cfcfcf" stroke-width="0.8"/>
<line x1="447.85" y1="460.80" x2="447.85" y2="597.40" stroke="#ebebeb" stroke-width="0.5" />
<line x1="461.30" y1="460.80" x2="461.30" y2="597.40" stroke="#ebebeb" stroke-width="0.7" />
<line x1="474.75" y1="460.80" x2="474.75" y2="597.40" stroke="#ebebeb" stroke-width="0.5" />
<line x1="488.20" y1="460.80" x2="488.20" y2="597.40" stroke="#ebebeb" stroke-width="0.7" />
<line x1="501.65" y1="460.80" x2="501.65" y2="597.40" stroke="#ebebeb" stroke-width="0.5" />
<line x1="515.10" y1="460.80" x2="515.10" y2="597.40" stroke="#ebebeb" stroke-width="0.7" />
<line x1="528.55" y1="460.80" x2="528.55" y2="597.40" stroke="#ebebeb" stroke-width="0.5" />
<line x1="542.00" y1="460.80" x2="542.00" y2="597.40" stroke="#ebebeb" stroke-width="0.7" />
<line x1="436.40" y1="595.30" x2="551.20" y2="595.30" stroke="#ebebeb" stroke-width="0.6" />
<line x1="436.40" y1="576.02" x2="551.20" y2="576.02" stroke="#ebebeb" stroke-width="0.6" />
<line x1="436.40" y1="556.75" x2="551.20" y2="556.75" stroke="#ebebeb" stroke-width="0.6" />
<line x1="436.40" y1="537.47" x2="551.20" y2="537.47" stroke="#ebebeb" stroke-width="0.6" />
<line x1="436.40" y1="518.20" x2="551.20" y2="518.20" stroke="#ebebeb" stroke-width="0.6" />
<line x1="436.40" y1="498.92" x2="551.20" y2="498.92" stroke="#ebebeb" stroke-width="0.6" />
<line x1="436.40" y1="479.65" x2="551.20" y2="479.65" stroke="#ebebeb" stroke-width="0.6" />
<rect x="436.4" y="460.8" width="114.8" height="136.6" fill="none" stroke="#cfcfcf" stroke-width="0.8"/>
<text x="492.4" y="297.2" font-size="9.8" text-anchor="middle" fill="#262626" >Deletion</text>
<text x="497.4" y="458.2" font-size="10.0" text-anchor="middle" fill="#262626" >Duplication</text>
<line x1="434.40" y1="407.00" x2="436.40" y2="407.00" stroke="#555" stroke-width="0.6" />
<text x="433.2" y="409.6" font-size="7.4" text-anchor="end" fill="#4d4d4d" >40</text>
<line x1="434.40" y1="369.80" x2="436.40" y2="369.80" stroke="#555" stroke-width="0.6" />
<text x="433.2" y="372.4" font-size="7.4" text-anchor="end" fill="#4d4d4d" >50</text>
<line x1="434.40" y1="332.60" x2="436.40" y2="332.60" stroke="#555" stroke-width="0.6" />
<text x="433.2" y="335.2" font-size="7.4" text-anchor="end" fill="#4d4d4d" >60</text>
<line x1="434.40" y1="595.30" x2="436.40" y2="595.30" stroke="#555" stroke-width="0.6" />
<text x="433.2" y="597.9" font-size="7.4" text-anchor="end" fill="#4d4d4d" >0</text>
<line x1="434.40" y1="556.75" x2="436.40" y2="556.75" stroke="#555" stroke-width="0.6" />
<text x="433.2" y="559.4" font-size="7.4" text-anchor="end" fill="#4d4d4d" >10</text>
<line x1="434.40" y1="518.20" x2="436.40" y2="518.20" stroke="#555" stroke-width="0.6" />
<text x="433.2" y="520.8" font-size="7.4" text-anchor="end" fill="#4d4d4d" >20</text>
<line x1="434.40" y1="479.65" x2="436.40" y2="479.65" stroke="#555" stroke-width="0.6" />
<text x="433.2" y="482.2" font-size="7.4" text-anchor="end" fill="#4d4d4d" >30</text>
<line x1="461.30" y1="438.30" x2="461.30" y2="440.30" stroke="#555" stroke-width="0.6" />
<text x="461.3" y="446.8" font-size="7.9" text-anchor="middle" fill="#4d4d4d" >1.2</text>
<line x1="461.30" y1="597.40" x2="461.30" y2="599.40" stroke="#555" stroke-width="0.6" />
<text x="461.3" y="605.2" font-size="7.9" text-anchor="middle" fill="#4d4d4d" >1.2</text>
<line x1="488.20" y1="438.30" x2="488.20" y2="440.30" stroke="#555" stroke-width="0.6" />
<text x="488.2" y="446.8" font-size="7.9" text-anchor="middle" fill="#4d4d4d" >1.4</text>
<line x1="488.20" y1="597.40" x2="488.20" y2="599.40" stroke="#555" stroke-width="0.6" />
<text x="488.2" y="605.2" font-size="7.9" text-anchor="middle" fill="#4d4d4d" >1.4</text>
<line x1="515.10" y1="438.30" x2="515.10" y2="440.30" stroke="#555" stroke-width="0.6" />
<text x="515.1" y="446.8" font-size="7.9" text-anchor="middle" fill="#4d4d4d" >1.6</text>
<line x1="515.10" y1="597.40" x2="515.10" y2="599.40" stroke="#555" stroke-width="0.6" />
<text x="515.1" y="605.2" font-size="7.9" text-anchor="middle" fill="#4d4d4d" >1.6</text>
<line x1="542.00" y1="438.30" x2="542.00" y2="440.30" stroke="#555" stroke-width="0.6" />
<text x="542.0" y="446.8" font-size="7.9" text-anchor="middle" fill="#4d4d4d" >1.8</text>
<line x1="542.00" y1="597.40" x2="542.00" y2="599.40" stroke="#555" stroke-width="0.6" />
<text x="542.0" y="605.2" font-size="7.9" text-anchor="middle" fill="#4d4d4d" >1.8</text>
<text x="497.3" y="624.4" font-size="12.45" text-anchor="middle" fill="#262626" >RIP Composite index</text>
<text transform="translate(419.8,434.3) rotate(-90)" font-size="12.45" text-anchor="middle" fill="#262626">Mean CNV per strain</text>
<rect x="527.5" y="304.5" width="22.1" height="37" fill="none" stroke="#3fb574" stroke-width="1.1"/>
<rect x="437.2" y="372.4" width="60.9" height="63.8" fill="none" stroke="#888" stroke-width="0.9" stroke-dasharray="1 1.2"/>
<rect x="526.4" y="567.4" width="24.0" height="27.6" fill="none" stroke="#3fb574" stroke-width="1.1"/>
<rect x="437.2" y="461.6" width="60.5" height="133.8" fill="none" stroke="#888" stroke-width="0.9" stroke-dasharray="1 1.2"/>
<circle cx="546.0" cy="308.2" r="3.5" fill="#d46c55"/>
<circle cx="532.1" cy="328.8" r="3.5" fill="#b44a3b"/>
<circle cx="533.7" cy="336.2" r="3.5" fill="#8e3a2b"/>
<circle cx="477.8" cy="379.0" r="3.5" fill="#4f7d72"/>
<circle cx="493.6" cy="377.0" r="3.5" fill="#95b48a"/>
<circle cx="479.3" cy="391.3" r="3.5" fill="#e07c5b"/>
<circle cx="478.0" cy="399.5" r="3.5" fill="#e8a24e"/>
<circle cx="478.4" cy="398.3" r="3.5" fill="#ecbd62"/>
<circle cx="441.5" cy="395.8" r="3.5" fill="#cdbf7c"/>
<circle cx="480.3" cy="423.0" r="3.5" fill="#6b2a1c"/>
<circle cx="448.6" cy="432.6" r="3.5" fill="#e28a4c"/>
<path d="M441.5 462.3 L445.7 469.3 L437.3 469.3 Z" fill="#cdbf7c"/>
<path d="M478.2 554.6 L482.4 561.6 L474.0 561.6 Z" fill="#ecbd62"/>
<path d="M448.6 570.6 L452.8 577.6 L444.4 577.6 Z" fill="#e28a4c"/>
<path d="M480.3 574.6 L484.5 581.6 L476.1 581.6 Z" fill="#6b2a1c"/>
<path d="M479.7 582.2 L483.9 589.2 L475.5 589.2 Z" fill="#e07c5b"/>
<path d="M477.8 586.9 L482.0 593.9 L473.6 593.9 Z" fill="#e8a24e"/>
<path d="M493.2 582.2 L497.4 589.2 L489.0 589.2 Z" fill="#95b48a"/>
<path d="M533.8 582.8 L538.0 589.8 L529.6 589.8 Z" fill="#8e3a2b"/>
<path d="M532.0 586.7 L536.2 593.7 L527.8 593.7 Z" fill="#b44a3b"/>
<path d="M546.1 578.1 L550.3 585.1 L541.9 585.1 Z" fill="#d46c55"/>
<text x="583.4" y="312.6" font-size="12.45" text-anchor="start" fill="#262626" >RIP machinery</text>
<rect x="586.8" y="325.6" width="8.4" height="8.2" fill="none" stroke="#3fb574" stroke-width="1.1"/>
<text x="597.7" y="333.5" font-size="9.8" text-anchor="start" fill="#262626" >Functional</text>
<rect x="586.8" y="344.4" width="8.4" height="8.2" fill="none" stroke="#888" stroke-width="0.9" stroke-dasharray="1 1.2"/>
<text x="597.7" y="352.4" font-size="9.9" text-anchor="start" fill="#262626" >Non-functional</text>
<text x="585.1" y="381.5" font-size="12.3" text-anchor="start" fill="#262626" >Population</text>
<circle cx="586.4" cy="401.4" r="2.15" fill="#6b2a1c"/>
<text x="595.6" y="404.9" font-size="10.0" text-anchor="start" fill="#262626" >Europe</text>
<circle cx="586.4" cy="416.6" r="2.15" fill="#8e3a2b"/>
<text x="595.6" y="420.1" font-size="10.0" text-anchor="start" fill="#262626" >MEA − Iran</text>
<circle cx="586.4" cy="431.8" r="2.15" fill="#b44a3b"/>
<text x="595.6" y="435.3" font-size="10.0" text-anchor="start" fill="#262626" >MEA − Israel</text>
<circle cx="586.4" cy="447.0" r="2.15" fill="#d46c55"/>
<text x="595.6" y="450.5" font-size="10.0" text-anchor="start" fill="#262626" >MEA − North−Africa</text>
<circle cx="586.4" cy="462.2" r="2.15" fill="#e07c5b"/>
<text x="595.6" y="465.7" font-size="10.0" text-anchor="start" fill="#262626" >NA −North</text>
<circle cx="586.4" cy="477.4" r="2.15" fill="#e28a4c"/>
<text x="595.6" y="480.9" font-size="10.0" text-anchor="start" fill="#262626" >NA− USA</text>
<circle cx="586.4" cy="492.7" r="2.15" fill="#e8a24e"/>
<text x="595.6" y="496.2" font-size="10.0" text-anchor="start" fill="#262626" >OC − New Zealand</text>
<circle cx="586.4" cy="507.9" r="2.15" fill="#ecbd62"/>
<text x="595.6" y="511.4" font-size="10.0" text-anchor="start" fill="#262626" >OC − Tasmania</text>
<circle cx="586.4" cy="523.1" r="2.15" fill="#cdbf7c"/>
<text x="595.6" y="526.6" font-size="10.0" text-anchor="start" fill="#262626" >OC −Australia</text>
<circle cx="586.4" cy="538.3" r="2.15" fill="#95b48a"/>
<text x="595.6" y="541.8" font-size="10.0" text-anchor="start" fill="#262626" >SA − East</text>
<circle cx="586.4" cy="553.5" r="2.15" fill="#4f7d72"/>
<text x="595.6" y="557.0" font-size="10.0" text-anchor="start" fill="#262626" >SA − West</text>
</svg>
</body></html>
